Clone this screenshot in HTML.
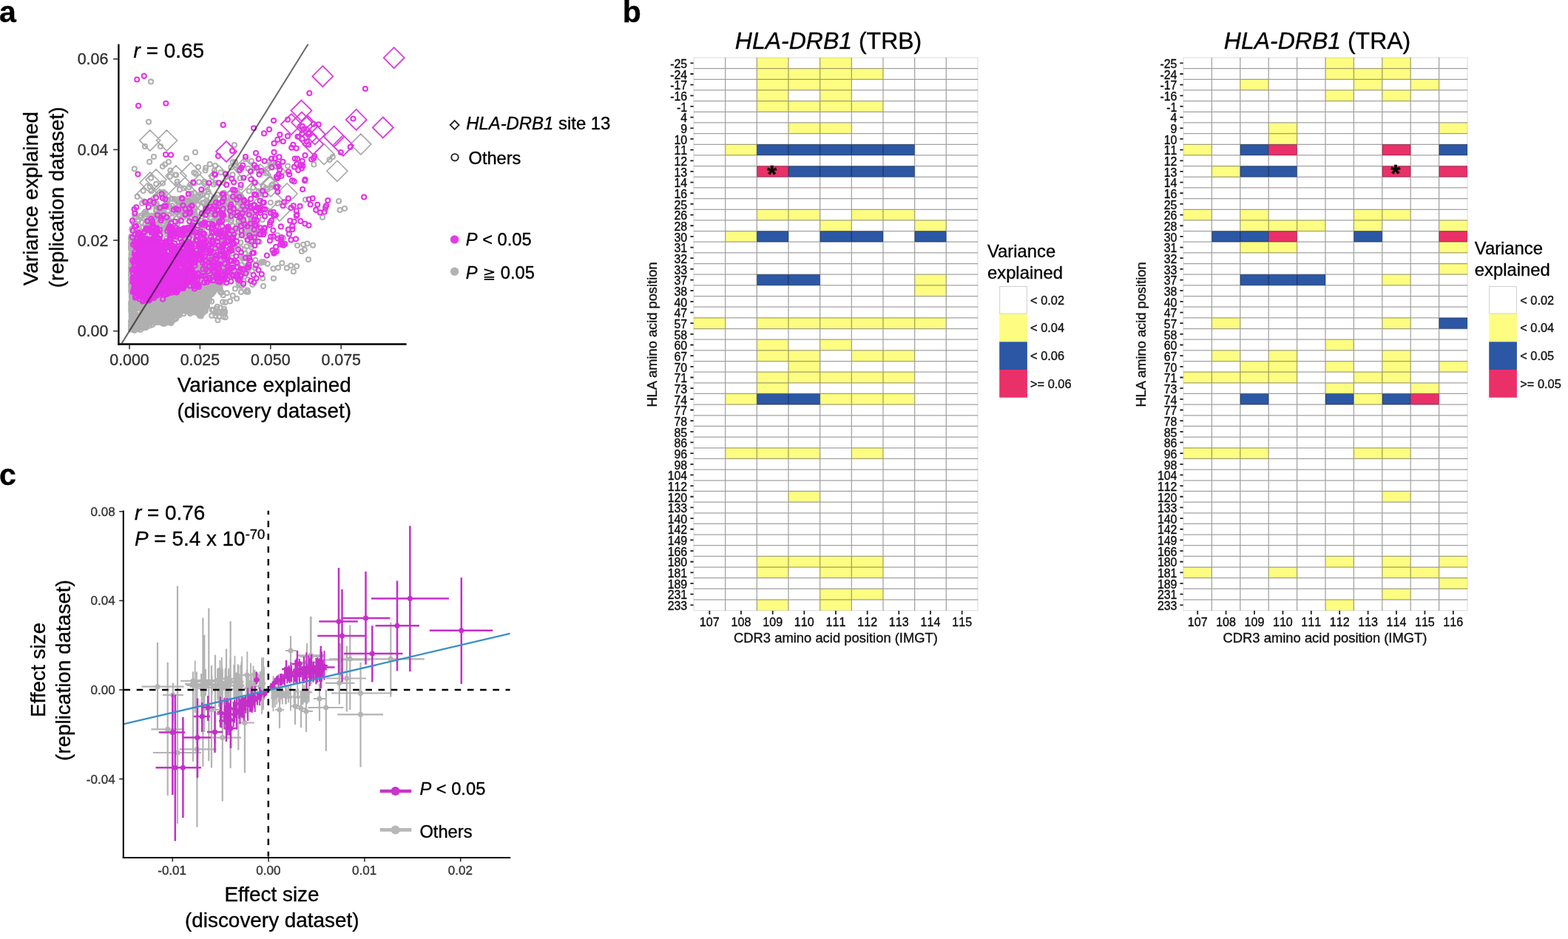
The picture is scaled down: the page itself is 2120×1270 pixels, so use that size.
<!DOCTYPE html>
<html lang="en">
<head>
<meta charset="utf-8">
<title>Figure</title>
<style>
html,body{margin:0;padding:0;background:#fff;}
body{width:2120px;height:1270px;overflow:hidden;}
svg{display:block;font-family:"Liberation Sans", sans-serif;}
text{stroke:#000;stroke-width:0.35px;stroke-linejoin:round;}
</style>
</head>
<body>
<svg width="2120" height="1270" viewBox="0 0 2120 1270">
<rect width="2120" height="1270" fill="#fff"/>
<text x="-1" y="30" font-size="41" font-weight="bold">a</text>
<text x="841.8" y="30" font-size="41" font-weight="bold">b</text>
<text x="-1" y="656.3" font-size="41" font-weight="bold">c</text>
<g id="panel-a">
<g id="scatter-a">
<path d="M186.8 415.3h0M231.2 402.5h0M266.1 396.6h0M243.5 409.8h0M238.9 399.8h0M210.4 419.3h0M276.0 393.1h0M251.1 395.0h0M244.7 414.2h0M269.4 401.1h0M259.5 396.1h0M234.8 425.4h0M222.3 406.0h0M271.7 408.1h0M247.6 406.1h0M211.3 429.9h0M233.0 412.9h0M258.0 411.9h0M233.7 413.5h0M265.6 403.5h0M268.3 398.4h0M229.2 401.8h0M229.7 405.3h0M255.2 399.3h0M241.6 396.1h0M228.3 408.4h0M264.4 406.8h0M262.8 406.0h0M184.0 433.4h0M215.3 426.6h0M250.1 419.9h0M206.3 418.2h0M293.3 384.8h0M193.6 419.1h0M268.4 407.0h0M237.0 414.0h0M197.8 408.7h0M228.3 411.1h0M232.4 413.7h0M233.9 406.2h0M211.4 431.1h0M265.4 405.2h0M221.2 422.5h0M229.9 400.8h0M278.1 398.0h0M229.0 431.1h0M234.2 421.3h0M184.3 412.7h0M252.0 393.7h0M292.9 381.3h0M193.2 420.1h0M198.3 424.3h0M201.7 435.5h0M198.1 425.1h0M276.5 398.1h0M185.3 428.9h0M262.8 404.6h0M229.8 415.9h0M218.1 403.0h0M207.1 405.7h0M291.0 381.5h0M233.7 400.2h0M192.3 418.9h0M259.9 390.5h0M228.7 419.6h0M199.7 405.6h0M241.3 417.9h0M243.0 413.9h0M216.3 423.3h0M197.1 413.7h0M201.1 414.6h0M220.9 419.5h0M223.9 414.7h0M202.8 404.8h0M222.8 422.8h0M211.3 432.0h0M257.1 416.3h0M268.7 400.7h0M251.4 412.1h0M212.7 425.6h0M259.9 408.4h0M257.9 412.3h0M250.2 416.4h0M182.4 435.2h0M277.8 385.8h0M270.7 408.2h0M207.7 412.4h0M250.5 398.0h0M188.8 430.9h0M287.2 390.6h0M234.1 412.3h0M232.0 411.7h0M207.1 406.2h0M273.7 397.4h0M212.9 430.6h0M254.5 397.5h0M281.2 399.3h0M256.7 418.6h0M215.5 420.3h0M184.5 436.8h0M183.9 425.4h0M267.2 407.9h0M222.9 400.1h0M217.6 408.2h0M256.4 418.7h0M217.8 404.4h0M184.8 439.6h0M197.7 424.3h0M272.8 417.1h0M221.4 419.8h0M197.2 416.7h0M184.0 441.6h0M192.0 422.5h0M183.4 418.2h0M226.3 404.6h0M279.7 402.7h0M265.4 402.3h0M237.0 417.4h0M279.5 405.9h0M206.6 419.1h0M258.9 402.9h0M223.3 429.7h0M272.5 412.4h0M235.9 427.5h0M190.2 415.2h0M203.5 407.7h0M292.1 386.7h0M286.9 387.6h0M241.7 402.9h0M182.3 417.5h0M197.8 407.8h0M191.0 439.2h0M280.3 395.3h0M196.5 418.5h0M244.4 398.2h0M268.2 423.0h0M240.3 414.4h0M274.6 389.4h0M276.5 396.6h0M238.4 417.9h0M267.4 409.3h0M276.5 404.9h0M226.4 420.2h0M221.2 400.3h0M233.9 428.9h0M211.1 429.6h0M235.3 398.4h0M255.6 398.2h0M212.0 431.5h0M219.5 424.3h0M264.8 420.1h0M221.7 410.5h0M254.2 396.9h0M265.1 404.9h0M229.4 414.5h0M211.2 429.5h0M236.8 403.3h0M191.2 411.8h0M286.4 386.0h0M205.0 423.6h0M275.8 391.5h0M212.0 417.0h0M237.2 405.5h0M190.7 415.9h0M293.1 383.1h0M251.6 400.3h0M220.7 408.0h0M223.3 429.6h0M194.3 439.7h0M208.0 413.6h0M204.1 419.4h0M246.5 407.8h0M204.9 435.1h0M219.7 426.6h0M262.9 401.7h0M227.9 424.5h0M263.3 403.7h0M241.2 416.4h0M237.3 423.0h0M273.6 418.0h0M278.9 396.0h0M192.7 429.1h0M222.4 409.9h0M188.4 413.5h0M186.6 432.8h0M206.2 415.2h0M187.2 441.3h0M197.6 424.4h0M189.4 432.3h0M247.3 411.8h0M222.6 402.4h0M234.7 398.8h0M240.6 409.9h0M191.4 435.8h0M251.4 401.8h0M195.8 409.6h0M238.1 408.4h0M237.0 425.3h0M236.1 413.3h0M288.1 387.7h0M193.3 413.1h0M223.9 429.7h0M182.3 416.6h0M223.5 421.8h0M191.8 427.0h0M251.9 419.7h0M217.1 415.8h0M253.2 395.7h0M234.8 419.5h0M263.6 405.5h0M199.4 414.3h0M187.1 439.8h0M194.1 410.3h0M190.9 432.8h0M213.5 403.8h0M231.0 409.8h0M210.9 430.4h0M230.3 429.1h0M240.2 407.9h0M190.2 439.3h0M197.3 411.2h0M203.0 433.3h0M273.1 410.0h0M211.7 423.4h0M227.2 423.0h0M196.5 412.3h0M263.9 390.5h0M267.4 393.3h0M274.3 399.8h0M214.8 430.2h0M232.6 411.6h0M241.1 402.1h0M216.0 414.1h0M185.8 413.0h0M235.9 398.8h0M240.6 423.0h0M197.6 410.3h0M239.6 419.0h0M272.1 400.2h0M187.8 416.9h0M276.4 398.8h0M254.9 393.0h0M279.4 395.4h0M260.4 395.5h0M196.6 435.8h0M262.9 416.2h0M284.7 390.7h0M195.0 432.6h0M209.4 422.4h0M219.4 407.9h0M210.0 425.2h0M199.8 436.7h0M262.9 417.4h0M197.3 407.3h0M200.4 422.0h0M244.0 418.4h0M191.8 423.9h0M218.2 415.1h0M228.6 406.4h0M224.5 433.1h0M219.6 423.0h0M196.0 435.2h0M226.5 408.4h0M278.1 400.5h0M205.7 419.0h0M254.7 412.3h0M196.4 424.6h0M245.0 396.2h0M277.2 410.4h0M225.0 406.8h0M183.4 415.9h0M184.5 433.5h0M214.3 424.5h0M194.3 428.5h0M216.9 409.4h0M206.9 412.4h0M267.3 414.1h0M187.4 428.4h0M202.2 404.5h0M234.0 408.6h0M250.5 392.6h0M265.4 413.6h0M275.0 416.9h0M263.3 405.1h0M278.8 398.0h0M241.2 404.0h0M249.5 395.8h0M247.5 412.0h0M196.8 437.8h0M248.1 417.9h0M277.8 396.7h0M275.1 390.6h0M265.5 393.1h0M237.7 412.4h0M213.5 416.9h0M266.9 394.7h0M235.2 402.7h0M262.7 395.4h0M194.5 429.6h0M230.8 427.6h0M230.4 403.3h0M259.8 419.2h0M268.5 408.4h0M233.6 408.5h0M201.6 427.0h0M183.1 408.4h0M253.3 410.9h0M233.3 403.6h0M206.2 431.6h0M185.5 439.5h0M184.0 442.1h0M267.8 400.5h0M219.8 418.7h0M233.7 409.4h0M213.5 422.5h0M247.6 405.3h0M225.7 427.7h0M292.5 382.8h0M278.8 406.3h0M238.1 412.2h0M255.3 412.3h0M270.6 407.8h0M183.8 415.4h0M197.1 423.5h0M243.1 397.5h0M214.1 416.3h0M245.3 404.4h0M268.9 407.8h0M199.6 407.5h0M230.7 419.4h0M256.4 394.0h0M247.2 420.3h0M236.4 426.9h0M243.9 409.7h0M215.6 408.6h0M254.2 414.2h0M282.5 399.5h0M237.5 415.9h0M276.6 411.3h0M218.1 420.8h0M209.1 412.7h0M206.4 413.2h0M272.3 407.3h0M220.9 402.8h0M250.8 417.6h0M277.2 408.8h0M278.3 384.8h0M244.5 403.0h0M212.5 408.8h0M250.1 416.0h0M203.6 416.7h0M272.8 419.5h0M215.3 413.2h0M214.4 401.7h0M210.6 432.2h0M258.5 394.6h0M227.6 402.7h0M182.2 418.7h0M263.3 408.6h0M248.6 416.6h0M208.6 410.4h0M209.9 430.5h0M268.4 392.3h0M234.7 426.0h0M223.9 408.7h0M257.9 392.3h0M242.6 415.5h0M194.9 426.4h0M281.4 402.0h0M213.6 422.8h0M229.1 417.3h0M275.9 411.6h0M282.9 393.4h0M202.5 420.2h0M185.4 441.8h0M268.0 398.2h0M270.8 420.1h0M212.1 405.0h0M219.8 428.0h0M253.0 411.8h0M268.5 405.3h0M254.8 407.3h0M212.3 415.9h0M192.2 421.0h0M239.1 404.8h0M210.1 420.1h0M195.3 408.7h0M240.6 420.5h0M247.9 405.5h0M195.2 410.9h0M216.1 412.7h0M198.6 428.5h0M254.3 403.6h0M271.4 396.9h0M270.2 393.4h0M231.6 432.1h0M214.5 433.8h0M214.6 428.9h0M246.5 403.8h0M185.8 429.5h0M212.6 416.2h0M262.4 416.9h0M270.6 393.5h0M239.4 407.7h0M280.3 385.0h0M270.2 415.4h0M196.3 413.0h0M272.2 399.9h0M238.9 406.6h0M188.2 430.7h0M228.6 398.8h0M269.8 409.6h0M229.2 425.0h0M244.4 416.5h0M247.8 401.3h0M222.4 422.2h0M293.5 383.1h0M237.1 404.7h0M200.5 403.9h0M208.1 411.6h0M223.0 411.5h0M193.3 418.6h0M226.8 426.9h0M257.3 401.4h0M221.6 427.1h0M269.9 410.9h0M250.6 394.2h0M219.5 400.3h0M207.4 432.1h0M192.8 436.8h0M270.3 402.7h0M218.6 430.2h0M245.6 399.2h0M235.4 399.6h0M280.9 386.8h0M193.2 409.3h0M207.9 417.9h0M228.9 422.7h0M270.4 398.0h0M213.3 429.9h0M204.9 406.1h0M228.1 403.7h0M230.4 425.3h0M228.6 414.7h0M192.2 439.1h0M247.0 404.7h0M276.4 415.4h0M206.7 409.6h0M202.8 432.1h0M276.9 402.6h0M186.4 429.3h0M229.4 426.6h0M257.7 409.9h0M275.4 395.4h0M241.9 409.3h0M262.8 388.7h0M236.6 398.5h0M210.3 419.3h0M211.7 405.5h0M231.5 414.3h0M216.3 408.2h0M181.8 413.6h0M282.5 384.1h0M205.2 424.0h0M272.4 403.1h0M193.4 420.5h0M215.9 418.5h0M272.4 408.0h0M276.8 408.0h0M282.8 395.1h0M241.2 403.5h0M197.8 424.0h0M185.0 415.6h0M285.4 385.7h0M195.4 412.7h0M252.4 392.3h0M242.2 398.9h0M192.5 416.3h0M253.7 403.9h0M252.0 401.5h0M251.8 405.6h0M186.3 441.6h0M255.1 420.0h0M184.0 434.1h0M216.9 426.8h0M186.5 413.3h0M203.6 406.7h0M205.1 420.0h0M267.3 391.0h0M282.9 396.2h0M186.8 412.6h0M202.9 410.8h0M209.4 422.2h0M185.9 427.0h0M197.7 422.9h0M209.0 420.6h0M226.4 408.7h0M247.2 410.6h0M266.1 397.1h0M222.9 401.5h0M288.5 387.1h0M228.6 413.6h0M199.0 424.7h0M280.7 384.6h0M261.2 389.4h0M248.7 414.0h0M197.1 426.3h0M242.3 415.6h0M198.3 437.4h0M206.7 429.8h0M203.4 409.2h0M226.6 400.4h0M251.3 362.9h0M187.7 361.0h0M227.8 345.1h0M280.7 363.4h0M210.0 354.1h0M280.8 376.4h0M188.9 359.6h0M236.5 383.6h0M281.7 388.8h0M265.2 390.0h0M290.8 352.9h0M273.1 379.5h0M186.4 390.5h0M269.4 352.7h0M254.9 365.3h0M191.4 362.1h0M184.6 363.5h0M224.4 363.8h0M235.1 380.6h0M247.4 367.6h0M187.6 365.5h0M190.2 395.6h0M274.6 360.5h0M225.5 381.8h0M239.3 364.5h0M197.7 396.7h0M220.6 390.5h0M288.4 380.9h0M280.3 381.8h0M246.0 375.8h0M286.8 388.7h0M247.0 388.3h0M285.6 384.0h0M249.3 387.3h0M262.5 384.0h0M202.2 395.2h0M239.7 370.5h0M195.4 357.2h0M232.3 378.6h0M227.2 386.9h0M237.6 368.3h0M248.5 359.3h0M284.0 369.2h0M214.6 375.2h0M217.9 379.7h0M285.4 380.5h0M289.8 372.6h0M281.5 360.1h0M246.0 386.0h0M290.2 373.7h0M247.2 388.2h0M221.9 395.8h0M220.5 348.8h0M244.3 392.7h0M218.8 386.9h0M237.6 350.1h0M215.6 387.6h0M189.6 353.3h0M290.2 381.0h0M193.5 350.4h0M238.0 389.8h0M202.0 350.5h0M207.6 362.9h0M248.2 355.9h0M285.0 344.6h0M224.0 386.4h0M214.7 394.5h0M286.6 376.2h0M204.4 386.2h0M211.6 350.5h0M220.2 381.6h0M199.5 348.7h0M214.6 377.4h0M200.3 372.1h0M242.4 346.8h0M187.7 385.4h0M266.7 374.7h0M200.7 398.5h0M238.6 353.2h0M280.7 368.4h0M235.1 348.1h0M198.7 390.4h0M184.6 358.7h0M207.8 354.1h0M239.1 365.0h0M240.3 390.0h0M234.9 376.1h0M292.3 357.1h0M238.9 351.8h0M283.7 380.3h0M191.5 362.6h0M188.0 386.2h0M253.4 387.7h0M259.2 352.3h0M238.5 356.2h0M251.9 357.9h0M260.6 365.1h0M196.7 347.3h0M237.6 356.1h0M219.7 373.9h0M238.5 394.6h0M227.4 394.0h0M188.0 347.6h0M276.2 377.4h0M243.2 385.4h0M286.6 370.5h0M184.3 399.7h0M190.9 347.7h0M194.5 379.2h0M188.5 390.7h0M270.8 363.9h0M188.5 392.2h0M291.0 376.9h0M253.0 367.1h0M199.5 396.2h0M256.7 360.5h0M271.7 349.5h0M254.1 364.0h0M263.8 387.2h0M264.7 374.8h0M258.0 363.4h0M235.0 391.8h0M266.7 371.7h0M280.9 385.7h0M268.6 357.8h0M191.3 374.9h0M210.5 368.0h0M254.5 357.2h0M248.8 346.2h0M291.9 356.0h0M253.5 370.7h0M283.4 351.1h0M197.0 391.4h0M217.5 393.4h0M194.5 374.6h0M203.6 380.9h0M274.8 373.5h0M203.4 370.2h0M210.5 377.4h0M209.8 357.1h0M261.5 369.9h0M209.7 352.9h0M246.6 381.7h0M191.6 387.4h0M247.7 353.5h0M218.6 381.2h0M214.3 355.4h0M236.3 391.2h0M211.8 352.3h0M249.5 381.2h0M280.7 380.1h0M261.3 366.1h0M208.5 386.0h0M261.1 370.1h0M293.4 371.1h0M203.2 367.6h0M259.2 380.2h0M260.6 382.1h0M195.9 348.4h0M207.6 355.9h0M221.8 396.9h0M282.3 355.9h0M226.3 383.4h0M220.5 357.7h0M218.4 363.2h0M252.5 354.3h0M253.0 366.3h0M196.4 353.2h0M195.4 356.0h0M275.5 376.8h0M230.3 375.2h0M197.3 371.6h0M188.4 353.9h0M230.5 377.3h0M204.2 365.2h0M265.0 380.3h0M210.9 345.5h0M217.9 386.0h0M247.1 369.5h0M289.1 365.9h0M230.6 363.3h0M228.2 357.7h0M194.4 388.3h0M282.3 376.3h0M255.9 365.2h0M296.8 370.5h0M218.1 386.1h0M284.2 375.6h0M189.8 402.5h0M275.2 362.7h0M235.7 361.1h0M277.0 350.2h0M257.1 348.9h0M235.4 358.6h0M236.3 391.5h0M209.1 361.5h0M227.2 355.2h0M276.9 365.3h0M186.2 386.8h0M218.6 351.4h0M268.5 377.0h0M254.4 365.8h0M233.1 393.2h0M198.2 385.1h0M184.9 350.4h0M228.3 361.6h0M290.0 375.8h0M235.0 354.7h0M271.8 368.4h0M215.9 385.0h0M224.2 377.1h0M290.1 385.3h0M192.4 386.2h0M203.6 357.0h0M238.5 362.8h0M289.1 364.1h0M190.3 345.8h0M245.2 392.1h0M272.2 355.0h0M227.0 394.0h0M233.8 385.6h0M245.1 392.4h0M263.9 350.1h0M261.8 386.1h0M221.0 380.6h0M246.3 371.1h0M205.3 376.7h0M219.9 392.4h0M219.3 351.4h0M245.1 370.8h0M224.1 378.5h0M222.5 394.1h0M240.7 375.1h0M185.9 392.7h0M284.8 369.1h0M209.0 390.1h0M221.7 354.4h0M283.4 380.8h0M269.4 352.8h0M193.6 395.5h0M235.9 357.8h0M259.1 363.3h0M190.7 369.1h0M264.6 375.4h0M279.4 352.1h0M197.3 348.6h0M259.3 357.0h0M233.7 354.6h0M194.1 363.0h0M255.3 345.3h0M225.8 384.6h0M227.7 370.6h0M221.4 379.5h0M243.6 363.1h0M188.9 347.6h0M217.5 375.0h0M253.8 365.8h0M253.1 381.3h0M263.5 373.4h0M205.0 377.4h0M218.0 391.5h0M232.5 392.4h0M189.9 366.1h0M186.3 392.8h0M217.6 366.9h0M228.7 392.9h0M184.0 401.2h0M234.1 370.3h0M212.5 367.3h0M219.2 358.2h0M252.8 385.2h0M284.4 371.7h0M230.8 365.6h0M244.7 373.7h0M269.0 388.9h0M239.1 357.7h0M190.2 360.2h0M218.9 374.6h0M249.1 368.3h0M261.5 381.8h0M266.4 351.3h0M249.4 352.3h0M242.0 375.4h0M265.4 360.9h0M210.0 368.6h0M203.4 397.4h0M277.0 350.9h0M207.4 396.7h0M222.9 357.1h0M222.4 345.3h0M272.3 382.6h0M186.2 358.2h0M204.6 374.8h0M239.1 357.7h0M263.3 371.2h0M209.7 379.6h0M232.4 374.8h0M202.9 368.2h0M248.7 351.8h0M230.0 390.1h0M211.8 378.3h0M289.2 384.2h0M257.7 386.7h0M253.3 347.8h0M224.9 386.3h0M213.2 398.9h0M244.7 374.2h0M215.6 371.2h0M186.9 365.3h0M230.8 395.0h0M228.4 377.3h0M220.0 378.3h0M208.0 373.8h0M226.0 381.9h0M196.6 378.0h0M195.1 359.8h0M271.8 351.1h0M202.1 379.4h0M195.1 370.6h0M208.9 358.9h0M287.6 364.1h0M293.7 378.9h0M217.6 345.3h0M290.4 347.5h0M186.8 394.0h0M238.3 347.6h0M246.9 388.9h0M234.3 374.3h0M271.8 380.0h0M237.7 376.5h0M192.8 372.5h0M218.7 365.5h0M215.5 342.6h0M298.4 357.4h0M259.1 394.4h0M297.8 380.4h0M276.8 341.8h0M295.0 379.6h0M274.7 392.6h0M253.1 340.1h0M238.4 343.1h0M246.7 393.7h0M265.5 391.9h0M266.7 394.7h0M179.8 374.3h0M196.8 402.5h0M270.5 390.9h0M281.3 391.6h0M273.1 341.8h0M221.0 341.0h0M283.5 393.1h0M207.4 343.8h0M274.9 391.6h0M299.2 376.1h0M264.4 392.5h0M251.6 343.7h0M210.9 402.0h0M200.2 404.1h0M233.3 340.2h0M278.6 341.0h0M255.3 342.0h0M262.8 341.3h0M286.0 390.1h0M271.3 340.7h0M242.0 394.6h0M297.0 351.5h0M182.1 344.7h0M179.6 372.5h0M224.5 343.8h0M224.8 400.5h0M182.7 352.2h0M240.4 340.1h0M181.6 356.1h0M252.0 392.7h0M211.8 341.8h0M219.2 400.4h0M211.9 402.1h0M289.0 341.9h0M179.6 399.7h0M299.4 354.7h0M240.0 340.8h0M293.9 347.3h0M289.4 345.4h0M280.1 391.7h0M204.4 345.0h0M241.2 397.0h0M240.8 397.4h0M182.5 361.3h0M278.0 344.1h0M255.5 393.6h0M275.6 341.6h0M284.5 340.4h0M202.2 402.0h0M259.1 341.3h0M272.0 390.9h0M181.6 404.3h0M293.6 347.5h0M296.3 355.9h0M272.3 394.4h0M298.7 355.0h0M226.1 398.3h0M222.6 341.2h0M254.2 340.7h0M181.1 370.4h0M295.1 352.1h0M294.7 351.7h0M282.6 390.6h0M295.5 381.4h0M297.6 349.5h0M249.5 395.3h0M198.6 344.9h0M203.0 342.0h0M180.0 358.0h0M289.7 389.5h0M299.4 357.0h0" fill="none" stroke="#b0b0b0" stroke-width="8.2" stroke-linecap="round"/>
<g fill="none" stroke="#b0b0b0" stroke-width="2.05">
<circle cx="297.3" cy="386.9" r="3.05"/><circle cx="238.7" cy="392.7" r="3.05"/><circle cx="288.9" cy="379.5" r="3.05"/><circle cx="202.6" cy="437.0" r="3.05"/><circle cx="280.1" cy="413.8" r="3.05"/><circle cx="216.0" cy="435.0" r="3.05"/><circle cx="222.9" cy="437.0" r="3.05"/><circle cx="199.6" cy="403.5" r="3.05"/><circle cx="295.7" cy="388.8" r="3.05"/><circle cx="219.6" cy="437.2" r="3.05"/><circle cx="241.5" cy="424.0" r="3.05"/><circle cx="235.8" cy="431.1" r="3.05"/><circle cx="251.0" cy="420.9" r="3.05"/><circle cx="266.7" cy="384.1" r="3.05"/><circle cx="270.7" cy="385.5" r="3.05"/><circle cx="178.4" cy="439.6" r="3.05"/><circle cx="193.7" cy="440.9" r="3.05"/><circle cx="273.3" cy="423.6" r="3.05"/><circle cx="181.6" cy="446.9" r="3.05"/><circle cx="242.7" cy="391.3" r="3.05"/><circle cx="198.2" cy="441.9" r="3.05"/><circle cx="284.9" cy="382.1" r="3.05"/><circle cx="231.6" cy="395.1" r="3.05"/><circle cx="259.0" cy="385.9" r="3.05"/><circle cx="181.9" cy="444.6" r="3.05"/><circle cx="183.0" cy="444.3" r="3.05"/><circle cx="178.5" cy="443.0" r="3.05"/><circle cx="180.3" cy="434.7" r="3.05"/><circle cx="178.8" cy="417.0" r="3.05"/><circle cx="181.2" cy="412.1" r="3.05"/><circle cx="186.2" cy="401.0" r="3.05"/><circle cx="290.0" cy="392.8" r="3.05"/><circle cx="278.9" cy="413.9" r="3.05"/><circle cx="206.0" cy="439.3" r="3.05"/><circle cx="232.8" cy="433.0" r="3.05"/><circle cx="290.5" cy="377.4" r="3.05"/><circle cx="269.6" cy="382.3" r="3.05"/><circle cx="293.4" cy="379.6" r="3.05"/><circle cx="264.7" cy="384.5" r="3.05"/><circle cx="215.2" cy="435.7" r="3.05"/><circle cx="254.6" cy="389.4" r="3.05"/><circle cx="195.3" cy="443.0" r="3.05"/><circle cx="209.2" cy="436.5" r="3.05"/><circle cx="229.1" cy="435.0" r="3.05"/><circle cx="279.8" cy="411.9" r="3.05"/><circle cx="269.9" cy="424.7" r="3.05"/><circle cx="245.8" cy="391.9" r="3.05"/><circle cx="181.8" cy="445.7" r="3.05"/><circle cx="221.8" cy="437.9" r="3.05"/><circle cx="286.4" cy="397.5" r="3.05"/><circle cx="296.1" cy="384.3" r="3.05"/><circle cx="194.0" cy="443.5" r="3.05"/><circle cx="242.5" cy="426.2" r="3.05"/><circle cx="241.7" cy="395.5" r="3.05"/><circle cx="188.8" cy="407.9" r="3.05"/><circle cx="183.3" cy="445.8" r="3.05"/><circle cx="239.8" cy="395.0" r="3.05"/><circle cx="271.0" cy="385.6" r="3.05"/><circle cx="225.2" cy="436.3" r="3.05"/><circle cx="243.5" cy="423.8" r="3.05"/><circle cx="284.3" cy="394.1" r="3.05"/><circle cx="214.1" cy="399.6" r="3.05"/><circle cx="278.8" cy="383.3" r="3.05"/><circle cx="178.6" cy="426.2" r="3.05"/><circle cx="268.2" cy="424.3" r="3.05"/><circle cx="181.0" cy="402.2" r="3.05"/><circle cx="243.6" cy="421.4" r="3.05"/><circle cx="178.0" cy="409.5" r="3.05"/><circle cx="256.4" cy="421.8" r="3.05"/><circle cx="238.9" cy="392.9" r="3.05"/><circle cx="243.9" cy="391.3" r="3.05"/><circle cx="282.6" cy="383.2" r="3.05"/><circle cx="220.3" cy="399.8" r="3.05"/><circle cx="290.4" cy="390.5" r="3.05"/><circle cx="289.6" cy="380.3" r="3.05"/><circle cx="295.2" cy="387.0" r="3.05"/><circle cx="183.5" cy="397.8" r="3.05"/><circle cx="247.9" cy="392.6" r="3.05"/><circle cx="202.8" cy="400.1" r="3.05"/><circle cx="224.9" cy="434.9" r="3.05"/><circle cx="202.5" cy="440.4" r="3.05"/><circle cx="242.0" cy="423.0" r="3.05"/><circle cx="222.5" cy="396.2" r="3.05"/><circle cx="275.3" cy="380.7" r="3.05"/><circle cx="180.1" cy="411.5" r="3.05"/><circle cx="202.5" cy="398.6" r="3.05"/><circle cx="278.0" cy="418.3" r="3.05"/><circle cx="179.4" cy="442.5" r="3.05"/><circle cx="235.9" cy="397.1" r="3.05"/><circle cx="294.6" cy="385.9" r="3.05"/><circle cx="291.8" cy="378.2" r="3.05"/><circle cx="178.7" cy="419.0" r="3.05"/><circle cx="296.2" cy="381.7" r="3.05"/><circle cx="241.5" cy="395.4" r="3.05"/><circle cx="181.2" cy="427.1" r="3.05"/><circle cx="186.5" cy="445.1" r="3.05"/><circle cx="288.9" cy="394.8" r="3.05"/><circle cx="179.4" cy="403.8" r="3.05"/><circle cx="178.3" cy="423.4" r="3.05"/><circle cx="180.9" cy="442.6" r="3.05"/><circle cx="258.2" cy="421.1" r="3.05"/><circle cx="238.4" cy="430.6" r="3.05"/><circle cx="213.3" cy="435.9" r="3.05"/><circle cx="192.7" cy="441.0" r="3.05"/><circle cx="294.6" cy="380.3" r="3.05"/><circle cx="282.8" cy="402.3" r="3.05"/><circle cx="201.3" cy="400.2" r="3.05"/><circle cx="196.1" cy="405.2" r="3.05"/><circle cx="230.8" cy="397.4" r="3.05"/><circle cx="177.5" cy="420.0" r="3.05"/><circle cx="182.8" cy="399.4" r="3.05"/><circle cx="186.1" cy="401.1" r="3.05"/><circle cx="259.6" cy="388.3" r="3.05"/><circle cx="208.7" cy="397.6" r="3.05"/><circle cx="181.4" cy="445.7" r="3.05"/><circle cx="264.3" cy="385.8" r="3.05"/><circle cx="184.6" cy="398.5" r="3.05"/><circle cx="291.7" cy="378.5" r="3.05"/><circle cx="276.3" cy="419.5" r="3.05"/><circle cx="278.7" cy="412.3" r="3.05"/><circle cx="282.3" cy="403.2" r="3.05"/><circle cx="177.6" cy="412.5" r="3.05"/><circle cx="186.8" cy="403.0" r="3.05"/><circle cx="227.7" cy="397.9" r="3.05"/><circle cx="185.1" cy="443.0" r="3.05"/><circle cx="233.8" cy="395.5" r="3.05"/><circle cx="273.3" cy="384.8" r="3.05"/><circle cx="178.8" cy="411.3" r="3.05"/><circle cx="225.9" cy="396.9" r="3.05"/><circle cx="290.5" cy="379.3" r="3.05"/><circle cx="195.0" cy="405.5" r="3.05"/><circle cx="224.4" cy="397.3" r="3.05"/><circle cx="258.1" cy="420.6" r="3.05"/><circle cx="196.4" cy="404.0" r="3.05"/><circle cx="300.0" cy="382.8" r="3.05"/><circle cx="276.4" cy="383.7" r="3.05"/><circle cx="271.1" cy="425.0" r="3.05"/><circle cx="186.2" cy="442.6" r="3.05"/><circle cx="257.1" cy="424.1" r="3.05"/><circle cx="183.0" cy="399.6" r="3.05"/><circle cx="248.2" cy="392.1" r="3.05"/><circle cx="253.8" cy="420.5" r="3.05"/><circle cx="247.5" cy="389.3" r="3.05"/><circle cx="222.9" cy="395.5" r="3.05"/><circle cx="277.6" cy="420.8" r="3.05"/><circle cx="271.1" cy="424.9" r="3.05"/><circle cx="262.1" cy="422.4" r="3.05"/><circle cx="206.6" cy="399.6" r="3.05"/><circle cx="284.3" cy="398.8" r="3.05"/><circle cx="229.6" cy="434.1" r="3.05"/><circle cx="177.9" cy="438.2" r="3.05"/><circle cx="298.0" cy="384.7" r="3.05"/><circle cx="194.9" cy="442.7" r="3.05"/><circle cx="233.0" cy="434.3" r="3.05"/><circle cx="190.4" cy="405.8" r="3.05"/><circle cx="290.7" cy="380.6" r="3.05"/><circle cx="268.0" cy="383.2" r="3.05"/><circle cx="184.6" cy="445.2" r="3.05"/><circle cx="260.2" cy="388.2" r="3.05"/><circle cx="274.6" cy="381.4" r="3.05"/><circle cx="226.2" cy="433.7" r="3.05"/><circle cx="292.3" cy="378.3" r="3.05"/><circle cx="271.8" cy="427.4" r="3.05"/><circle cx="228.5" cy="433.9" r="3.05"/><circle cx="275.6" cy="382.1" r="3.05"/><circle cx="258.4" cy="387.3" r="3.05"/><circle cx="261.6" cy="421.1" r="3.05"/><circle cx="268.3" cy="424.3" r="3.05"/><circle cx="278.4" cy="382.7" r="3.05"/><circle cx="190.0" cy="446.0" r="3.05"/><circle cx="178.1" cy="395.4" r="3.05"/><circle cx="179.1" cy="413.1" r="3.05"/><circle cx="179.5" cy="404.6" r="3.05"/><circle cx="226.5" cy="394.8" r="3.05"/><circle cx="274.4" cy="423.3" r="3.05"/><circle cx="286.2" cy="379.9" r="3.05"/><circle cx="182.1" cy="396.6" r="3.05"/><circle cx="251.4" cy="389.0" r="3.05"/><circle cx="271.8" cy="385.2" r="3.05"/><circle cx="188.7" cy="404.7" r="3.05"/><circle cx="222.7" cy="436.3" r="3.05"/><circle cx="289.7" cy="389.4" r="3.05"/><circle cx="180.4" cy="430.8" r="3.05"/><circle cx="187.2" cy="444.8" r="3.05"/><circle cx="245.8" cy="392.0" r="3.05"/><circle cx="262.7" cy="421.0" r="3.05"/><circle cx="231.2" cy="437.1" r="3.05"/><circle cx="286.8" cy="378.8" r="3.05"/><circle cx="256.1" cy="387.4" r="3.05"/><circle cx="179.5" cy="433.1" r="3.05"/><circle cx="183.5" cy="398.3" r="3.05"/><circle cx="192.7" cy="406.7" r="3.05"/><circle cx="264.9" cy="385.0" r="3.05"/><circle cx="183.9" cy="398.4" r="3.05"/><circle cx="224.1" cy="395.5" r="3.05"/><circle cx="271.6" cy="385.8" r="3.05"/><circle cx="180.4" cy="442.3" r="3.05"/><circle cx="277.4" cy="382.1" r="3.05"/><circle cx="230.1" cy="436.1" r="3.05"/><circle cx="250.2" cy="392.2" r="3.05"/><circle cx="288.0" cy="393.4" r="3.05"/><circle cx="178.3" cy="397.0" r="3.05"/><circle cx="271.5" cy="424.3" r="3.05"/><circle cx="263.0" cy="384.0" r="3.05"/><circle cx="248.3" cy="424.2" r="3.05"/><circle cx="266.9" cy="385.0" r="3.05"/><circle cx="278.0" cy="384.0" r="3.05"/><circle cx="283.1" cy="406.3" r="3.05"/><circle cx="270.1" cy="427.1" r="3.05"/><circle cx="260.0" cy="387.1" r="3.05"/><circle cx="291.8" cy="389.7" r="3.05"/><circle cx="236.7" cy="431.8" r="3.05"/><circle cx="189.9" cy="404.6" r="3.05"/><circle cx="180.5" cy="401.6" r="3.05"/><circle cx="231.8" cy="435.1" r="3.05"/><circle cx="293.0" cy="388.3" r="3.05"/><circle cx="209.4" cy="401.2" r="3.05"/><circle cx="251.6" cy="420.4" r="3.05"/><circle cx="180.2" cy="431.4" r="3.05"/><circle cx="294.6" cy="378.5" r="3.05"/><circle cx="183.0" cy="444.3" r="3.05"/><circle cx="197.3" cy="443.1" r="3.05"/><circle cx="257.2" cy="388.9" r="3.05"/><circle cx="252.0" cy="388.5" r="3.05"/><circle cx="180.9" cy="403.7" r="3.05"/><circle cx="192.7" cy="405.6" r="3.05"/><circle cx="178.3" cy="420.4" r="3.05"/><circle cx="177.6" cy="326.0" r="3.05"/><circle cx="177.0" cy="328.6" r="3.05"/><circle cx="177.5" cy="331.2" r="3.05"/><circle cx="177.0" cy="333.8" r="3.05"/><circle cx="177.2" cy="336.4" r="3.05"/><circle cx="177.8" cy="339.0" r="3.05"/><circle cx="177.8" cy="341.6" r="3.05"/><circle cx="177.5" cy="344.2" r="3.05"/><circle cx="178.1" cy="346.8" r="3.05"/><circle cx="177.1" cy="349.4" r="3.05"/><circle cx="177.3" cy="352.0" r="3.05"/><circle cx="177.6" cy="354.6" r="3.05"/><circle cx="177.4" cy="357.2" r="3.05"/><circle cx="177.7" cy="359.8" r="3.05"/><circle cx="177.0" cy="362.4" r="3.05"/><circle cx="177.8" cy="365.0" r="3.05"/><circle cx="177.1" cy="367.6" r="3.05"/><circle cx="177.2" cy="370.2" r="3.05"/><circle cx="177.1" cy="372.8" r="3.05"/><circle cx="177.8" cy="375.4" r="3.05"/><circle cx="176.9" cy="378.0" r="3.05"/><circle cx="178.1" cy="380.6" r="3.05"/><circle cx="177.3" cy="383.2" r="3.05"/><circle cx="177.2" cy="385.8" r="3.05"/><circle cx="177.3" cy="388.4" r="3.05"/><circle cx="177.5" cy="391.0" r="3.05"/><circle cx="177.2" cy="393.6" r="3.05"/><circle cx="177.8" cy="396.2" r="3.05"/><circle cx="177.8" cy="398.8" r="3.05"/><circle cx="177.7" cy="401.4" r="3.05"/><circle cx="178.0" cy="404.0" r="3.05"/><circle cx="177.8" cy="406.6" r="3.05"/><circle cx="177.1" cy="409.2" r="3.05"/><circle cx="177.2" cy="411.8" r="3.05"/><circle cx="177.5" cy="414.4" r="3.05"/><circle cx="177.3" cy="417.0" r="3.05"/><circle cx="177.4" cy="419.6" r="3.05"/><circle cx="177.5" cy="422.2" r="3.05"/><circle cx="177.8" cy="424.8" r="3.05"/><circle cx="177.6" cy="427.4" r="3.05"/><circle cx="177.9" cy="430.0" r="3.05"/><circle cx="177.6" cy="432.6" r="3.05"/><circle cx="176.9" cy="435.2" r="3.05"/><circle cx="178.1" cy="437.8" r="3.05"/><circle cx="177.1" cy="440.4" r="3.05"/><circle cx="177.4" cy="443.0" r="3.05"/><circle cx="176.9" cy="445.6" r="3.05"/><circle cx="265.2" cy="382.9" r="3.05"/><circle cx="290.9" cy="293.9" r="3.05"/><circle cx="225.4" cy="322.0" r="3.05"/><circle cx="336.4" cy="349.1" r="3.05"/><circle cx="309.1" cy="360.7" r="3.05"/><circle cx="274.1" cy="274.0" r="3.05"/><circle cx="219.1" cy="284.1" r="3.05"/><circle cx="196.4" cy="286.2" r="3.05"/><circle cx="240.1" cy="285.4" r="3.05"/><circle cx="300.7" cy="297.1" r="3.05"/><circle cx="275.7" cy="368.2" r="3.05"/><circle cx="199.6" cy="305.2" r="3.05"/><circle cx="272.7" cy="370.9" r="3.05"/><circle cx="267.6" cy="330.1" r="3.05"/><circle cx="211.1" cy="304.6" r="3.05"/><circle cx="227.0" cy="298.2" r="3.05"/><circle cx="279.8" cy="265.3" r="3.05"/><circle cx="301.8" cy="351.5" r="3.05"/><circle cx="285.8" cy="347.0" r="3.05"/><circle cx="293.2" cy="364.5" r="3.05"/><circle cx="299.1" cy="317.4" r="3.05"/><circle cx="271.5" cy="325.0" r="3.05"/><circle cx="190.7" cy="291.5" r="3.05"/><circle cx="246.5" cy="276.2" r="3.05"/><circle cx="221.6" cy="311.1" r="3.05"/><circle cx="248.8" cy="290.5" r="3.05"/><circle cx="182.4" cy="294.7" r="3.05"/><circle cx="317.6" cy="370.3" r="3.05"/><circle cx="264.3" cy="360.2" r="3.05"/><circle cx="206.4" cy="301.5" r="3.05"/><circle cx="232.4" cy="308.5" r="3.05"/><circle cx="273.8" cy="312.0" r="3.05"/><circle cx="264.3" cy="387.1" r="3.05"/><circle cx="300.7" cy="337.4" r="3.05"/><circle cx="204.6" cy="319.5" r="3.05"/><circle cx="262.5" cy="316.0" r="3.05"/><circle cx="327.6" cy="286.2" r="3.05"/><circle cx="295.2" cy="354.5" r="3.05"/><circle cx="252.1" cy="330.4" r="3.05"/><circle cx="333.4" cy="333.2" r="3.05"/><circle cx="308.7" cy="322.8" r="3.05"/><circle cx="274.9" cy="287.2" r="3.05"/><circle cx="312.1" cy="370.9" r="3.05"/><circle cx="266.3" cy="266.0" r="3.05"/><circle cx="340.0" cy="286.7" r="3.05"/><circle cx="277.2" cy="305.5" r="3.05"/><circle cx="178.0" cy="377.8" r="3.05"/><circle cx="219.7" cy="295.4" r="3.05"/><circle cx="278.7" cy="358.2" r="3.05"/><circle cx="326.7" cy="364.4" r="3.05"/><circle cx="259.3" cy="384.0" r="3.05"/><circle cx="299.8" cy="279.4" r="3.05"/><circle cx="237.6" cy="322.9" r="3.05"/><circle cx="328.7" cy="270.8" r="3.05"/><circle cx="263.1" cy="388.4" r="3.05"/><circle cx="247.7" cy="319.8" r="3.05"/><circle cx="297.7" cy="341.9" r="3.05"/><circle cx="295.8" cy="315.5" r="3.05"/><circle cx="252.8" cy="284.7" r="3.05"/><circle cx="232.5" cy="278.3" r="3.05"/><circle cx="250.9" cy="312.4" r="3.05"/><circle cx="339.7" cy="298.2" r="3.05"/><circle cx="286.6" cy="367.9" r="3.05"/><circle cx="335.7" cy="304.8" r="3.05"/><circle cx="307.5" cy="313.0" r="3.05"/><circle cx="228.1" cy="279.3" r="3.05"/><circle cx="325.8" cy="292.9" r="3.05"/><circle cx="309.9" cy="340.9" r="3.05"/><circle cx="286.1" cy="369.7" r="3.05"/><circle cx="255.8" cy="274.6" r="3.05"/><circle cx="222.3" cy="289.4" r="3.05"/><circle cx="261.8" cy="276.7" r="3.05"/><circle cx="253.0" cy="314.4" r="3.05"/><circle cx="310.6" cy="269.7" r="3.05"/><circle cx="281.2" cy="355.6" r="3.05"/><circle cx="182.4" cy="291.7" r="3.05"/><circle cx="335.5" cy="324.5" r="3.05"/><circle cx="257.9" cy="385.7" r="3.05"/><circle cx="340.0" cy="334.3" r="3.05"/><circle cx="200.4" cy="311.5" r="3.05"/><circle cx="218.8" cy="310.9" r="3.05"/><circle cx="302.8" cy="268.5" r="3.05"/><circle cx="271.0" cy="318.1" r="3.05"/><circle cx="326.5" cy="278.0" r="3.05"/><circle cx="306.6" cy="370.2" r="3.05"/><circle cx="319.9" cy="306.3" r="3.05"/><circle cx="336.4" cy="348.1" r="3.05"/><circle cx="301.1" cy="363.6" r="3.05"/><circle cx="328.9" cy="370.2" r="3.05"/><circle cx="321.2" cy="375.9" r="3.05"/><circle cx="186.9" cy="297.5" r="3.05"/><circle cx="323.1" cy="303.5" r="3.05"/><circle cx="325.4" cy="328.0" r="3.05"/><circle cx="224.5" cy="276.6" r="3.05"/><circle cx="309.8" cy="315.0" r="3.05"/><circle cx="330.7" cy="313.2" r="3.05"/><circle cx="315.9" cy="333.3" r="3.05"/><circle cx="316.8" cy="312.0" r="3.05"/><circle cx="311.7" cy="300.4" r="3.05"/><circle cx="320.6" cy="319.5" r="3.05"/><circle cx="291.8" cy="315.6" r="3.05"/><circle cx="294.2" cy="282.8" r="3.05"/><circle cx="180.8" cy="322.3" r="3.05"/><circle cx="300.9" cy="358.1" r="3.05"/><circle cx="290.1" cy="305.8" r="3.05"/><circle cx="206.6" cy="300.5" r="3.05"/><circle cx="292.4" cy="347.9" r="3.05"/><circle cx="288.6" cy="275.4" r="3.05"/><circle cx="285.5" cy="295.6" r="3.05"/><circle cx="293.6" cy="382.5" r="3.05"/><circle cx="223.8" cy="306.7" r="3.05"/><circle cx="248.4" cy="270.0" r="3.05"/><circle cx="263.2" cy="281.0" r="3.05"/><circle cx="221.3" cy="280.2" r="3.05"/><circle cx="204.3" cy="291.6" r="3.05"/><circle cx="282.3" cy="288.3" r="3.05"/><circle cx="303.9" cy="319.1" r="3.05"/><circle cx="278.4" cy="281.0" r="3.05"/><circle cx="289.7" cy="363.2" r="3.05"/><circle cx="252.5" cy="323.0" r="3.05"/><circle cx="313.6" cy="281.5" r="3.05"/><circle cx="228.0" cy="290.4" r="3.05"/><circle cx="187.0" cy="298.4" r="3.05"/><circle cx="330.0" cy="272.7" r="3.05"/><circle cx="339.3" cy="284.7" r="3.05"/><circle cx="251.1" cy="287.4" r="3.05"/><circle cx="322.8" cy="265.5" r="3.05"/><circle cx="276.7" cy="301.0" r="3.05"/><circle cx="339.9" cy="299.8" r="3.05"/><circle cx="270.6" cy="311.0" r="3.05"/><circle cx="201.5" cy="305.4" r="3.05"/><circle cx="325.4" cy="284.5" r="3.05"/><circle cx="260.9" cy="299.8" r="3.05"/><circle cx="318.2" cy="354.1" r="3.05"/><circle cx="272.4" cy="388.0" r="3.05"/><circle cx="290.3" cy="275.3" r="3.05"/><circle cx="280.7" cy="279.9" r="3.05"/><circle cx="237.1" cy="281.2" r="3.05"/><circle cx="310.6" cy="315.8" r="3.05"/><circle cx="261.4" cy="285.0" r="3.05"/><circle cx="292.7" cy="355.4" r="3.05"/><circle cx="177.4" cy="322.9" r="3.05"/><circle cx="311.6" cy="292.4" r="3.05"/><circle cx="322.7" cy="262.7" r="3.05"/><circle cx="300.3" cy="321.1" r="3.05"/><circle cx="301.4" cy="347.5" r="3.05"/><circle cx="288.8" cy="330.8" r="3.05"/><circle cx="299.4" cy="294.2" r="3.05"/><circle cx="330.3" cy="368.0" r="3.05"/><circle cx="335.2" cy="315.7" r="3.05"/><circle cx="304.1" cy="364.3" r="3.05"/><circle cx="331.5" cy="342.6" r="3.05"/><circle cx="196.8" cy="303.0" r="3.05"/><circle cx="247.0" cy="275.7" r="3.05"/><circle cx="298.0" cy="275.5" r="3.05"/><circle cx="312.6" cy="289.0" r="3.05"/><circle cx="317.6" cy="282.8" r="3.05"/><circle cx="291.9" cy="293.8" r="3.05"/><circle cx="256.7" cy="272.2" r="3.05"/><circle cx="307.2" cy="320.0" r="3.05"/><circle cx="327.4" cy="349.2" r="3.05"/><circle cx="238.0" cy="287.3" r="3.05"/><circle cx="307.8" cy="295.5" r="3.05"/><circle cx="307.2" cy="296.2" r="3.05"/><circle cx="322.3" cy="299.2" r="3.05"/><circle cx="211.6" cy="283.3" r="3.05"/><circle cx="248.0" cy="293.8" r="3.05"/><circle cx="290.8" cy="271.1" r="3.05"/><circle cx="271.5" cy="335.1" r="3.05"/><circle cx="270.1" cy="332.4" r="3.05"/><circle cx="239.6" cy="303.7" r="3.05"/><circle cx="277.2" cy="305.1" r="3.05"/><circle cx="333.4" cy="276.2" r="3.05"/><circle cx="191.8" cy="308.1" r="3.05"/><circle cx="229.2" cy="298.5" r="3.05"/><circle cx="225.5" cy="299.9" r="3.05"/><circle cx="243.6" cy="318.5" r="3.05"/><circle cx="319.2" cy="262.1" r="3.05"/><circle cx="333.5" cy="349.0" r="3.05"/><circle cx="307.8" cy="267.7" r="3.05"/><circle cx="181.8" cy="324.0" r="3.05"/><circle cx="270.3" cy="302.5" r="3.05"/><circle cx="282.3" cy="273.7" r="3.05"/><circle cx="201.9" cy="318.1" r="3.05"/><circle cx="191.3" cy="300.7" r="3.05"/><circle cx="263.1" cy="296.1" r="3.05"/><circle cx="254.4" cy="277.1" r="3.05"/><circle cx="277.3" cy="338.8" r="3.05"/><circle cx="320.6" cy="286.5" r="3.05"/><circle cx="289.2" cy="336.5" r="3.05"/><circle cx="248.9" cy="283.5" r="3.05"/><circle cx="331.7" cy="319.5" r="3.05"/><circle cx="273.7" cy="378.5" r="3.05"/><circle cx="273.0" cy="342.4" r="3.05"/><circle cx="303.9" cy="345.4" r="3.05"/><circle cx="258.0" cy="281.2" r="3.05"/><circle cx="296.9" cy="295.1" r="3.05"/><circle cx="193.5" cy="315.1" r="3.05"/><circle cx="333.7" cy="366.7" r="3.05"/><circle cx="253.7" cy="322.4" r="3.05"/><circle cx="314.3" cy="334.9" r="3.05"/><circle cx="241.0" cy="299.7" r="3.05"/><circle cx="324.4" cy="263.8" r="3.05"/><circle cx="256.6" cy="328.1" r="3.05"/><circle cx="222.1" cy="309.0" r="3.05"/><circle cx="272.3" cy="358.4" r="3.05"/><circle cx="242.6" cy="310.4" r="3.05"/><circle cx="322.7" cy="299.1" r="3.05"/><circle cx="336.9" cy="291.2" r="3.05"/><circle cx="296.9" cy="274.4" r="3.05"/><circle cx="250.5" cy="279.4" r="3.05"/><circle cx="238.5" cy="286.4" r="3.05"/><circle cx="340.2" cy="303.2" r="3.05"/><circle cx="282.3" cy="283.6" r="3.05"/><circle cx="177.1" cy="323.0" r="3.05"/><circle cx="233.8" cy="320.5" r="3.05"/><circle cx="204.8" cy="299.7" r="3.05"/><circle cx="339.2" cy="296.9" r="3.05"/><circle cx="325.3" cy="335.5" r="3.05"/><circle cx="310.9" cy="329.9" r="3.05"/><circle cx="194.3" cy="320.7" r="3.05"/><circle cx="259.1" cy="305.6" r="3.05"/><circle cx="313.0" cy="283.8" r="3.05"/><circle cx="249.2" cy="318.3" r="3.05"/><circle cx="318.8" cy="265.9" r="3.05"/><circle cx="222.9" cy="294.3" r="3.05"/><circle cx="264.6" cy="291.1" r="3.05"/><circle cx="333.0" cy="311.2" r="3.05"/><circle cx="262.9" cy="286.5" r="3.05"/><circle cx="300.9" cy="284.5" r="3.05"/><circle cx="332.5" cy="286.0" r="3.05"/><circle cx="326.7" cy="358.2" r="3.05"/><circle cx="249.5" cy="390.4" r="3.05"/><circle cx="306.4" cy="323.6" r="3.05"/><circle cx="235.6" cy="305.3" r="3.05"/><circle cx="197.7" cy="307.2" r="3.05"/><circle cx="302.0" cy="377.2" r="3.05"/><circle cx="330.2" cy="282.3" r="3.05"/><circle cx="247.8" cy="283.6" r="3.05"/><circle cx="296.8" cy="382.7" r="3.05"/><circle cx="308.2" cy="273.7" r="3.05"/><circle cx="302.7" cy="273.1" r="3.05"/><circle cx="265.7" cy="377.3" r="3.05"/><circle cx="304.1" cy="322.3" r="3.05"/><circle cx="252.1" cy="311.8" r="3.05"/><circle cx="254.3" cy="387.1" r="3.05"/><circle cx="195.6" cy="295.2" r="3.05"/><circle cx="313.0" cy="298.1" r="3.05"/><circle cx="300.2" cy="322.9" r="3.05"/><circle cx="282.9" cy="319.8" r="3.05"/><circle cx="271.2" cy="370.1" r="3.05"/><circle cx="221.3" cy="304.9" r="3.05"/><circle cx="261.2" cy="273.0" r="3.05"/><circle cx="301.8" cy="283.7" r="3.05"/><circle cx="216.7" cy="307.2" r="3.05"/><circle cx="285.4" cy="288.9" r="3.05"/><circle cx="252.0" cy="286.5" r="3.05"/><circle cx="330.4" cy="337.5" r="3.05"/><circle cx="271.2" cy="385.6" r="3.05"/><circle cx="241.9" cy="284.8" r="3.05"/><circle cx="251.6" cy="326.3" r="3.05"/><circle cx="216.6" cy="280.4" r="3.05"/><circle cx="329.0" cy="348.3" r="3.05"/><circle cx="315.0" cy="373.7" r="3.05"/><circle cx="179.4" cy="368.5" r="3.05"/><circle cx="313.3" cy="326.4" r="3.05"/><circle cx="270.1" cy="358.6" r="3.05"/><circle cx="306.4" cy="282.6" r="3.05"/><circle cx="193.7" cy="319.9" r="3.05"/><circle cx="303.7" cy="273.6" r="3.05"/><circle cx="342.7" cy="317.7" r="3.05"/><circle cx="320.5" cy="363.0" r="3.05"/><circle cx="241.1" cy="274.4" r="3.05"/><circle cx="319.7" cy="291.5" r="3.05"/><circle cx="324.9" cy="372.2" r="3.05"/><circle cx="219.1" cy="282.1" r="3.05"/><circle cx="274.3" cy="363.3" r="3.05"/><circle cx="261.7" cy="284.5" r="3.05"/><circle cx="317.8" cy="332.1" r="3.05"/><circle cx="232.9" cy="294.2" r="3.05"/><circle cx="263.1" cy="314.5" r="3.05"/><circle cx="288.9" cy="334.4" r="3.05"/><circle cx="225.4" cy="314.8" r="3.05"/><circle cx="238.7" cy="282.8" r="3.05"/><circle cx="330.9" cy="354.4" r="3.05"/><circle cx="293.9" cy="378.9" r="3.05"/><circle cx="281.6" cy="375.4" r="3.05"/><circle cx="217.4" cy="297.2" r="3.05"/><circle cx="215.0" cy="280.5" r="3.05"/><circle cx="306.4" cy="280.6" r="3.05"/><circle cx="336.2" cy="360.6" r="3.05"/><circle cx="327.0" cy="301.3" r="3.05"/><circle cx="275.5" cy="317.5" r="3.05"/><circle cx="274.1" cy="384.3" r="3.05"/><circle cx="280.1" cy="332.4" r="3.05"/><circle cx="260.5" cy="368.5" r="3.05"/><circle cx="207.7" cy="293.0" r="3.05"/><circle cx="309.5" cy="362.6" r="3.05"/><circle cx="331.9" cy="364.0" r="3.05"/><circle cx="314.1" cy="342.8" r="3.05"/><circle cx="303.1" cy="293.2" r="3.05"/><circle cx="212.1" cy="300.3" r="3.05"/><circle cx="294.1" cy="373.6" r="3.05"/><circle cx="340.4" cy="312.8" r="3.05"/><circle cx="278.3" cy="380.0" r="3.05"/><circle cx="314.4" cy="305.3" r="3.05"/><circle cx="327.5" cy="298.0" r="3.05"/><circle cx="279.9" cy="325.8" r="3.05"/><circle cx="325.4" cy="288.7" r="3.05"/><circle cx="211.0" cy="284.9" r="3.05"/><circle cx="324.5" cy="366.6" r="3.05"/><circle cx="230.7" cy="322.5" r="3.05"/><circle cx="262.9" cy="296.4" r="3.05"/><circle cx="331.9" cy="282.4" r="3.05"/><circle cx="261.8" cy="309.3" r="3.05"/><circle cx="311.6" cy="373.3" r="3.05"/><circle cx="308.8" cy="266.9" r="3.05"/><circle cx="215.8" cy="289.6" r="3.05"/><circle cx="183.8" cy="294.2" r="3.05"/><circle cx="321.1" cy="272.9" r="3.05"/><circle cx="327.6" cy="366.4" r="3.05"/><circle cx="287.2" cy="339.9" r="3.05"/><circle cx="261.9" cy="287.4" r="3.05"/><circle cx="258.0" cy="306.7" r="3.05"/><circle cx="263.1" cy="271.1" r="3.05"/><circle cx="214.8" cy="294.4" r="3.05"/><circle cx="216.7" cy="319.4" r="3.05"/><circle cx="244.4" cy="286.8" r="3.05"/><circle cx="241.9" cy="290.5" r="3.05"/><circle cx="341.8" cy="324.8" r="3.05"/><circle cx="294.2" cy="263.3" r="3.05"/><circle cx="271.7" cy="312.7" r="3.05"/><circle cx="320.6" cy="263.0" r="3.05"/><circle cx="306.9" cy="346.2" r="3.05"/><circle cx="296.9" cy="298.1" r="3.05"/><circle cx="239.4" cy="272.3" r="3.05"/><circle cx="237.6" cy="317.5" r="3.05"/><circle cx="292.6" cy="300.0" r="3.05"/><circle cx="300.7" cy="327.1" r="3.05"/><circle cx="312.8" cy="284.2" r="3.05"/><circle cx="272.2" cy="353.0" r="3.05"/><circle cx="226.9" cy="308.3" r="3.05"/><circle cx="281.5" cy="346.5" r="3.05"/><circle cx="317.8" cy="370.8" r="3.05"/><circle cx="177.3" cy="319.9" r="3.05"/><circle cx="279.3" cy="341.8" r="3.05"/><circle cx="293.0" cy="347.3" r="3.05"/><circle cx="182.6" cy="288.3" r="3.05"/><circle cx="270.1" cy="346.2" r="3.05"/><circle cx="307.9" cy="358.8" r="3.05"/><circle cx="343.6" cy="311.7" r="3.05"/><circle cx="229.2" cy="279.3" r="3.05"/><circle cx="295.8" cy="269.2" r="3.05"/><circle cx="309.0" cy="348.0" r="3.05"/><circle cx="263.2" cy="292.5" r="3.05"/><circle cx="339.2" cy="330.7" r="3.05"/><circle cx="278.9" cy="358.5" r="3.05"/><circle cx="297.1" cy="322.5" r="3.05"/><circle cx="207.5" cy="320.1" r="3.05"/><circle cx="269.2" cy="301.3" r="3.05"/><circle cx="248.0" cy="274.0" r="3.05"/><circle cx="336.3" cy="345.5" r="3.05"/><circle cx="250.5" cy="321.9" r="3.05"/><circle cx="238.1" cy="283.9" r="3.05"/><circle cx="325.5" cy="277.3" r="3.05"/><circle cx="326.1" cy="363.9" r="3.05"/><circle cx="248.1" cy="281.9" r="3.05"/><circle cx="180.7" cy="301.6" r="3.05"/><circle cx="227.2" cy="286.1" r="3.05"/><circle cx="210.8" cy="306.1" r="3.05"/><circle cx="281.3" cy="347.4" r="3.05"/><circle cx="276.2" cy="319.7" r="3.05"/><circle cx="311.6" cy="270.1" r="3.05"/><circle cx="291.4" cy="266.8" r="3.05"/><circle cx="291.8" cy="293.8" r="3.05"/><circle cx="328.4" cy="273.9" r="3.05"/><circle cx="282.4" cy="334.0" r="3.05"/><circle cx="237.9" cy="323.6" r="3.05"/><circle cx="307.6" cy="272.4" r="3.05"/><circle cx="274.4" cy="365.8" r="3.05"/><circle cx="288.5" cy="279.9" r="3.05"/><circle cx="254.5" cy="271.0" r="3.05"/><circle cx="274.3" cy="361.6" r="3.05"/><circle cx="327.0" cy="301.1" r="3.05"/><circle cx="284.6" cy="360.2" r="3.05"/><circle cx="328.0" cy="296.1" r="3.05"/><circle cx="178.0" cy="347.8" r="3.05"/><circle cx="332.2" cy="307.3" r="3.05"/><circle cx="326.6" cy="288.9" r="3.05"/><circle cx="299.3" cy="362.3" r="3.05"/><circle cx="297.6" cy="335.3" r="3.05"/><circle cx="198.1" cy="290.3" r="3.05"/><circle cx="326.0" cy="346.3" r="3.05"/><circle cx="302.4" cy="328.8" r="3.05"/><circle cx="290.7" cy="271.3" r="3.05"/><circle cx="278.1" cy="320.3" r="3.05"/><circle cx="321.3" cy="313.2" r="3.05"/><circle cx="263.8" cy="335.5" r="3.05"/><circle cx="188.8" cy="313.7" r="3.05"/><circle cx="252.8" cy="388.2" r="3.05"/><circle cx="195.0" cy="288.0" r="3.05"/><circle cx="259.2" cy="323.2" r="3.05"/><circle cx="342.3" cy="253.8" r="3.05"/><circle cx="342.0" cy="309.0" r="3.05"/><circle cx="286.8" cy="239.7" r="3.05"/><circle cx="355.6" cy="313.0" r="3.05"/><circle cx="368.7" cy="249.2" r="3.05"/><circle cx="278.3" cy="296.6" r="3.05"/><circle cx="283.7" cy="289.7" r="3.05"/><circle cx="361.8" cy="228.5" r="3.05"/><circle cx="223.6" cy="262.1" r="3.05"/><circle cx="320.9" cy="260.9" r="3.05"/><circle cx="332.0" cy="215.2" r="3.05"/><circle cx="188.1" cy="309.3" r="3.05"/><circle cx="302.8" cy="265.3" r="3.05"/><circle cx="213.7" cy="303.1" r="3.05"/><circle cx="352.9" cy="279.5" r="3.05"/><circle cx="271.8" cy="292.9" r="3.05"/><circle cx="367.7" cy="226.7" r="3.05"/><circle cx="268.1" cy="266.3" r="3.05"/><circle cx="266.4" cy="267.0" r="3.05"/><circle cx="277.6" cy="230.4" r="3.05"/><circle cx="344.7" cy="317.1" r="3.05"/><circle cx="346.8" cy="309.8" r="3.05"/><circle cx="219.3" cy="281.0" r="3.05"/><circle cx="267.3" cy="277.1" r="3.05"/><circle cx="220.3" cy="291.1" r="3.05"/><circle cx="218.8" cy="260.5" r="3.05"/><circle cx="262.6" cy="247.8" r="3.05"/><circle cx="365.5" cy="286.4" r="3.05"/><circle cx="243.0" cy="291.9" r="3.05"/><circle cx="207.9" cy="291.9" r="3.05"/><circle cx="271.1" cy="262.9" r="3.05"/><circle cx="330.9" cy="301.2" r="3.05"/><circle cx="339.4" cy="307.9" r="3.05"/><circle cx="365.8" cy="223.3" r="3.05"/><circle cx="321.5" cy="279.3" r="3.05"/><circle cx="231.6" cy="269.0" r="3.05"/><circle cx="253.9" cy="286.0" r="3.05"/><circle cx="352.6" cy="258.9" r="3.05"/><circle cx="344.0" cy="227.2" r="3.05"/><circle cx="264.7" cy="235.0" r="3.05"/><circle cx="367.1" cy="250.5" r="3.05"/><circle cx="243.0" cy="256.4" r="3.05"/><circle cx="314.8" cy="219.2" r="3.05"/><circle cx="276.4" cy="245.7" r="3.05"/><circle cx="350.2" cy="231.5" r="3.05"/><circle cx="350.5" cy="283.8" r="3.05"/><circle cx="364.0" cy="219.3" r="3.05"/><circle cx="349.7" cy="314.3" r="3.05"/><circle cx="244.5" cy="286.0" r="3.05"/><circle cx="239.5" cy="245.9" r="3.05"/><circle cx="265.2" cy="269.6" r="3.05"/><circle cx="337.9" cy="321.1" r="3.05"/><circle cx="229.8" cy="238.8" r="3.05"/><circle cx="343.4" cy="247.0" r="3.05"/><circle cx="354.9" cy="311.8" r="3.05"/><circle cx="248.2" cy="254.5" r="3.05"/><circle cx="281.7" cy="259.3" r="3.05"/><circle cx="258.9" cy="261.7" r="3.05"/><circle cx="185.6" cy="265.9" r="3.05"/><circle cx="246.0" cy="276.3" r="3.05"/><circle cx="352.4" cy="267.6" r="3.05"/><circle cx="324.7" cy="241.1" r="3.05"/><circle cx="367.5" cy="220.2" r="3.05"/><circle cx="339.2" cy="288.3" r="3.05"/><circle cx="332.1" cy="281.4" r="3.05"/><circle cx="311.4" cy="278.1" r="3.05"/><circle cx="219.8" cy="285.9" r="3.05"/><circle cx="262.4" cy="233.6" r="3.05"/><circle cx="240.2" cy="286.5" r="3.05"/><circle cx="291.6" cy="247.4" r="3.05"/><circle cx="316.3" cy="275.0" r="3.05"/><circle cx="354.8" cy="297.1" r="3.05"/><circle cx="217.0" cy="286.7" r="3.05"/><circle cx="317.9" cy="219.3" r="3.05"/><circle cx="355.9" cy="233.4" r="3.05"/><circle cx="289.8" cy="230.6" r="3.05"/><circle cx="335.4" cy="227.9" r="3.05"/><circle cx="364.0" cy="217.9" r="3.05"/><circle cx="302.6" cy="247.2" r="3.05"/><circle cx="322.2" cy="230.1" r="3.05"/><circle cx="279.8" cy="271.8" r="3.05"/><circle cx="248.1" cy="278.8" r="3.05"/><circle cx="276.6" cy="248.4" r="3.05"/><circle cx="269.1" cy="246.3" r="3.05"/><circle cx="260.6" cy="286.3" r="3.05"/><circle cx="287.8" cy="290.3" r="3.05"/><circle cx="312.6" cy="268.8" r="3.05"/><circle cx="240.1" cy="249.3" r="3.05"/><circle cx="238.1" cy="236.7" r="3.05"/><circle cx="312.8" cy="288.9" r="3.05"/><circle cx="336.7" cy="258.5" r="3.05"/><circle cx="205.4" cy="297.4" r="3.05"/><circle cx="310.8" cy="261.7" r="3.05"/><circle cx="180.9" cy="310.5" r="3.05"/><circle cx="262.5" cy="261.1" r="3.05"/><circle cx="240.3" cy="272.3" r="3.05"/><circle cx="350.7" cy="284.8" r="3.05"/><circle cx="201.9" cy="293.9" r="3.05"/><circle cx="227.0" cy="304.5" r="3.05"/><circle cx="295.0" cy="297.3" r="3.05"/><circle cx="234.1" cy="286.6" r="3.05"/><circle cx="265.2" cy="293.5" r="3.05"/><circle cx="204.7" cy="258.3" r="3.05"/><circle cx="290.0" cy="268.3" r="3.05"/><circle cx="319.3" cy="223.6" r="3.05"/><circle cx="280.0" cy="252.6" r="3.05"/><circle cx="373.0" cy="225.1" r="3.05"/><circle cx="268.0" cy="226.1" r="3.05"/><circle cx="360.3" cy="234.3" r="3.05"/><circle cx="326.0" cy="265.8" r="3.05"/><circle cx="252.3" cy="291.7" r="3.05"/><circle cx="197.4" cy="287.4" r="3.05"/><circle cx="256.8" cy="288.5" r="3.05"/><circle cx="331.8" cy="303.5" r="3.05"/><circle cx="289.0" cy="249.5" r="3.05"/><circle cx="340.0" cy="217.9" r="3.05"/><circle cx="334.2" cy="287.7" r="3.05"/><circle cx="328.7" cy="316.6" r="3.05"/><circle cx="255.6" cy="253.1" r="3.05"/><circle cx="238.7" cy="284.4" r="3.05"/><circle cx="215.4" cy="263.3" r="3.05"/><circle cx="192.1" cy="274.9" r="3.05"/><circle cx="366.1" cy="253.5" r="3.05"/><circle cx="312.4" cy="226.4" r="3.05"/><circle cx="324.8" cy="264.1" r="3.05"/><circle cx="193.7" cy="258.1" r="3.05"/><circle cx="306.4" cy="239.0" r="3.05"/><circle cx="276.1" cy="274.0" r="3.05"/><circle cx="226.4" cy="272.1" r="3.05"/><circle cx="316.2" cy="258.9" r="3.05"/><circle cx="274.2" cy="263.4" r="3.05"/><circle cx="375.4" cy="274.9" r="3.05"/><circle cx="178.4" cy="309.4" r="3.05"/><circle cx="314.5" cy="236.3" r="3.05"/><circle cx="350.7" cy="327.1" r="3.05"/><circle cx="336.4" cy="312.6" r="3.05"/><circle cx="298.4" cy="291.4" r="3.05"/><circle cx="283.7" cy="222.0" r="3.05"/><circle cx="235.9" cy="269.4" r="3.05"/><circle cx="211.6" cy="292.8" r="3.05"/><circle cx="359.7" cy="254.4" r="3.05"/><circle cx="195.1" cy="272.6" r="3.05"/><circle cx="346.1" cy="314.6" r="3.05"/><circle cx="241.2" cy="269.4" r="3.05"/><circle cx="287.3" cy="299.1" r="3.05"/><circle cx="249.6" cy="290.8" r="3.05"/><circle cx="252.0" cy="275.8" r="3.05"/><circle cx="288.9" cy="268.0" r="3.05"/><circle cx="343.5" cy="308.5" r="3.05"/><circle cx="242.7" cy="289.9" r="3.05"/><circle cx="202.5" cy="305.2" r="3.05"/><circle cx="361.4" cy="284.6" r="3.05"/><circle cx="221.3" cy="259.8" r="3.05"/><circle cx="349.7" cy="258.6" r="3.05"/><circle cx="349.1" cy="293.2" r="3.05"/><circle cx="211.7" cy="275.3" r="3.05"/><circle cx="324.9" cy="295.8" r="3.05"/><circle cx="257.3" cy="249.8" r="3.05"/><circle cx="259.2" cy="295.8" r="3.05"/><circle cx="252.6" cy="272.5" r="3.05"/><circle cx="329.2" cy="295.8" r="3.05"/><circle cx="210.1" cy="276.2" r="3.05"/><circle cx="260.1" cy="269.3" r="3.05"/><circle cx="220.0" cy="247.7" r="3.05"/><circle cx="365.8" cy="274.0" r="3.05"/><circle cx="278.2" cy="227.1" r="3.05"/><circle cx="233.2" cy="268.7" r="3.05"/><circle cx="261.4" cy="268.7" r="3.05"/><circle cx="325.4" cy="253.4" r="3.05"/><circle cx="188.9" cy="293.8" r="3.05"/><circle cx="356.0" cy="252.3" r="3.05"/><circle cx="279.0" cy="272.1" r="3.05"/><circle cx="259.9" cy="279.5" r="3.05"/><circle cx="337.1" cy="314.8" r="3.05"/><circle cx="201.9" cy="295.3" r="3.05"/><circle cx="352.0" cy="262.1" r="3.05"/><circle cx="302.9" cy="260.8" r="3.05"/><circle cx="236.9" cy="236.5" r="3.05"/><circle cx="354.9" cy="315.0" r="3.05"/><circle cx="250.5" cy="287.1" r="3.05"/><circle cx="347.6" cy="302.6" r="3.05"/><circle cx="298.4" cy="233.3" r="3.05"/><circle cx="259.1" cy="269.7" r="3.05"/><circle cx="362.0" cy="256.1" r="3.05"/><circle cx="350.6" cy="281.4" r="3.05"/><circle cx="340.2" cy="319.8" r="3.05"/><circle cx="219.9" cy="225.1" r="3.05"/><circle cx="181.8" cy="228.4" r="3.05"/><circle cx="211.2" cy="248.8" r="3.05"/><circle cx="202.7" cy="252.3" r="3.05"/><circle cx="202.1" cy="218.9" r="3.05"/><circle cx="230.4" cy="230.6" r="3.05"/><circle cx="204.1" cy="240.8" r="3.05"/><circle cx="223.1" cy="222.2" r="3.05"/><circle cx="396.8" cy="367.2" r="3.05"/><circle cx="369.5" cy="363.3" r="3.05"/><circle cx="411.8" cy="337.6" r="3.05"/><circle cx="334.4" cy="392.6" r="3.05"/><circle cx="376.0" cy="362.0" r="3.05"/><circle cx="387.8" cy="362.4" r="3.05"/><circle cx="393.3" cy="359.2" r="3.05"/><circle cx="306.8" cy="396.2" r="3.05"/><circle cx="333.1" cy="394.6" r="3.05"/><circle cx="381.3" cy="355.8" r="3.05"/><circle cx="292.2" cy="417.5" r="3.05"/><circle cx="415.4" cy="329.5" r="3.05"/><circle cx="401.1" cy="360.1" r="3.05"/><circle cx="299.2" cy="396.0" r="3.05"/><circle cx="293.7" cy="414.7" r="3.05"/><circle cx="356.0" cy="387.1" r="3.05"/><circle cx="369.9" cy="376.5" r="3.05"/><circle cx="423.1" cy="331.8" r="3.05"/><circle cx="295.7" cy="421.2" r="3.05"/><circle cx="355.2" cy="376.5" r="3.05"/><circle cx="361.7" cy="356.8" r="3.05"/><circle cx="410.2" cy="330.7" r="3.05"/><circle cx="296.3" cy="422.7" r="3.05"/><circle cx="340.8" cy="366.4" r="3.05"/><circle cx="335.3" cy="394.8" r="3.05"/><circle cx="314.7" cy="399.8" r="3.05"/><circle cx="304.1" cy="422.4" r="3.05"/><circle cx="341.3" cy="384.9" r="3.05"/><circle cx="304.6" cy="408.9" r="3.05"/><circle cx="294.7" cy="422.5" r="3.05"/><circle cx="303.7" cy="420.8" r="3.05"/><circle cx="286.6" cy="418.8" r="3.05"/><circle cx="323.9" cy="386.3" r="3.05"/><circle cx="301.7" cy="399.2" r="3.05"/><circle cx="335.0" cy="378.1" r="3.05"/><circle cx="288.4" cy="419.7" r="3.05"/><circle cx="301.6" cy="423.7" r="3.05"/><circle cx="304.6" cy="429.2" r="3.05"/><circle cx="301.8" cy="428.3" r="3.05"/><circle cx="354.2" cy="354.1" r="3.05"/><circle cx="326.9" cy="386.7" r="3.05"/><circle cx="286.3" cy="426.9" r="3.05"/><circle cx="352.8" cy="355.6" r="3.05"/><circle cx="326.1" cy="394.9" r="3.05"/><circle cx="356.2" cy="354.2" r="3.05"/><circle cx="294.5" cy="433.0" r="3.05"/><circle cx="325.6" cy="375.7" r="3.05"/><circle cx="299.4" cy="395.4" r="3.05"/><circle cx="286.1" cy="407.7" r="3.05"/><circle cx="311.0" cy="407.4" r="3.05"/><circle cx="345.3" cy="351.8" r="3.05"/><circle cx="330.3" cy="374.3" r="3.05"/><circle cx="320.1" cy="403.7" r="3.05"/><circle cx="286.6" cy="397.4" r="3.05"/><circle cx="303.0" cy="417.7" r="3.05"/><circle cx="297.7" cy="393.7" r="3.05"/><circle cx="297.8" cy="416.3" r="3.05"/><circle cx="296.3" cy="428.3" r="3.05"/><circle cx="291.5" cy="426.9" r="3.05"/><circle cx="301.1" cy="408.6" r="3.05"/><circle cx="292.4" cy="423.4" r="3.05"/><circle cx="344.9" cy="362.8" r="3.05"/><circle cx="337.1" cy="359.4" r="3.05"/><circle cx="356.9" cy="354.6" r="3.05"/><circle cx="322.5" cy="383.3" r="3.05"/><circle cx="297.8" cy="390.8" r="3.05"/><circle cx="317.9" cy="390.4" r="3.05"/><circle cx="204.0" cy="110.4" r="3.05"/><circle cx="201.0" cy="164.8" r="3.05"/><circle cx="424.3" cy="222.4" r="3.05"/><circle cx="445.5" cy="216.0" r="3.05"/><circle cx="449.8" cy="212.3" r="3.05"/><circle cx="459.6" cy="284.1" r="3.05"/><circle cx="412.9" cy="270.0" r="3.05"/><circle cx="389.0" cy="224.6" r="3.05"/><circle cx="196.0" cy="198.0" r="3.05"/><circle cx="217.0" cy="198.0" r="3.05"/><circle cx="208.0" cy="212.0" r="3.05"/><circle cx="228.0" cy="219.0" r="3.05"/><circle cx="252.0" cy="214.0" r="3.05"/><circle cx="264.0" cy="206.0" r="3.05"/><circle cx="291.0" cy="224.0" r="3.05"/><circle cx="317.0" cy="196.0" r="3.05"/><circle cx="458.0" cy="272.0" r="3.05"/><circle cx="466.0" cy="282.0" r="3.05"/><circle cx="408.0" cy="340.0" r="3.05"/><circle cx="417.0" cy="351.0" r="3.05"/><circle cx="375.0" cy="318.0" r="3.05"/><circle cx="383.0" cy="322.0" r="3.05"/><circle cx="402.0" cy="332.0" r="3.05"/><circle cx="436.0" cy="294.0" r="3.05"/><circle cx="440.0" cy="283.0" r="3.05"/>
</g>
<path d="M202.8 176.0l14 14l-14 14l-14-14zM225.5 176.0l14 14l-14 14l-14-14zM487.8 181.1l14 14l-14 14l-14-14zM438.1 194.6l14 14l-14 14l-14-14zM455.9 217.3l14 14l-14 14l-14-14zM203.0 233.0l14 14l-14 14l-14-14zM211.0 229.0l14 14l-14 14l-14-14zM199.0 248.0l14 14l-14 14l-14-14zM238.0 224.0l14 14l-14 14l-14-14zM258.0 220.0l14 14l-14 14l-14-14zM216.0 256.0l14 14l-14 14l-14-14zM242.0 248.0l14 14l-14 14l-14-14zM270.0 236.0l14 14l-14 14l-14-14zM296.0 224.0l14 14l-14 14l-14-14zM330.0 214.0l14 14l-14 14l-14-14zM352.0 222.0l14 14l-14 14l-14-14zM372.0 218.0l14 14l-14 14l-14-14zM366.0 238.0l14 14l-14 14l-14-14zM340.0 248.0l14 14l-14 14l-14-14zM312.0 256.0l14 14l-14 14l-14-14zM282.0 258.0l14 14l-14 14l-14-14zM254.0 268.0l14 14l-14 14l-14-14zM228.0 274.0l14 14l-14 14l-14-14zM206.0 278.0l14 14l-14 14l-14-14zM388.0 248.0l14 14l-14 14l-14-14zM378.0 271.0l14 14l-14 14l-14-14zM300.0 276.0l14 14l-14 14l-14-14zM268.0 282.0l14 14l-14 14l-14-14z" fill="none" stroke="#a6a6a6" stroke-width="1.6"/>
<path d="M202.1 395.2h0M244.8 353.8h0M197.7 349.7h0M207.6 355.4h0M184.3 351.2h0M200.9 370.1h0M222.8 337.2h0M194.5 350.2h0M217.3 368.5h0M193.3 343.8h0M234.9 363.0h0M218.3 375.2h0M236.9 357.2h0M193.7 390.4h0M238.6 388.3h0M219.6 371.4h0M222.2 378.0h0M214.5 326.9h0M227.5 360.0h0M236.2 373.1h0M234.2 333.5h0M246.7 380.0h0M232.9 362.8h0M217.7 342.6h0M218.9 393.9h0M192.7 378.3h0M200.0 360.4h0M200.0 351.6h0M213.6 355.9h0M208.7 390.5h0M193.8 334.3h0M184.0 347.3h0M204.1 383.4h0M222.9 356.7h0M221.2 374.3h0M238.5 381.8h0M224.6 335.6h0M205.7 355.0h0M194.5 381.9h0M233.4 347.2h0M196.2 376.1h0M228.5 382.7h0M190.6 393.1h0M192.3 351.6h0M212.1 348.1h0M222.7 382.6h0M222.4 338.1h0M230.3 332.5h0M225.2 332.7h0M217.1 338.1h0M199.3 364.6h0M207.3 354.5h0M219.0 394.3h0M237.4 370.8h0M259.0 342.8h0M199.6 391.2h0M202.9 354.5h0M191.6 345.0h0M205.9 374.8h0M211.1 341.8h0M252.4 349.3h0M215.2 344.9h0M197.3 386.2h0M198.1 391.1h0M206.9 328.9h0M196.6 363.2h0M200.3 370.3h0M199.0 386.3h0M234.3 344.9h0M190.0 357.5h0M213.5 360.2h0M236.1 376.3h0M197.3 374.5h0M190.5 363.4h0M185.8 382.9h0M243.9 343.5h0M203.8 392.6h0M229.4 375.9h0M233.9 367.1h0M212.3 338.2h0M185.0 372.3h0M205.1 330.4h0M257.8 360.2h0M215.9 368.9h0M251.5 347.6h0M201.3 338.4h0M205.0 385.0h0M198.7 328.2h0M223.7 373.4h0M190.3 377.7h0M227.5 333.1h0M210.8 362.8h0M217.9 359.0h0M225.0 377.1h0M206.6 379.3h0M223.6 333.7h0M258.1 355.7h0M243.4 375.0h0M196.6 385.8h0M245.7 375.8h0M186.7 372.2h0M194.0 373.0h0M233.6 372.0h0M192.3 327.8h0M229.4 384.1h0M228.8 347.0h0M207.8 327.3h0M203.6 361.6h0M235.8 340.5h0M233.8 388.2h0M214.5 344.1h0M188.7 385.6h0M218.1 351.6h0M218.8 347.4h0M230.5 370.0h0M184.7 369.5h0M220.8 338.0h0M252.7 364.3h0M217.4 356.7h0M224.1 330.0h0M200.4 334.2h0M226.5 365.3h0M202.1 363.7h0M244.8 386.0h0M229.8 374.0h0M226.2 355.4h0M189.7 341.2h0M246.3 371.6h0M216.2 348.9h0M225.8 370.8h0M218.2 348.3h0M196.4 393.6h0M219.5 359.2h0M196.0 330.7h0M232.1 371.7h0M195.8 360.2h0M245.4 353.7h0M216.1 384.6h0M248.4 370.4h0M187.3 355.2h0M204.8 368.6h0M218.8 369.4h0M255.0 349.0h0M188.1 400.0h0M196.1 376.2h0M223.7 367.6h0M221.5 351.1h0M191.6 360.9h0M238.5 378.9h0M243.6 353.9h0M212.4 354.8h0M202.7 377.4h0M258.4 344.0h0M224.3 330.1h0M216.8 359.6h0M196.0 331.8h0M247.4 353.6h0M250.5 371.0h0M213.9 349.5h0M215.0 335.5h0M202.4 364.6h0M225.5 374.4h0M226.4 369.0h0M240.4 354.7h0M210.0 340.9h0M197.3 381.7h0M193.6 382.8h0M234.6 356.5h0M187.8 395.8h0M236.0 351.9h0M187.3 390.2h0M251.0 372.4h0M231.2 331.7h0M209.6 346.4h0M216.9 390.3h0M197.6 387.3h0M228.2 345.4h0M216.3 354.7h0M229.2 363.1h0M195.4 396.9h0M237.7 384.0h0M230.7 335.2h0M251.9 346.5h0M243.8 384.0h0M237.6 339.9h0M226.3 376.3h0M238.0 362.6h0M230.2 382.6h0M216.8 360.6h0M187.4 358.0h0M216.7 347.6h0M228.4 349.0h0M199.9 384.7h0M243.6 384.9h0M207.2 388.6h0M247.6 374.9h0M249.3 340.0h0M222.3 341.9h0M222.2 332.9h0M236.2 359.3h0M209.5 349.2h0M225.1 389.6h0M211.2 393.0h0M223.3 353.6h0M234.3 353.6h0M198.1 342.7h0M220.3 357.6h0M239.9 366.7h0M187.1 387.5h0M204.4 379.5h0M209.8 394.0h0M196.5 330.1h0M232.5 335.3h0M252.7 354.4h0M256.6 355.6h0M193.5 358.2h0M243.4 381.7h0M187.8 344.8h0M200.3 333.6h0M228.2 388.2h0M214.3 374.3h0M244.2 342.8h0M191.6 332.4h0M205.8 341.9h0M194.5 375.7h0M198.9 369.6h0M236.1 385.4h0M208.6 333.4h0M191.2 375.7h0M226.2 383.5h0M218.8 340.8h0M207.9 384.8h0M188.1 365.3h0M240.6 383.6h0M219.2 334.6h0M229.6 358.4h0M209.0 327.1h0M213.0 335.7h0M249.6 376.4h0M225.1 351.9h0M250.4 362.5h0M231.3 357.5h0M225.4 384.6h0M241.8 381.0h0M255.5 344.9h0M246.4 371.4h0M225.2 347.6h0M239.2 367.9h0M255.3 351.7h0M215.6 367.1h0M208.0 353.8h0M250.7 362.4h0M187.3 387.4h0M224.0 388.5h0M239.7 363.1h0M211.2 365.3h0M252.0 371.1h0M234.9 363.8h0M198.7 370.1h0M184.4 380.0h0M230.1 387.7h0M208.9 337.4h0M253.9 349.5h0M231.5 387.2h0M190.6 358.3h0M208.0 370.4h0M248.3 359.5h0M221.8 385.7h0M206.2 362.5h0M224.6 392.1h0M222.2 337.3h0M218.9 341.4h0M226.6 389.2h0M253.9 366.5h0M225.4 334.7h0M233.9 372.7h0M190.0 365.2h0M254.1 343.6h0M223.8 356.6h0M199.1 389.7h0M247.6 373.5h0M202.5 347.4h0M250.2 362.5h0M231.9 386.0h0M207.4 327.1h0M202.4 393.7h0M192.4 369.6h0M200.1 338.3h0M209.5 388.5h0M203.1 359.5h0M207.7 394.2h0M250.0 365.9h0M225.4 378.0h0M194.2 335.5h0M226.5 350.0h0M201.1 364.0h0M241.4 373.3h0M186.8 357.0h0M193.6 378.1h0M240.4 372.4h0M199.0 331.0h0M218.6 343.9h0M222.7 391.1h0M247.0 351.2h0M195.3 389.9h0M195.0 371.1h0M250.1 371.6h0M197.7 361.9h0M208.1 330.1h0M200.5 342.1h0M256.9 346.9h0M212.8 375.9h0M200.1 390.0h0M194.6 391.2h0M187.9 345.6h0M248.6 373.0h0M206.0 333.6h0M202.5 346.6h0M184.9 354.3h0M230.2 390.6h0M198.0 353.6h0M220.2 379.3h0M186.8 384.0h0M230.6 371.1h0M212.7 332.1h0M236.3 348.9h0M215.7 363.1h0M226.6 365.5h0M212.1 379.1h0M220.7 386.8h0M200.2 350.1h0M191.7 390.6h0M237.8 345.1h0M195.8 336.0h0M193.2 382.0h0M229.4 351.7h0M214.0 327.4h0M241.5 369.8h0M227.4 388.1h0M227.9 386.5h0M236.1 370.4h0M193.4 392.0h0M244.7 356.6h0M213.7 383.5h0M240.9 340.9h0M224.9 357.9h0M199.2 347.3h0M213.4 336.3h0M225.4 351.6h0M186.4 372.9h0M223.6 361.5h0M234.3 386.3h0M215.2 344.5h0M207.3 350.8h0M196.6 348.8h0M252.1 375.0h0M210.0 333.7h0M201.8 381.8h0M194.8 349.3h0M237.8 352.5h0M205.4 387.5h0M214.3 334.5h0M186.5 342.8h0M213.3 335.5h0M224.6 346.6h0M190.5 350.7h0M220.7 356.7h0M234.0 332.4h0M196.3 373.5h0M233.5 364.2h0M235.2 362.1h0M223.9 378.4h0M207.2 385.7h0M205.6 340.8h0M247.4 365.4h0M197.9 367.5h0M251.5 376.7h0M191.0 368.1h0M203.7 387.3h0M209.2 382.6h0M236.7 357.1h0M221.1 389.9h0M227.6 376.1h0M239.7 353.1h0M208.2 334.5h0M208.8 381.7h0M191.7 369.7h0M203.2 379.3h0M211.7 360.9h0M222.2 369.5h0M246.1 372.5h0M214.2 356.5h0M200.1 343.5h0M190.8 396.6h0M210.2 359.4h0M230.3 351.3h0M199.2 353.8h0M242.6 353.2h0M230.6 345.9h0M193.8 337.0h0M187.5 374.1h0M225.4 330.9h0M243.7 356.7h0M187.1 337.6h0M226.5 332.1h0M214.9 329.7h0M201.0 339.6h0M203.5 368.5h0M251.3 346.3h0M235.5 335.0h0M224.4 345.4h0M197.9 360.6h0M202.2 330.2h0M213.1 349.3h0M192.2 349.5h0M203.0 343.1h0M188.7 401.0h0M207.6 347.9h0M212.9 388.3h0M213.5 367.8h0M203.9 375.1h0M189.6 330.2h0M199.4 357.6h0M219.0 345.6h0M210.2 339.7h0M229.4 372.1h0M257.0 343.5h0M192.6 338.9h0M209.3 358.6h0M214.4 326.9h0M205.6 357.7h0M256.7 351.4h0M230.7 364.6h0M199.9 353.4h0M187.4 338.7h0M213.7 353.9h0M191.3 396.7h0M235.2 383.2h0M208.1 373.0h0M248.1 358.1h0M232.1 346.2h0M189.6 349.3h0M197.8 343.2h0M219.5 339.0h0M204.9 343.0h0M248.7 381.3h0M241.6 350.0h0M219.6 360.8h0M198.2 359.7h0M226.1 387.5h0M197.0 353.1h0M184.3 378.1h0M240.0 353.9h0M250.9 345.0h0M194.9 369.3h0M189.6 385.4h0M241.8 341.5h0M229.5 380.6h0M201.0 368.4h0M222.6 340.7h0M189.3 389.0h0M230.2 373.9h0M257.8 356.7h0M208.2 393.4h0M200.3 343.8h0M201.4 340.8h0M201.4 328.0h0M221.3 357.6h0M219.1 365.5h0M257.0 352.1h0M203.6 335.6h0M189.3 344.7h0M219.3 359.5h0M223.2 357.3h0M238.3 348.2h0M257.2 362.9h0M227.5 355.4h0M189.1 346.7h0M211.1 371.6h0M231.4 335.9h0M197.8 335.1h0M186.3 335.7h0M241.1 376.4h0M192.0 352.9h0M200.3 336.2h0M215.8 338.0h0M191.2 380.6h0M202.9 350.0h0M209.0 338.1h0M240.1 340.4h0M203.5 349.2h0M193.5 376.3h0M247.1 380.8h0M199.5 353.0h0M195.6 353.1h0M208.0 393.2h0M215.7 380.6h0M200.5 343.0h0M207.3 345.6h0M239.8 383.3h0M210.7 328.2h0M188.1 333.7h0M210.7 342.7h0M203.5 382.7h0M234.8 349.2h0M193.3 327.7h0M183.8 374.4h0M208.9 388.5h0M202.6 387.9h0M242.3 345.7h0M241.1 369.4h0M202.2 364.8h0M244.3 351.4h0M243.0 355.6h0M219.9 347.8h0M236.1 368.7h0M232.0 338.5h0M256.4 349.4h0M232.4 336.7h0M222.4 334.7h0M208.3 334.4h0M219.6 367.1h0M209.7 326.4h0M198.9 372.8h0M227.5 388.5h0M254.9 337.9h0M196.0 379.4h0M254.1 343.2h0M186.7 355.2h0M251.9 346.6h0M189.5 387.2h0M185.1 385.3h0M198.0 381.1h0M233.2 339.2h0M242.6 336.3h0M198.0 392.2h0M218.8 381.6h0M255.2 350.4h0M255.5 346.4h0M243.5 374.1h0M197.5 381.4h0M219.5 374.9h0M216.7 374.1h0M193.2 361.5h0M241.5 383.3h0M191.8 385.3h0M196.1 395.8h0M189.5 346.5h0M205.6 354.6h0M247.6 344.6h0M186.5 343.0h0M194.5 327.9h0M249.6 370.4h0M186.4 365.8h0M252.1 345.8h0M206.2 362.1h0M232.0 351.2h0M240.3 345.2h0M191.6 372.1h0M186.3 361.7h0M213.9 336.2h0M227.8 360.0h0M251.5 378.0h0" fill="none" stroke="#e531e9" stroke-width="8.2" stroke-linecap="round"/>
<g fill="none" stroke="#e531e9" stroke-width="2.05">
<circle cx="205.0" cy="399.4" r="3.05"/><circle cx="182.0" cy="374.5" r="3.05"/><circle cx="184.1" cy="400.3" r="3.05"/><circle cx="248.4" cy="387.7" r="3.05"/><circle cx="263.1" cy="343.0" r="3.05"/><circle cx="250.5" cy="383.2" r="3.05"/><circle cx="186.2" cy="327.0" r="3.05"/><circle cx="260.7" cy="339.8" r="3.05"/><circle cx="254.3" cy="378.7" r="3.05"/><circle cx="193.7" cy="326.6" r="3.05"/><circle cx="184.8" cy="332.6" r="3.05"/><circle cx="182.9" cy="395.5" r="3.05"/><circle cx="228.0" cy="395.8" r="3.05"/><circle cx="253.2" cy="382.1" r="3.05"/><circle cx="258.8" cy="334.7" r="3.05"/><circle cx="182.6" cy="387.9" r="3.05"/><circle cx="198.0" cy="325.0" r="3.05"/><circle cx="204.3" cy="323.9" r="3.05"/><circle cx="236.1" cy="394.5" r="3.05"/><circle cx="181.1" cy="375.6" r="3.05"/><circle cx="185.0" cy="330.2" r="3.05"/><circle cx="207.4" cy="399.5" r="3.05"/><circle cx="240.0" cy="393.6" r="3.05"/><circle cx="253.8" cy="334.0" r="3.05"/><circle cx="241.7" cy="333.0" r="3.05"/><circle cx="215.8" cy="322.9" r="3.05"/><circle cx="254.8" cy="332.6" r="3.05"/><circle cx="236.3" cy="391.3" r="3.05"/><circle cx="254.9" cy="381.5" r="3.05"/><circle cx="190.8" cy="328.2" r="3.05"/><circle cx="235.9" cy="329.3" r="3.05"/><circle cx="181.8" cy="358.6" r="3.05"/><circle cx="226.1" cy="395.0" r="3.05"/><circle cx="256.8" cy="369.1" r="3.05"/><circle cx="189.4" cy="328.3" r="3.05"/><circle cx="216.8" cy="396.2" r="3.05"/><circle cx="247.8" cy="389.9" r="3.05"/><circle cx="203.8" cy="397.6" r="3.05"/><circle cx="216.8" cy="326.5" r="3.05"/><circle cx="251.7" cy="385.5" r="3.05"/><circle cx="182.1" cy="341.3" r="3.05"/><circle cx="244.0" cy="388.6" r="3.05"/><circle cx="259.2" cy="337.4" r="3.05"/><circle cx="201.9" cy="396.3" r="3.05"/><circle cx="182.2" cy="344.4" r="3.05"/><circle cx="195.0" cy="401.6" r="3.05"/><circle cx="179.5" cy="376.4" r="3.05"/><circle cx="227.2" cy="396.9" r="3.05"/><circle cx="208.5" cy="323.9" r="3.05"/><circle cx="183.6" cy="365.2" r="3.05"/><circle cx="180.9" cy="354.6" r="3.05"/><circle cx="207.8" cy="397.6" r="3.05"/><circle cx="253.8" cy="380.9" r="3.05"/><circle cx="259.7" cy="367.4" r="3.05"/><circle cx="183.0" cy="333.4" r="3.05"/><circle cx="179.8" cy="369.0" r="3.05"/><circle cx="190.9" cy="401.1" r="3.05"/><circle cx="202.4" cy="325.2" r="3.05"/><circle cx="242.5" cy="332.7" r="3.05"/><circle cx="181.9" cy="353.1" r="3.05"/><circle cx="245.1" cy="389.7" r="3.05"/><circle cx="262.7" cy="343.5" r="3.05"/><circle cx="232.0" cy="392.7" r="3.05"/><circle cx="183.6" cy="379.7" r="3.05"/><circle cx="258.1" cy="362.5" r="3.05"/><circle cx="219.0" cy="397.5" r="3.05"/><circle cx="259.8" cy="365.7" r="3.05"/><circle cx="183.3" cy="364.4" r="3.05"/><circle cx="206.0" cy="326.0" r="3.05"/><circle cx="215.2" cy="322.8" r="3.05"/><circle cx="259.8" cy="354.0" r="3.05"/><circle cx="183.9" cy="390.8" r="3.05"/><circle cx="226.1" cy="396.1" r="3.05"/><circle cx="256.8" cy="334.4" r="3.05"/><circle cx="182.8" cy="350.0" r="3.05"/><circle cx="262.7" cy="355.5" r="3.05"/><circle cx="191.4" cy="324.2" r="3.05"/><circle cx="257.9" cy="337.3" r="3.05"/><circle cx="258.4" cy="369.5" r="3.05"/><circle cx="258.3" cy="371.8" r="3.05"/><circle cx="257.0" cy="367.6" r="3.05"/><circle cx="181.1" cy="389.9" r="3.05"/><circle cx="214.2" cy="398.1" r="3.05"/><circle cx="181.9" cy="363.2" r="3.05"/><circle cx="188.0" cy="400.7" r="3.05"/><circle cx="188.3" cy="404.2" r="3.05"/><circle cx="179.5" cy="364.7" r="3.05"/><circle cx="185.1" cy="401.1" r="3.05"/><circle cx="197.7" cy="400.1" r="3.05"/><circle cx="183.5" cy="368.6" r="3.05"/><circle cx="246.4" cy="388.6" r="3.05"/><circle cx="200.3" cy="396.4" r="3.05"/><circle cx="185.1" cy="393.6" r="3.05"/><circle cx="191.6" cy="324.9" r="3.05"/><circle cx="180.1" cy="375.0" r="3.05"/><circle cx="260.6" cy="348.2" r="3.05"/><circle cx="247.4" cy="334.0" r="3.05"/><circle cx="260.0" cy="369.4" r="3.05"/><circle cx="224.7" cy="328.8" r="3.05"/><circle cx="245.2" cy="331.9" r="3.05"/><circle cx="183.6" cy="384.0" r="3.05"/><circle cx="260.0" cy="345.4" r="3.05"/><circle cx="183.3" cy="385.9" r="3.05"/><circle cx="198.3" cy="323.0" r="3.05"/><circle cx="227.5" cy="395.7" r="3.05"/><circle cx="181.7" cy="384.9" r="3.05"/><circle cx="260.3" cy="345.0" r="3.05"/><circle cx="193.4" cy="401.2" r="3.05"/><circle cx="182.9" cy="358.4" r="3.05"/><circle cx="184.7" cy="331.5" r="3.05"/><circle cx="232.3" cy="395.7" r="3.05"/><circle cx="182.9" cy="382.5" r="3.05"/><circle cx="224.7" cy="326.2" r="3.05"/><circle cx="259.1" cy="367.2" r="3.05"/><circle cx="263.8" cy="344.5" r="3.05"/><circle cx="183.2" cy="396.3" r="3.05"/><circle cx="228.0" cy="326.8" r="3.05"/><circle cx="248.4" cy="334.3" r="3.05"/><circle cx="235.8" cy="392.4" r="3.05"/><circle cx="254.6" cy="381.4" r="3.05"/><circle cx="237.5" cy="392.9" r="3.05"/><circle cx="182.2" cy="350.9" r="3.05"/><circle cx="181.9" cy="353.3" r="3.05"/><circle cx="249.5" cy="331.3" r="3.05"/><circle cx="200.2" cy="326.5" r="3.05"/><circle cx="236.7" cy="393.0" r="3.05"/><circle cx="210.5" cy="398.4" r="3.05"/><circle cx="263.5" cy="352.1" r="3.05"/><circle cx="181.1" cy="374.7" r="3.05"/><circle cx="222.9" cy="327.7" r="3.05"/><circle cx="180.8" cy="381.2" r="3.05"/><circle cx="183.5" cy="378.3" r="3.05"/><circle cx="198.9" cy="309.7" r="3.05"/><circle cx="313.2" cy="322.3" r="3.05"/><circle cx="230.5" cy="322.2" r="3.05"/><circle cx="204.6" cy="314.3" r="3.05"/><circle cx="274.5" cy="363.9" r="3.05"/><circle cx="255.6" cy="331.2" r="3.05"/><circle cx="305.0" cy="319.0" r="3.05"/><circle cx="246.4" cy="310.4" r="3.05"/><circle cx="258.9" cy="312.8" r="3.05"/><circle cx="303.8" cy="350.1" r="3.05"/><circle cx="263.8" cy="354.5" r="3.05"/><circle cx="216.4" cy="318.1" r="3.05"/><circle cx="268.2" cy="385.7" r="3.05"/><circle cx="266.1" cy="320.5" r="3.05"/><circle cx="199.1" cy="310.8" r="3.05"/><circle cx="248.2" cy="318.0" r="3.05"/><circle cx="195.7" cy="312.9" r="3.05"/><circle cx="258.2" cy="379.9" r="3.05"/><circle cx="190.7" cy="318.5" r="3.05"/><circle cx="302.4" cy="330.5" r="3.05"/><circle cx="315.6" cy="329.1" r="3.05"/><circle cx="281.8" cy="307.6" r="3.05"/><circle cx="226.5" cy="312.5" r="3.05"/><circle cx="278.7" cy="377.2" r="3.05"/><circle cx="293.8" cy="372.4" r="3.05"/><circle cx="194.0" cy="315.5" r="3.05"/><circle cx="232.9" cy="319.8" r="3.05"/><circle cx="238.7" cy="320.3" r="3.05"/><circle cx="235.5" cy="315.6" r="3.05"/><circle cx="297.8" cy="312.9" r="3.05"/><circle cx="202.6" cy="405.3" r="3.05"/><circle cx="278.6" cy="327.1" r="3.05"/><circle cx="277.2" cy="357.7" r="3.05"/><circle cx="302.1" cy="371.9" r="3.05"/><circle cx="274.4" cy="342.3" r="3.05"/><circle cx="268.0" cy="343.0" r="3.05"/><circle cx="294.8" cy="362.0" r="3.05"/><circle cx="292.6" cy="306.2" r="3.05"/><circle cx="277.7" cy="352.3" r="3.05"/><circle cx="276.3" cy="332.8" r="3.05"/><circle cx="248.4" cy="330.1" r="3.05"/><circle cx="224.5" cy="398.3" r="3.05"/><circle cx="303.8" cy="346.6" r="3.05"/><circle cx="202.7" cy="308.5" r="3.05"/><circle cx="290.8" cy="346.8" r="3.05"/><circle cx="274.3" cy="355.7" r="3.05"/><circle cx="307.1" cy="350.5" r="3.05"/><circle cx="267.2" cy="344.9" r="3.05"/><circle cx="291.9" cy="374.8" r="3.05"/><circle cx="178.7" cy="364.9" r="3.05"/><circle cx="268.0" cy="384.8" r="3.05"/><circle cx="277.7" cy="372.6" r="3.05"/><circle cx="262.9" cy="390.4" r="3.05"/><circle cx="231.0" cy="307.5" r="3.05"/><circle cx="216.3" cy="317.7" r="3.05"/><circle cx="312.0" cy="353.0" r="3.05"/><circle cx="260.5" cy="304.5" r="3.05"/><circle cx="259.6" cy="307.0" r="3.05"/><circle cx="285.3" cy="320.8" r="3.05"/><circle cx="311.3" cy="331.9" r="3.05"/><circle cx="294.2" cy="315.8" r="3.05"/><circle cx="275.5" cy="373.5" r="3.05"/><circle cx="260.6" cy="313.7" r="3.05"/><circle cx="212.9" cy="312.0" r="3.05"/><circle cx="229.6" cy="306.0" r="3.05"/><circle cx="238.8" cy="395.6" r="3.05"/><circle cx="308.5" cy="308.0" r="3.05"/><circle cx="259.2" cy="306.3" r="3.05"/><circle cx="200.9" cy="403.1" r="3.05"/><circle cx="193.0" cy="407.5" r="3.05"/><circle cx="313.4" cy="338.7" r="3.05"/><circle cx="209.4" cy="321.4" r="3.05"/><circle cx="305.2" cy="311.1" r="3.05"/><circle cx="276.0" cy="316.1" r="3.05"/><circle cx="276.6" cy="346.7" r="3.05"/><circle cx="295.4" cy="313.2" r="3.05"/><circle cx="275.6" cy="327.5" r="3.05"/><circle cx="276.3" cy="328.1" r="3.05"/><circle cx="294.5" cy="372.1" r="3.05"/><circle cx="255.8" cy="327.9" r="3.05"/><circle cx="277.7" cy="304.3" r="3.05"/><circle cx="186.3" cy="318.1" r="3.05"/><circle cx="264.8" cy="325.4" r="3.05"/><circle cx="268.7" cy="388.0" r="3.05"/><circle cx="296.6" cy="364.0" r="3.05"/><circle cx="316.5" cy="329.8" r="3.05"/><circle cx="256.5" cy="386.4" r="3.05"/><circle cx="231.2" cy="323.7" r="3.05"/><circle cx="230.9" cy="315.7" r="3.05"/><circle cx="283.3" cy="359.7" r="3.05"/><circle cx="210.8" cy="316.4" r="3.05"/><circle cx="206.2" cy="401.6" r="3.05"/><circle cx="258.1" cy="330.0" r="3.05"/><circle cx="287.5" cy="359.8" r="3.05"/><circle cx="209.2" cy="319.5" r="3.05"/><circle cx="213.3" cy="321.6" r="3.05"/><circle cx="310.2" cy="317.0" r="3.05"/><circle cx="180.6" cy="392.4" r="3.05"/><circle cx="307.2" cy="377.7" r="3.05"/><circle cx="285.1" cy="339.6" r="3.05"/><circle cx="263.9" cy="313.7" r="3.05"/><circle cx="269.0" cy="332.0" r="3.05"/><circle cx="265.4" cy="330.7" r="3.05"/><circle cx="237.8" cy="307.7" r="3.05"/><circle cx="298.2" cy="339.9" r="3.05"/><circle cx="300.3" cy="305.8" r="3.05"/><circle cx="241.8" cy="312.4" r="3.05"/><circle cx="179.2" cy="381.5" r="3.05"/><circle cx="293.9" cy="357.7" r="3.05"/><circle cx="283.7" cy="341.2" r="3.05"/><circle cx="267.5" cy="305.0" r="3.05"/><circle cx="303.9" cy="367.5" r="3.05"/><circle cx="286.8" cy="302.7" r="3.05"/><circle cx="304.9" cy="374.8" r="3.05"/><circle cx="312.4" cy="325.1" r="3.05"/><circle cx="268.4" cy="385.2" r="3.05"/><circle cx="265.7" cy="386.0" r="3.05"/><circle cx="285.2" cy="351.5" r="3.05"/><circle cx="228.0" cy="309.0" r="3.05"/><circle cx="238.6" cy="316.4" r="3.05"/><circle cx="206.9" cy="308.7" r="3.05"/><circle cx="307.7" cy="360.4" r="3.05"/><circle cx="283.8" cy="330.8" r="3.05"/><circle cx="234.5" cy="316.5" r="3.05"/><circle cx="276.8" cy="324.1" r="3.05"/><circle cx="193.6" cy="406.1" r="3.05"/><circle cx="262.0" cy="378.1" r="3.05"/><circle cx="302.6" cy="378.7" r="3.05"/><circle cx="255.8" cy="321.6" r="3.05"/><circle cx="239.8" cy="314.6" r="3.05"/><circle cx="287.4" cy="363.6" r="3.05"/><circle cx="297.3" cy="316.9" r="3.05"/><circle cx="273.6" cy="349.3" r="3.05"/><circle cx="272.5" cy="303.5" r="3.05"/><circle cx="235.8" cy="318.3" r="3.05"/><circle cx="198.3" cy="403.1" r="3.05"/><circle cx="308.1" cy="306.8" r="3.05"/><circle cx="282.2" cy="302.9" r="3.05"/><circle cx="288.4" cy="367.0" r="3.05"/><circle cx="245.7" cy="327.0" r="3.05"/><circle cx="292.7" cy="344.9" r="3.05"/><circle cx="244.0" cy="322.9" r="3.05"/><circle cx="181.8" cy="328.4" r="3.05"/><circle cx="246.1" cy="310.7" r="3.05"/><circle cx="276.2" cy="382.1" r="3.05"/><circle cx="274.9" cy="333.8" r="3.05"/><circle cx="270.8" cy="328.6" r="3.05"/><circle cx="281.3" cy="331.8" r="3.05"/><circle cx="211.8" cy="399.7" r="3.05"/><circle cx="311.3" cy="362.9" r="3.05"/><circle cx="303.3" cy="342.8" r="3.05"/><circle cx="267.3" cy="369.2" r="3.05"/><circle cx="313.1" cy="352.8" r="3.05"/><circle cx="297.4" cy="381.6" r="3.05"/><circle cx="287.6" cy="374.7" r="3.05"/><circle cx="294.0" cy="358.7" r="3.05"/><circle cx="308.0" cy="367.0" r="3.05"/><circle cx="277.3" cy="347.3" r="3.05"/><circle cx="261.9" cy="387.5" r="3.05"/><circle cx="287.5" cy="329.2" r="3.05"/><circle cx="306.7" cy="321.2" r="3.05"/><circle cx="303.4" cy="346.6" r="3.05"/><circle cx="297.4" cy="380.6" r="3.05"/><circle cx="245.0" cy="317.6" r="3.05"/><circle cx="178.9" cy="320.9" r="3.05"/><circle cx="283.3" cy="378.8" r="3.05"/><circle cx="271.9" cy="340.4" r="3.05"/><circle cx="310.8" cy="352.3" r="3.05"/><circle cx="263.4" cy="370.7" r="3.05"/><circle cx="314.3" cy="330.6" r="3.05"/><circle cx="229.5" cy="321.9" r="3.05"/><circle cx="266.5" cy="324.6" r="3.05"/><circle cx="270.8" cy="315.7" r="3.05"/><circle cx="266.7" cy="324.2" r="3.05"/><circle cx="301.8" cy="332.1" r="3.05"/><circle cx="294.9" cy="376.1" r="3.05"/><circle cx="310.0" cy="337.3" r="3.05"/><circle cx="263.6" cy="375.4" r="3.05"/><circle cx="304.8" cy="370.1" r="3.05"/><circle cx="294.9" cy="322.2" r="3.05"/><circle cx="266.7" cy="318.1" r="3.05"/><circle cx="233.3" cy="308.8" r="3.05"/><circle cx="308.5" cy="310.0" r="3.05"/><circle cx="288.0" cy="353.4" r="3.05"/><circle cx="272.5" cy="372.9" r="3.05"/><circle cx="243.0" cy="312.3" r="3.05"/><circle cx="286.4" cy="313.4" r="3.05"/><circle cx="204.5" cy="311.3" r="3.05"/><circle cx="282.7" cy="354.9" r="3.05"/><circle cx="299.9" cy="320.0" r="3.05"/><circle cx="299.7" cy="376.7" r="3.05"/><circle cx="260.7" cy="308.8" r="3.05"/><circle cx="188.9" cy="321.1" r="3.05"/><circle cx="268.9" cy="370.7" r="3.05"/><circle cx="230.3" cy="317.4" r="3.05"/><circle cx="209.2" cy="317.8" r="3.05"/><circle cx="249.0" cy="308.6" r="3.05"/><circle cx="307.6" cy="311.3" r="3.05"/><circle cx="274.8" cy="335.5" r="3.05"/><circle cx="256.0" cy="314.5" r="3.05"/><circle cx="263.5" cy="374.6" r="3.05"/><circle cx="283.6" cy="339.7" r="3.05"/><circle cx="299.5" cy="315.3" r="3.05"/><circle cx="263.5" cy="359.1" r="3.05"/><circle cx="196.2" cy="404.8" r="3.05"/><circle cx="252.4" cy="310.5" r="3.05"/><circle cx="285.7" cy="356.6" r="3.05"/><circle cx="212.1" cy="308.6" r="3.05"/><circle cx="264.7" cy="375.8" r="3.05"/><circle cx="223.1" cy="398.6" r="3.05"/><circle cx="246.6" cy="315.3" r="3.05"/><circle cx="266.9" cy="377.6" r="3.05"/><circle cx="186.6" cy="316.3" r="3.05"/><circle cx="264.0" cy="371.6" r="3.05"/><circle cx="254.8" cy="308.6" r="3.05"/><circle cx="295.6" cy="357.2" r="3.05"/><circle cx="182.8" cy="317.3" r="3.05"/><circle cx="312.0" cy="363.4" r="3.05"/><circle cx="271.0" cy="313.0" r="3.05"/><circle cx="287.6" cy="327.1" r="3.05"/><circle cx="282.9" cy="338.4" r="3.05"/><circle cx="211.6" cy="309.8" r="3.05"/><circle cx="274.6" cy="336.9" r="3.05"/><circle cx="304.1" cy="328.8" r="3.05"/><circle cx="306.8" cy="320.9" r="3.05"/><circle cx="179.1" cy="352.3" r="3.05"/><circle cx="301.6" cy="339.8" r="3.05"/><circle cx="300.8" cy="319.4" r="3.05"/><circle cx="270.4" cy="346.4" r="3.05"/><circle cx="261.7" cy="377.4" r="3.05"/><circle cx="280.0" cy="381.5" r="3.05"/><circle cx="299.0" cy="376.7" r="3.05"/><circle cx="289.9" cy="366.4" r="3.05"/><circle cx="293.7" cy="374.3" r="3.05"/><circle cx="185.8" cy="321.4" r="3.05"/><circle cx="247.1" cy="316.6" r="3.05"/><circle cx="256.8" cy="329.2" r="3.05"/><circle cx="296.0" cy="332.8" r="3.05"/><circle cx="291.2" cy="311.9" r="3.05"/><circle cx="288.7" cy="314.6" r="3.05"/><circle cx="302.0" cy="320.4" r="3.05"/><circle cx="307.1" cy="347.0" r="3.05"/><circle cx="297.8" cy="345.6" r="3.05"/><circle cx="274.9" cy="333.7" r="3.05"/><circle cx="179.9" cy="330.7" r="3.05"/><circle cx="233.1" cy="317.2" r="3.05"/><circle cx="193.6" cy="322.7" r="3.05"/><circle cx="295.7" cy="331.8" r="3.05"/><circle cx="312.3" cy="353.0" r="3.05"/><circle cx="201.0" cy="406.4" r="3.05"/><circle cx="269.5" cy="349.6" r="3.05"/><circle cx="298.2" cy="343.6" r="3.05"/><circle cx="287.0" cy="324.4" r="3.05"/><circle cx="261.9" cy="379.7" r="3.05"/><circle cx="283.2" cy="375.8" r="3.05"/><circle cx="291.2" cy="336.1" r="3.05"/><circle cx="207.0" cy="314.1" r="3.05"/><circle cx="293.4" cy="372.8" r="3.05"/><circle cx="304.6" cy="338.2" r="3.05"/><circle cx="229.6" cy="313.4" r="3.05"/><circle cx="252.6" cy="330.6" r="3.05"/><circle cx="287.6" cy="307.7" r="3.05"/><circle cx="265.2" cy="338.8" r="3.05"/><circle cx="185.0" cy="322.7" r="3.05"/><circle cx="283.5" cy="342.7" r="3.05"/><circle cx="261.8" cy="385.2" r="3.05"/><circle cx="309.1" cy="360.9" r="3.05"/><circle cx="296.8" cy="373.1" r="3.05"/><circle cx="288.2" cy="379.2" r="3.05"/><circle cx="292.0" cy="349.8" r="3.05"/><circle cx="231.9" cy="314.7" r="3.05"/><circle cx="264.8" cy="344.7" r="3.05"/><circle cx="273.1" cy="303.6" r="3.05"/><circle cx="230.8" cy="316.7" r="3.05"/><circle cx="245.8" cy="311.8" r="3.05"/><circle cx="215.9" cy="310.5" r="3.05"/><circle cx="308.1" cy="325.6" r="3.05"/><circle cx="274.0" cy="322.7" r="3.05"/><circle cx="266.4" cy="385.5" r="3.05"/><circle cx="297.4" cy="357.3" r="3.05"/><circle cx="182.9" cy="328.7" r="3.05"/><circle cx="200.5" cy="405.2" r="3.05"/><circle cx="183.0" cy="327.2" r="3.05"/><circle cx="273.4" cy="331.9" r="3.05"/><circle cx="297.8" cy="345.9" r="3.05"/><circle cx="254.0" cy="307.7" r="3.05"/><circle cx="234.8" cy="313.2" r="3.05"/><circle cx="304.1" cy="357.0" r="3.05"/><circle cx="315.0" cy="320.9" r="3.05"/><circle cx="260.8" cy="372.5" r="3.05"/><circle cx="269.3" cy="329.7" r="3.05"/><circle cx="299.8" cy="333.3" r="3.05"/><circle cx="180.2" cy="394.1" r="3.05"/><circle cx="278.5" cy="337.4" r="3.05"/><circle cx="292.7" cy="350.0" r="3.05"/><circle cx="278.4" cy="364.4" r="3.05"/><circle cx="270.8" cy="351.5" r="3.05"/><circle cx="286.2" cy="309.4" r="3.05"/><circle cx="270.2" cy="342.1" r="3.05"/><circle cx="296.0" cy="370.2" r="3.05"/><circle cx="274.2" cy="315.9" r="3.05"/><circle cx="241.0" cy="310.6" r="3.05"/><circle cx="295.1" cy="365.3" r="3.05"/><circle cx="249.9" cy="310.1" r="3.05"/><circle cx="294.4" cy="326.3" r="3.05"/><circle cx="187.1" cy="314.2" r="3.05"/><circle cx="307.4" cy="368.4" r="3.05"/><circle cx="288.8" cy="304.9" r="3.05"/><circle cx="294.6" cy="380.8" r="3.05"/><circle cx="253.2" cy="316.3" r="3.05"/><circle cx="272.3" cy="335.6" r="3.05"/><circle cx="208.1" cy="402.9" r="3.05"/><circle cx="281.3" cy="366.9" r="3.05"/><circle cx="239.8" cy="316.3" r="3.05"/><circle cx="311.2" cy="339.7" r="3.05"/><circle cx="272.7" cy="288.7" r="3.05"/><circle cx="231.5" cy="301.6" r="3.05"/><circle cx="300.9" cy="272.4" r="3.05"/><circle cx="339.1" cy="281.2" r="3.05"/><circle cx="206.4" cy="303.2" r="3.05"/><circle cx="315.7" cy="282.4" r="3.05"/><circle cx="331.3" cy="283.9" r="3.05"/><circle cx="337.3" cy="318.2" r="3.05"/><circle cx="333.7" cy="274.3" r="3.05"/><circle cx="256.2" cy="299.3" r="3.05"/><circle cx="323.3" cy="377.1" r="3.05"/><circle cx="358.3" cy="283.1" r="3.05"/><circle cx="345.3" cy="284.4" r="3.05"/><circle cx="330.3" cy="272.1" r="3.05"/><circle cx="344.0" cy="262.8" r="3.05"/><circle cx="295.5" cy="275.2" r="3.05"/><circle cx="321.0" cy="361.0" r="3.05"/><circle cx="320.7" cy="291.4" r="3.05"/><circle cx="291.4" cy="290.2" r="3.05"/><circle cx="319.3" cy="346.5" r="3.05"/><circle cx="321.0" cy="370.8" r="3.05"/><circle cx="334.2" cy="361.7" r="3.05"/><circle cx="237.0" cy="299.7" r="3.05"/><circle cx="346.2" cy="285.2" r="3.05"/><circle cx="284.7" cy="279.8" r="3.05"/><circle cx="324.0" cy="294.3" r="3.05"/><circle cx="344.4" cy="331.9" r="3.05"/><circle cx="295.6" cy="284.5" r="3.05"/><circle cx="347.3" cy="298.0" r="3.05"/><circle cx="320.0" cy="373.7" r="3.05"/><circle cx="278.3" cy="282.4" r="3.05"/><circle cx="343.8" cy="321.1" r="3.05"/><circle cx="182.0" cy="306.2" r="3.05"/><circle cx="339.2" cy="269.1" r="3.05"/><circle cx="352.4" cy="284.2" r="3.05"/><circle cx="289.4" cy="278.8" r="3.05"/><circle cx="328.5" cy="278.7" r="3.05"/><circle cx="217.9" cy="294.8" r="3.05"/><circle cx="326.0" cy="305.4" r="3.05"/><circle cx="348.3" cy="281.0" r="3.05"/><circle cx="336.3" cy="358.0" r="3.05"/><circle cx="320.3" cy="269.8" r="3.05"/><circle cx="300.0" cy="298.4" r="3.05"/><circle cx="302.3" cy="290.6" r="3.05"/><circle cx="325.5" cy="372.8" r="3.05"/><circle cx="352.4" cy="308.3" r="3.05"/><circle cx="351.5" cy="271.6" r="3.05"/><circle cx="311.4" cy="279.8" r="3.05"/><circle cx="343.6" cy="310.5" r="3.05"/><circle cx="315.0" cy="266.0" r="3.05"/><circle cx="323.3" cy="266.5" r="3.05"/><circle cx="338.2" cy="352.2" r="3.05"/><circle cx="312.4" cy="276.5" r="3.05"/><circle cx="280.7" cy="285.7" r="3.05"/><circle cx="338.5" cy="302.4" r="3.05"/><circle cx="326.9" cy="318.3" r="3.05"/><circle cx="334.6" cy="324.6" r="3.05"/><circle cx="244.8" cy="298.4" r="3.05"/><circle cx="336.9" cy="348.9" r="3.05"/><circle cx="184.1" cy="305.7" r="3.05"/><circle cx="323.1" cy="366.6" r="3.05"/><circle cx="321.5" cy="378.1" r="3.05"/><circle cx="338.8" cy="278.7" r="3.05"/><circle cx="325.5" cy="363.2" r="3.05"/><circle cx="313.6" cy="312.6" r="3.05"/><circle cx="296.0" cy="301.0" r="3.05"/><circle cx="356.8" cy="274.1" r="3.05"/><circle cx="182.9" cy="402.4" r="3.05"/><circle cx="345.1" cy="293.1" r="3.05"/><circle cx="339.2" cy="321.2" r="3.05"/><circle cx="343.8" cy="296.6" r="3.05"/><circle cx="325.7" cy="292.9" r="3.05"/><circle cx="205.9" cy="298.7" r="3.05"/><circle cx="328.4" cy="364.5" r="3.05"/><circle cx="330.7" cy="303.7" r="3.05"/><circle cx="341.3" cy="342.2" r="3.05"/><circle cx="316.1" cy="317.2" r="3.05"/><circle cx="301.6" cy="282.4" r="3.05"/><circle cx="358.0" cy="292.4" r="3.05"/><circle cx="355.4" cy="282.7" r="3.05"/><circle cx="300.6" cy="292.0" r="3.05"/><circle cx="312.3" cy="380.6" r="3.05"/><circle cx="263.9" cy="296.0" r="3.05"/><circle cx="278.1" cy="290.5" r="3.05"/><circle cx="325.3" cy="373.2" r="3.05"/><circle cx="318.6" cy="309.0" r="3.05"/><circle cx="329.6" cy="270.5" r="3.05"/><circle cx="344.4" cy="277.5" r="3.05"/><circle cx="352.1" cy="287.7" r="3.05"/><circle cx="328.0" cy="288.1" r="3.05"/><circle cx="199.3" cy="299.1" r="3.05"/><circle cx="336.8" cy="290.3" r="3.05"/><circle cx="183.4" cy="401.6" r="3.05"/><circle cx="179.5" cy="311.9" r="3.05"/><circle cx="331.8" cy="348.7" r="3.05"/><circle cx="225.5" cy="293.8" r="3.05"/><circle cx="292.2" cy="273.7" r="3.05"/><circle cx="276.5" cy="300.5" r="3.05"/><circle cx="343.4" cy="277.4" r="3.05"/><circle cx="352.3" cy="316.9" r="3.05"/><circle cx="290.5" cy="290.4" r="3.05"/><circle cx="320.1" cy="354.9" r="3.05"/><circle cx="275.3" cy="302.2" r="3.05"/><circle cx="355.4" cy="273.7" r="3.05"/><circle cx="346.0" cy="263.8" r="3.05"/><circle cx="351.6" cy="280.7" r="3.05"/><circle cx="347.3" cy="280.7" r="3.05"/><circle cx="314.2" cy="362.3" r="3.05"/><circle cx="204.1" cy="296.1" r="3.05"/><circle cx="334.5" cy="306.0" r="3.05"/><circle cx="300.3" cy="273.2" r="3.05"/><circle cx="319.9" cy="326.6" r="3.05"/><circle cx="217.7" cy="298.1" r="3.05"/><circle cx="322.2" cy="337.3" r="3.05"/><circle cx="297.4" cy="299.4" r="3.05"/><circle cx="346.3" cy="305.3" r="3.05"/><circle cx="312.8" cy="292.1" r="3.05"/><circle cx="300.7" cy="288.6" r="3.05"/><circle cx="197.5" cy="309.1" r="3.05"/><circle cx="340.0" cy="326.5" r="3.05"/><circle cx="320.9" cy="287.2" r="3.05"/><circle cx="348.7" cy="326.5" r="3.05"/><circle cx="293.9" cy="283.5" r="3.05"/><circle cx="207.0" cy="306.3" r="3.05"/><circle cx="315.4" cy="373.2" r="3.05"/><circle cx="287.4" cy="282.2" r="3.05"/><circle cx="206.3" cy="306.4" r="3.05"/><circle cx="313.7" cy="371.6" r="3.05"/><circle cx="299.8" cy="289.2" r="3.05"/><circle cx="311.1" cy="285.5" r="3.05"/><circle cx="326.6" cy="312.0" r="3.05"/><circle cx="344.4" cy="304.5" r="3.05"/><circle cx="316.7" cy="352.3" r="3.05"/><circle cx="314.7" cy="361.5" r="3.05"/><circle cx="329.0" cy="297.8" r="3.05"/><circle cx="350.5" cy="316.6" r="3.05"/><circle cx="315.2" cy="372.8" r="3.05"/><circle cx="302.5" cy="268.6" r="3.05"/><circle cx="326.0" cy="341.2" r="3.05"/><circle cx="339.4" cy="281.4" r="3.05"/><circle cx="329.1" cy="383.9" r="3.05"/><circle cx="329.4" cy="240.5" r="3.05"/><circle cx="182.4" cy="288.6" r="3.05"/><circle cx="401.9" cy="214.9" r="3.05"/><circle cx="358.1" cy="308.4" r="3.05"/><circle cx="382.6" cy="278.2" r="3.05"/><circle cx="392.2" cy="298.5" r="3.05"/><circle cx="306.1" cy="382.3" r="3.05"/><circle cx="391.2" cy="235.9" r="3.05"/><circle cx="395.3" cy="310.2" r="3.05"/><circle cx="371.2" cy="341.3" r="3.05"/><circle cx="379.8" cy="306.4" r="3.05"/><circle cx="368.5" cy="338.6" r="3.05"/><circle cx="220.9" cy="291.3" r="3.05"/><circle cx="373.3" cy="253.4" r="3.05"/><circle cx="353.8" cy="370.8" r="3.05"/><circle cx="401.1" cy="222.1" r="3.05"/><circle cx="343.4" cy="381.7" r="3.05"/><circle cx="305.2" cy="235.4" r="3.05"/><circle cx="336.0" cy="361.3" r="3.05"/><circle cx="339.1" cy="379.7" r="3.05"/><circle cx="290.1" cy="235.5" r="3.05"/><circle cx="245.7" cy="268.1" r="3.05"/><circle cx="181.6" cy="283.0" r="3.05"/><circle cx="240.9" cy="283.6" r="3.05"/><circle cx="389.8" cy="268.3" r="3.05"/><circle cx="381.8" cy="329.6" r="3.05"/><circle cx="409.1" cy="256.1" r="3.05"/><circle cx="324.1" cy="379.4" r="3.05"/><circle cx="349.5" cy="365.2" r="3.05"/><circle cx="272.3" cy="256.3" r="3.05"/><circle cx="364.9" cy="325.5" r="3.05"/><circle cx="366.3" cy="320.1" r="3.05"/><circle cx="347.1" cy="226.6" r="3.05"/><circle cx="257.5" cy="286.8" r="3.05"/><circle cx="369.3" cy="311.6" r="3.05"/><circle cx="179.0" cy="298.6" r="3.05"/><circle cx="346.6" cy="376.2" r="3.05"/><circle cx="384.2" cy="273.2" r="3.05"/><circle cx="397.6" cy="245.4" r="3.05"/><circle cx="317.7" cy="257.4" r="3.05"/><circle cx="256.2" cy="288.7" r="3.05"/><circle cx="203.0" cy="271.7" r="3.05"/><circle cx="408.0" cy="227.6" r="3.05"/><circle cx="374.9" cy="252.6" r="3.05"/><circle cx="405.5" cy="278.7" r="3.05"/><circle cx="179.7" cy="395.1" r="3.05"/><circle cx="316.1" cy="246.5" r="3.05"/><circle cx="344.8" cy="246.9" r="3.05"/><circle cx="338.9" cy="231.8" r="3.05"/><circle cx="306.2" cy="249.9" r="3.05"/><circle cx="407.2" cy="223.0" r="3.05"/><circle cx="291.1" cy="236.3" r="3.05"/><circle cx="375.7" cy="221.6" r="3.05"/><circle cx="224.4" cy="278.8" r="3.05"/><circle cx="372.0" cy="290.8" r="3.05"/><circle cx="350.4" cy="235.7" r="3.05"/><circle cx="250.6" cy="290.2" r="3.05"/><circle cx="218.5" cy="262.3" r="3.05"/><circle cx="220.1" cy="404.6" r="3.05"/><circle cx="250.5" cy="282.5" r="3.05"/><circle cx="332.5" cy="369.7" r="3.05"/><circle cx="405.7" cy="224.1" r="3.05"/><circle cx="412.6" cy="242.8" r="3.05"/><circle cx="196.3" cy="273.3" r="3.05"/><circle cx="380.4" cy="238.0" r="3.05"/><circle cx="315.0" cy="256.5" r="3.05"/><circle cx="254.8" cy="262.4" r="3.05"/><circle cx="369.4" cy="319.7" r="3.05"/><circle cx="184.3" cy="280.3" r="3.05"/><circle cx="221.9" cy="278.8" r="3.05"/><circle cx="339.3" cy="242.5" r="3.05"/><circle cx="397.9" cy="225.7" r="3.05"/><circle cx="355.1" cy="258.3" r="3.05"/><circle cx="212.8" cy="291.0" r="3.05"/><circle cx="353.4" cy="231.0" r="3.05"/><circle cx="365.9" cy="288.0" r="3.05"/><circle cx="216.3" cy="281.0" r="3.05"/><circle cx="246.3" cy="268.4" r="3.05"/><circle cx="300.7" cy="262.3" r="3.05"/><circle cx="375.4" cy="259.4" r="3.05"/><circle cx="326.4" cy="227.0" r="3.05"/><circle cx="412.1" cy="244.3" r="3.05"/><circle cx="395.0" cy="244.1" r="3.05"/><circle cx="366.9" cy="298.4" r="3.05"/><circle cx="390.9" cy="316.5" r="3.05"/><circle cx="360.9" cy="345.6" r="3.05"/><circle cx="364.9" cy="304.3" r="3.05"/><circle cx="356.9" cy="314.0" r="3.05"/><circle cx="356.2" cy="317.0" r="3.05"/><circle cx="369.6" cy="286.8" r="3.05"/><circle cx="238.1" cy="282.3" r="3.05"/><circle cx="346.0" cy="358.8" r="3.05"/><circle cx="256.1" cy="281.3" r="3.05"/><circle cx="282.5" cy="247.5" r="3.05"/><circle cx="342.7" cy="372.0" r="3.05"/><circle cx="207.8" cy="274.1" r="3.05"/><circle cx="343.0" cy="342.0" r="3.05"/><circle cx="247.5" cy="277.8" r="3.05"/><circle cx="383.1" cy="331.8" r="3.05"/><circle cx="382.4" cy="218.8" r="3.05"/><circle cx="324.3" cy="230.1" r="3.05"/><circle cx="377.2" cy="225.0" r="3.05"/><circle cx="313.5" cy="241.8" r="3.05"/><circle cx="367.1" cy="214.6" r="3.05"/><circle cx="403.2" cy="230.1" r="3.05"/><circle cx="211.0" cy="267.3" r="3.05"/><circle cx="295.6" cy="247.2" r="3.05"/><circle cx="395.2" cy="305.8" r="3.05"/><circle cx="259.5" cy="278.3" r="3.05"/><circle cx="373.9" cy="239.1" r="3.05"/><circle cx="397.7" cy="299.6" r="3.05"/><circle cx="373.1" cy="333.8" r="3.05"/><circle cx="325.6" cy="250.1" r="3.05"/><circle cx="259.0" cy="278.6" r="3.05"/><circle cx="393.6" cy="281.1" r="3.05"/><circle cx="379.7" cy="324.1" r="3.05"/><circle cx="354.8" cy="311.8" r="3.05"/><circle cx="358.6" cy="263.2" r="3.05"/><circle cx="328.3" cy="223.5" r="3.05"/><circle cx="234.8" cy="283.7" r="3.05"/><circle cx="223.3" cy="269.6" r="3.05"/><circle cx="385.3" cy="329.9" r="3.05"/><circle cx="372.9" cy="291.0" r="3.05"/><circle cx="375.7" cy="322.5" r="3.05"/><circle cx="220.0" cy="268.0" r="3.05"/><circle cx="200.8" cy="279.9" r="3.05"/><circle cx="302.4" cy="263.1" r="3.05"/><circle cx="357.1" cy="308.8" r="3.05"/><circle cx="261.3" cy="246.6" r="3.05"/><circle cx="343.9" cy="223.3" r="3.05"/><circle cx="378.3" cy="229.3" r="3.05"/><circle cx="408.7" cy="217.8" r="3.05"/><circle cx="377.0" cy="235.2" r="3.05"/><circle cx="394.2" cy="199.7" r="3.05"/><circle cx="417.5" cy="181.1" r="3.05"/><circle cx="418.0" cy="179.4" r="3.05"/><circle cx="367.3" cy="226.0" r="3.05"/><circle cx="375.3" cy="188.9" r="3.05"/><circle cx="376.7" cy="236.5" r="3.05"/><circle cx="375.0" cy="241.1" r="3.05"/><circle cx="414.8" cy="191.2" r="3.05"/><circle cx="408.5" cy="180.6" r="3.05"/><circle cx="378.4" cy="182.0" r="3.05"/><circle cx="424.1" cy="214.1" r="3.05"/><circle cx="390.0" cy="232.2" r="3.05"/><circle cx="371.8" cy="214.2" r="3.05"/><circle cx="411.3" cy="174.2" r="3.05"/><circle cx="357.5" cy="217.8" r="3.05"/><circle cx="349.6" cy="214.8" r="3.05"/><circle cx="425.3" cy="211.3" r="3.05"/><circle cx="409.4" cy="224.2" r="3.05"/><circle cx="423.9" cy="167.7" r="3.05"/><circle cx="377.4" cy="212.4" r="3.05"/><circle cx="400.8" cy="291.9" r="3.05"/><circle cx="379.4" cy="330.4" r="3.05"/><circle cx="443.3" cy="271.0" r="3.05"/><circle cx="427.2" cy="283.9" r="3.05"/><circle cx="365.1" cy="301.0" r="3.05"/><circle cx="393.5" cy="324.4" r="3.05"/><circle cx="380.5" cy="321.1" r="3.05"/><circle cx="370.4" cy="342.7" r="3.05"/><circle cx="406.4" cy="299.0" r="3.05"/><circle cx="381.2" cy="328.8" r="3.05"/><circle cx="373.7" cy="340.1" r="3.05"/><circle cx="419.7" cy="276.5" r="3.05"/><circle cx="440.1" cy="280.2" r="3.05"/><circle cx="396.7" cy="278.2" r="3.05"/><circle cx="389.8" cy="310.4" r="3.05"/><circle cx="400.7" cy="285.2" r="3.05"/><circle cx="412.4" cy="302.5" r="3.05"/><circle cx="370.2" cy="291.8" r="3.05"/><circle cx="400.0" cy="323.2" r="3.05"/><circle cx="432.7" cy="287.4" r="3.05"/><circle cx="401.5" cy="290.2" r="3.05"/><circle cx="417.6" cy="269.5" r="3.05"/><circle cx="438.6" cy="286.6" r="3.05"/><circle cx="417.5" cy="304.8" r="3.05"/><circle cx="185.2" cy="107.5" r="3.05"/><circle cx="194.8" cy="102.8" r="3.05"/><circle cx="187.1" cy="143.1" r="3.05"/><circle cx="224.3" cy="139.7" r="3.05"/><circle cx="301.7" cy="168.9" r="3.05"/><circle cx="343.1" cy="173.2" r="3.05"/><circle cx="357.0" cy="180.4" r="3.05"/><circle cx="418.3" cy="126.1" r="3.05"/><circle cx="493.9" cy="120.0" r="3.05"/><circle cx="370.5" cy="193.9" r="3.05"/><circle cx="370.5" cy="205.9" r="3.05"/><circle cx="382.8" cy="191.2" r="3.05"/><circle cx="389.0" cy="184.0" r="3.05"/><circle cx="389.0" cy="161.7" r="3.05"/><circle cx="396.3" cy="195.7" r="3.05"/><circle cx="400.6" cy="200.6" r="3.05"/><circle cx="402.5" cy="184.7" r="3.05"/><circle cx="408.6" cy="187.7" r="3.05"/><circle cx="417.2" cy="195.7" r="3.05"/><circle cx="408.6" cy="170.5" r="3.05"/><circle cx="430.7" cy="168.3" r="3.05"/><circle cx="398.8" cy="214.5" r="3.05"/><circle cx="412.5" cy="210.1" r="3.05"/><circle cx="421.1" cy="215.6" r="3.05"/><circle cx="460.8" cy="206.1" r="3.05"/><circle cx="473.7" cy="198.8" r="3.05"/><circle cx="492.1" cy="266.6" r="3.05"/><circle cx="422.7" cy="268.2" r="3.05"/><circle cx="429.2" cy="276.8" r="3.05"/><circle cx="441.2" cy="278.0" r="3.05"/><circle cx="477.5" cy="160.5" r="3.05"/><circle cx="186.4" cy="235.6" r="3.05"/><circle cx="224.0" cy="209.0" r="3.05"/><circle cx="231.0" cy="209.5" r="3.05"/><circle cx="295.0" cy="211.0" r="3.05"/><circle cx="314.0" cy="204.0" r="3.05"/><circle cx="332.0" cy="212.0" r="3.05"/><circle cx="346.0" cy="207.0" r="3.05"/><circle cx="364.0" cy="175.0" r="3.05"/><circle cx="370.0" cy="163.0" r="3.05"/>
</g>
<path d="M532.7 64.2l14 14l-14 14l-14-14zM436.3 89.2l14 14l-14 14l-14-14zM407.5 135.6l14 14l-14 14l-14-14zM408.0 151.6l14 14l-14 14l-14-14zM393.9 154.1l14 14l-14 14l-14-14zM416.0 156.5l14 14l-14 14l-14-14zM425.8 167.6l14 14l-14 14l-14-14zM414.7 171.3l14 14l-14 14l-14-14zM423.3 181.1l14 14l-14 14l-14-14zM451.6 170.7l14 14l-14 14l-14-14zM463.9 182.9l14 14l-14 14l-14-14zM481.7 147.9l14 14l-14 14l-14-14zM517.8 158.5l14 14l-14 14l-14-14zM306.0 191.0l14 14l-14 14l-14-14z" fill="none" stroke="#dc3ae0" stroke-width="1.8"/>
</g>
<line x1="164.6" y1="464.4" x2="416.5" y2="59.8" stroke="#000" stroke-opacity="0.58" stroke-width="2.1"/>
<line x1="160.4" y1="59.8" x2="160.4" y2="466.7" stroke="#000" stroke-width="2.3"/>
<line x1="159.3" y1="465.5" x2="549.6" y2="465.5" stroke="#000" stroke-width="2.3"/>
<line x1="153.2" y1="447.7" x2="159.5" y2="447.7" stroke="#333" stroke-width="1.6"/>
<text x="146.3" y="455.3" font-size="21.4" text-anchor="end" style="fill:#303030;stroke:#303030">0.00</text>
<line x1="153.2" y1="325" x2="159.5" y2="325" stroke="#333" stroke-width="1.6"/>
<text x="146.3" y="332.6" font-size="21.4" text-anchor="end" style="fill:#303030;stroke:#303030">0.02</text>
<line x1="153.2" y1="202.4" x2="159.5" y2="202.4" stroke="#333" stroke-width="1.6"/>
<text x="146.3" y="210" font-size="21.4" text-anchor="end" style="fill:#303030;stroke:#303030">0.04</text>
<line x1="153.2" y1="79.8" x2="159.5" y2="79.8" stroke="#333" stroke-width="1.6"/>
<text x="146.3" y="87.3" font-size="21.4" text-anchor="end" style="fill:#303030;stroke:#303030">0.06</text>
<line x1="175" y1="466.4" x2="175" y2="472.2" stroke="#333" stroke-width="1.6"/>
<text x="175" y="494" font-size="21.4" text-anchor="middle" style="fill:#303030;stroke:#303030">0.000</text>
<line x1="270.4" y1="466.4" x2="270.4" y2="472.2" stroke="#333" stroke-width="1.6"/>
<text x="270.4" y="494" font-size="21.4" text-anchor="middle" style="fill:#303030;stroke:#303030">0.025</text>
<line x1="365.8" y1="466.4" x2="365.8" y2="472.2" stroke="#333" stroke-width="1.6"/>
<text x="365.8" y="494" font-size="21.4" text-anchor="middle" style="fill:#303030;stroke:#303030">0.050</text>
<line x1="461.2" y1="466.4" x2="461.2" y2="472.2" stroke="#333" stroke-width="1.6"/>
<text x="461.2" y="494" font-size="21.4" text-anchor="middle" style="fill:#303030;stroke:#303030">0.075</text>
<text x="357.3" y="530.2" font-size="27.9" text-anchor="middle">Variance explained</text>
<text x="357.3" y="565.2" font-size="27.9" text-anchor="middle">(discovery dataset)</text>
<text x="51.2" y="268.6" font-size="27.9" text-anchor="middle" transform="rotate(-90 51.2 268.6)">Variance explained</text>
<text x="86" y="266.9" font-size="27.9" text-anchor="middle" transform="rotate(-90 86 266.9)">(replication dataset)</text>
<text x="180.6" y="78.4" font-size="27.9"><tspan font-style="italic">r</tspan> = 0.65</text>
<path d="M614.7 163.2L620.6 169.1L614.7 175L608.8 169.1Z" fill="none" stroke="#222" stroke-width="1.9"/>
<text x="630.2" y="175.4" font-size="23.9"><tspan font-style="italic">HLA-DRB1</tspan> site 13</text>
<circle cx="615" cy="212.8" r="4.7" fill="none" stroke="#222" stroke-width="1.9"/>
<text x="633.6" y="222.2" font-size="23.6">Others</text>
<circle cx="614.6" cy="323.9" r="5.7" fill="#e23ce6"/>
<text x="629.8" y="332" font-size="23.7"><tspan font-style="italic">P</tspan> &lt; 0.05</text>
<circle cx="614.6" cy="367.3" r="5.7" fill="#b2b2b2"/>
<text x="629.8" y="376.6" font-size="23.7"><tspan font-style="italic">P</tspan> <tspan font-family="DejaVu Sans, sans-serif" font-size="21.5" style="stroke-width:0">≧</tspan> 0.05</text>
</g>
<g id="trb">
<text x="1120" y="65.6" font-size="32" text-anchor="middle"><tspan font-style="italic">HLA-DRB1</tspan> (TRB)</text>
<rect x="1023.33" y="78.00" width="42.67" height="14.66" fill="#fdfd82"/>
<rect x="1108.67" y="78.00" width="42.67" height="14.66" fill="#fdfd82"/>
<rect x="1023.33" y="92.66" width="170.67" height="14.66" fill="#fdfd82"/>
<rect x="1023.33" y="107.32" width="128.00" height="14.66" fill="#fdfd82"/>
<rect x="1023.33" y="121.98" width="42.67" height="14.66" fill="#fdfd82"/>
<rect x="1108.67" y="121.98" width="42.67" height="14.66" fill="#fdfd82"/>
<rect x="1023.33" y="136.64" width="170.67" height="14.66" fill="#fdfd82"/>
<rect x="1066.00" y="165.96" width="85.33" height="14.66" fill="#fdfd82"/>
<rect x="980.67" y="195.29" width="42.67" height="14.66" fill="#fdfd82"/>
<rect x="1023.33" y="195.29" width="213.33" height="14.66" fill="#2c57a4"/>
<rect x="1023.33" y="224.61" width="42.67" height="14.66" fill="#ea3069"/>
<rect x="1066.00" y="224.61" width="170.67" height="14.66" fill="#2c57a4"/>
<rect x="1023.33" y="283.25" width="85.33" height="14.66" fill="#fdfd82"/>
<rect x="1151.33" y="283.25" width="85.33" height="14.66" fill="#fdfd82"/>
<rect x="1108.67" y="297.91" width="42.67" height="14.66" fill="#fdfd82"/>
<rect x="1236.67" y="297.91" width="42.67" height="14.66" fill="#fdfd82"/>
<rect x="980.67" y="312.57" width="42.67" height="14.66" fill="#fdfd82"/>
<rect x="1023.33" y="312.57" width="42.67" height="14.66" fill="#2c57a4"/>
<rect x="1108.67" y="312.57" width="85.33" height="14.66" fill="#2c57a4"/>
<rect x="1236.67" y="312.57" width="42.67" height="14.66" fill="#2c57a4"/>
<rect x="1023.33" y="371.22" width="85.33" height="14.66" fill="#2c57a4"/>
<rect x="1236.67" y="371.22" width="42.67" height="14.66" fill="#fdfd82"/>
<rect x="1236.67" y="385.88" width="42.67" height="14.66" fill="#fdfd82"/>
<rect x="938.00" y="429.86" width="42.67" height="14.66" fill="#fdfd82"/>
<rect x="1023.33" y="429.86" width="256.00" height="14.66" fill="#fdfd82"/>
<rect x="1023.33" y="459.18" width="42.67" height="14.66" fill="#fdfd82"/>
<rect x="1108.67" y="459.18" width="42.67" height="14.66" fill="#fdfd82"/>
<rect x="1023.33" y="473.84" width="85.33" height="14.66" fill="#fdfd82"/>
<rect x="1151.33" y="473.84" width="85.33" height="14.66" fill="#fdfd82"/>
<rect x="1066.00" y="488.50" width="42.67" height="14.66" fill="#fdfd82"/>
<rect x="1023.33" y="503.16" width="213.33" height="14.66" fill="#fdfd82"/>
<rect x="1023.33" y="517.82" width="42.67" height="14.66" fill="#fdfd82"/>
<rect x="980.67" y="532.48" width="42.67" height="14.66" fill="#fdfd82"/>
<rect x="1108.67" y="532.48" width="128.00" height="14.66" fill="#fdfd82"/>
<rect x="1023.33" y="532.48" width="85.33" height="14.66" fill="#2c57a4"/>
<rect x="980.67" y="605.79" width="128.00" height="14.66" fill="#fdfd82"/>
<rect x="1151.33" y="605.79" width="42.67" height="14.66" fill="#fdfd82"/>
<rect x="1066.00" y="664.43" width="42.67" height="14.66" fill="#fdfd82"/>
<rect x="1023.33" y="752.40" width="170.67" height="14.66" fill="#fdfd82"/>
<rect x="1023.33" y="767.06" width="42.67" height="14.66" fill="#fdfd82"/>
<rect x="1108.67" y="767.06" width="85.33" height="14.66" fill="#fdfd82"/>
<rect x="1108.67" y="796.38" width="85.33" height="14.66" fill="#fdfd82"/>
<rect x="1023.33" y="811.04" width="42.67" height="14.66" fill="#fdfd82"/>
<rect x="1108.67" y="811.04" width="42.67" height="14.66" fill="#fdfd82"/>
<path d="M938 92.66H1322M938 107.32H1322M938 121.98H1322M938 136.64H1322M938 151.30H1322M938 165.96H1322M938 180.63H1322M938 195.29H1322M938 209.95H1322M938 224.61H1322M938 239.27H1322M938 253.93H1322M938 268.59H1322M938 283.25H1322M938 297.91H1322M938 312.57H1322M938 327.23H1322M938 341.89H1322M938 356.55H1322M938 371.22H1322M938 385.88H1322M938 400.54H1322M938 415.20H1322M938 429.86H1322M938 444.52H1322M938 459.18H1322M938 473.84H1322M938 488.50H1322M938 503.16H1322M938 517.82H1322M938 532.48H1322M938 547.15H1322M938 561.81H1322M938 576.47H1322M938 591.13H1322M938 605.79H1322M938 620.45H1322M938 635.11H1322M938 649.77H1322M938 664.43H1322M938 679.09H1322M938 693.75H1322M938 708.41H1322M938 723.07H1322M938 737.74H1322M938 752.40H1322M938 767.06H1322M938 781.72H1322M938 796.38H1322M938 811.04H1322M980.67 78V825.7M1023.33 78V825.7M1066.00 78V825.7M1108.67 78V825.7M1151.33 78V825.7M1194.00 78V825.7M1236.67 78V825.7M1279.33 78V825.7" fill="none" stroke="#000" stroke-opacity="0.37" stroke-width="1.25"/>
<rect x="938" y="78" width="384" height="747.7" fill="none" stroke="#000" stroke-opacity="0.13" stroke-width="1.2"/>
<g font-size="15.9" text-anchor="end" style="fill:#111;font-kerning:none">
<text x="929.2" y="92.0">-25</text>
<text x="929.2" y="106.7">-24</text>
<text x="929.2" y="121.4">-17</text>
<text x="929.2" y="136.0">-16</text>
<text x="929.2" y="150.7">-1</text>
<text x="929.2" y="165.3">4</text>
<text x="929.2" y="180.0">9</text>
<text x="929.2" y="194.7">10</text>
<text x="929.2" y="209.3">11</text>
<text x="929.2" y="224.0">12</text>
<text x="929.2" y="238.6">13</text>
<text x="929.2" y="253.3">14</text>
<text x="929.2" y="268.0">16</text>
<text x="929.2" y="282.6">25</text>
<text x="929.2" y="297.3">26</text>
<text x="929.2" y="311.9">28</text>
<text x="929.2" y="326.6">30</text>
<text x="929.2" y="341.3">31</text>
<text x="929.2" y="355.9">32</text>
<text x="929.2" y="370.6">33</text>
<text x="929.2" y="385.2">37</text>
<text x="929.2" y="399.9">38</text>
<text x="929.2" y="414.6">40</text>
<text x="929.2" y="429.2">47</text>
<text x="929.2" y="443.9">57</text>
<text x="929.2" y="458.6">58</text>
<text x="929.2" y="473.2">60</text>
<text x="929.2" y="487.9">67</text>
<text x="929.2" y="502.5">70</text>
<text x="929.2" y="517.2">71</text>
<text x="929.2" y="531.9">73</text>
<text x="929.2" y="546.5">74</text>
<text x="929.2" y="561.2">77</text>
<text x="929.2" y="575.8">78</text>
<text x="929.2" y="590.5">85</text>
<text x="929.2" y="605.2">86</text>
<text x="929.2" y="619.8">96</text>
<text x="929.2" y="634.5">98</text>
<text x="929.2" y="649.1">104</text>
<text x="929.2" y="663.8">112</text>
<text x="929.2" y="678.5">120</text>
<text x="929.2" y="693.1">133</text>
<text x="929.2" y="707.8">140</text>
<text x="929.2" y="722.4">142</text>
<text x="929.2" y="737.1">149</text>
<text x="929.2" y="751.8">166</text>
<text x="929.2" y="766.4">180</text>
<text x="929.2" y="781.1">181</text>
<text x="929.2" y="795.7">189</text>
<text x="929.2" y="810.4">231</text>
<text x="929.2" y="825.1">233</text>
</g>
<path d="M933.4 85.33H937.6M933.4 99.99H937.6M933.4 114.65H937.6M933.4 129.31H937.6M933.4 143.97H937.6M933.4 158.63H937.6M933.4 173.30H937.6M933.4 187.96H937.6M933.4 202.62H937.6M933.4 217.28H937.6M933.4 231.94H937.6M933.4 246.60H937.6M933.4 261.26H937.6M933.4 275.92H937.6M933.4 290.58H937.6M933.4 305.24H937.6M933.4 319.90H937.6M933.4 334.56H937.6M933.4 349.22H937.6M933.4 363.89H937.6M933.4 378.55H937.6M933.4 393.21H937.6M933.4 407.87H937.6M933.4 422.53H937.6M933.4 437.19H937.6M933.4 451.85H937.6M933.4 466.51H937.6M933.4 481.17H937.6M933.4 495.83H937.6M933.4 510.49H937.6M933.4 525.15H937.6M933.4 539.81H937.6M933.4 554.48H937.6M933.4 569.14H937.6M933.4 583.80H937.6M933.4 598.46H937.6M933.4 613.12H937.6M933.4 627.78H937.6M933.4 642.44H937.6M933.4 657.10H937.6M933.4 671.76H937.6M933.4 686.42H937.6M933.4 701.08H937.6M933.4 715.74H937.6M933.4 730.40H937.6M933.4 745.07H937.6M933.4 759.73H937.6M933.4 774.39H937.6M933.4 789.05H937.6M933.4 803.71H937.6M933.4 818.37H937.6M959.33 826V830.9M1002.00 826V830.9M1044.67 826V830.9M1087.33 826V830.9M1130.00 826V830.9M1172.67 826V830.9M1215.33 826V830.9M1258.00 826V830.9M1300.67 826V830.9" fill="none" stroke="#222" stroke-width="1.8"/>
<g font-size="16.1" text-anchor="middle" style="fill:#111;font-kerning:none">
<text x="959.3" y="847">107</text>
<text x="1002.0" y="847">108</text>
<text x="1044.7" y="847">109</text>
<text x="1087.3" y="847">110</text>
<text x="1130.0" y="847">111</text>
<text x="1172.7" y="847">112</text>
<text x="1215.3" y="847">113</text>
<text x="1258.0" y="847">114</text>
<text x="1300.7" y="847">115</text>
</g>
<text x="1130" y="868.8" font-size="18.4" text-anchor="middle" style="fill:#111;stroke:#111">CDR3 amino acid position (IMGT)</text>
<text x="887.5" y="452.5" font-size="18.3" text-anchor="middle" style="fill:#111;stroke:#111" transform="rotate(-90 887.5 452.5)">HLA amino acid position</text>
<text x="1043.7" y="246.6" font-size="34" text-anchor="middle" font-weight="bold">*</text>
</g>
<g id="tra">
<text x="1781" y="65.6" font-size="32" text-anchor="middle"><tspan font-style="italic">HLA-DRB1</tspan> (TRA)</text>
<rect x="1792.00" y="78.00" width="38.40" height="14.66" fill="#fdfd82"/>
<rect x="1868.80" y="78.00" width="38.40" height="14.66" fill="#fdfd82"/>
<rect x="1792.00" y="92.66" width="115.20" height="14.66" fill="#fdfd82"/>
<rect x="1676.80" y="107.32" width="38.40" height="14.66" fill="#fdfd82"/>
<rect x="1830.40" y="107.32" width="38.40" height="14.66" fill="#fdfd82"/>
<rect x="1907.20" y="107.32" width="38.40" height="14.66" fill="#fdfd82"/>
<rect x="1792.00" y="121.98" width="38.40" height="14.66" fill="#fdfd82"/>
<rect x="1868.80" y="121.98" width="38.40" height="14.66" fill="#fdfd82"/>
<rect x="1715.20" y="165.96" width="38.40" height="14.66" fill="#fdfd82"/>
<rect x="1945.60" y="165.96" width="38.40" height="14.66" fill="#fdfd82"/>
<rect x="1715.20" y="180.63" width="38.40" height="14.66" fill="#fdfd82"/>
<rect x="1600.00" y="195.29" width="38.40" height="14.66" fill="#fdfd82"/>
<rect x="1676.80" y="195.29" width="38.40" height="14.66" fill="#2c57a4"/>
<rect x="1945.60" y="195.29" width="38.40" height="14.66" fill="#2c57a4"/>
<rect x="1715.20" y="195.29" width="38.40" height="14.66" fill="#ea3069"/>
<rect x="1868.80" y="195.29" width="38.40" height="14.66" fill="#ea3069"/>
<rect x="1638.40" y="224.61" width="38.40" height="14.66" fill="#fdfd82"/>
<rect x="1676.80" y="224.61" width="76.80" height="14.66" fill="#2c57a4"/>
<rect x="1868.80" y="224.61" width="38.40" height="14.66" fill="#ea3069"/>
<rect x="1945.60" y="224.61" width="38.40" height="14.66" fill="#ea3069"/>
<rect x="1600.00" y="283.25" width="38.40" height="14.66" fill="#fdfd82"/>
<rect x="1676.80" y="283.25" width="38.40" height="14.66" fill="#fdfd82"/>
<rect x="1830.40" y="283.25" width="76.80" height="14.66" fill="#fdfd82"/>
<rect x="1676.80" y="297.91" width="115.20" height="14.66" fill="#fdfd82"/>
<rect x="1830.40" y="297.91" width="38.40" height="14.66" fill="#fdfd82"/>
<rect x="1945.60" y="297.91" width="38.40" height="14.66" fill="#fdfd82"/>
<rect x="1638.40" y="312.57" width="76.80" height="14.66" fill="#2c57a4"/>
<rect x="1830.40" y="312.57" width="38.40" height="14.66" fill="#2c57a4"/>
<rect x="1715.20" y="312.57" width="38.40" height="14.66" fill="#ea3069"/>
<rect x="1945.60" y="312.57" width="38.40" height="14.66" fill="#ea3069"/>
<rect x="1676.80" y="327.23" width="76.80" height="14.66" fill="#fdfd82"/>
<rect x="1945.60" y="327.23" width="38.40" height="14.66" fill="#fdfd82"/>
<rect x="1945.60" y="356.55" width="38.40" height="14.66" fill="#fdfd82"/>
<rect x="1676.80" y="371.22" width="115.20" height="14.66" fill="#2c57a4"/>
<rect x="1868.80" y="371.22" width="38.40" height="14.66" fill="#fdfd82"/>
<rect x="1638.40" y="429.86" width="38.40" height="14.66" fill="#fdfd82"/>
<rect x="1868.80" y="429.86" width="38.40" height="14.66" fill="#fdfd82"/>
<rect x="1945.60" y="429.86" width="38.40" height="14.66" fill="#2c57a4"/>
<rect x="1792.00" y="459.18" width="38.40" height="14.66" fill="#fdfd82"/>
<rect x="1638.40" y="473.84" width="38.40" height="14.66" fill="#fdfd82"/>
<rect x="1715.20" y="473.84" width="38.40" height="14.66" fill="#fdfd82"/>
<rect x="1868.80" y="473.84" width="38.40" height="14.66" fill="#fdfd82"/>
<rect x="1676.80" y="488.50" width="76.80" height="14.66" fill="#fdfd82"/>
<rect x="1792.00" y="488.50" width="38.40" height="14.66" fill="#fdfd82"/>
<rect x="1868.80" y="488.50" width="38.40" height="14.66" fill="#fdfd82"/>
<rect x="1945.60" y="488.50" width="38.40" height="14.66" fill="#fdfd82"/>
<rect x="1600.00" y="503.16" width="153.60" height="14.66" fill="#fdfd82"/>
<rect x="1830.40" y="503.16" width="76.80" height="14.66" fill="#fdfd82"/>
<rect x="1792.00" y="517.82" width="38.40" height="14.66" fill="#fdfd82"/>
<rect x="1907.20" y="517.82" width="38.40" height="14.66" fill="#fdfd82"/>
<rect x="1676.80" y="532.48" width="38.40" height="14.66" fill="#2c57a4"/>
<rect x="1792.00" y="532.48" width="38.40" height="14.66" fill="#2c57a4"/>
<rect x="1868.80" y="532.48" width="38.40" height="14.66" fill="#2c57a4"/>
<rect x="1830.40" y="532.48" width="38.40" height="14.66" fill="#fdfd82"/>
<rect x="1907.20" y="532.48" width="38.40" height="14.66" fill="#ea3069"/>
<rect x="1600.00" y="605.79" width="115.20" height="14.66" fill="#fdfd82"/>
<rect x="1830.40" y="605.79" width="76.80" height="14.66" fill="#fdfd82"/>
<rect x="1868.80" y="664.43" width="38.40" height="14.66" fill="#fdfd82"/>
<rect x="1792.00" y="752.40" width="38.40" height="14.66" fill="#fdfd82"/>
<rect x="1868.80" y="752.40" width="38.40" height="14.66" fill="#fdfd82"/>
<rect x="1945.60" y="752.40" width="38.40" height="14.66" fill="#fdfd82"/>
<rect x="1600.00" y="767.06" width="38.40" height="14.66" fill="#fdfd82"/>
<rect x="1715.20" y="767.06" width="38.40" height="14.66" fill="#fdfd82"/>
<rect x="1868.80" y="767.06" width="76.80" height="14.66" fill="#fdfd82"/>
<rect x="1945.60" y="781.72" width="38.40" height="14.66" fill="#fdfd82"/>
<rect x="1868.80" y="796.38" width="38.40" height="14.66" fill="#fdfd82"/>
<rect x="1792.00" y="811.04" width="38.40" height="14.66" fill="#fdfd82"/>
<path d="M1600 92.66H1984M1600 107.32H1984M1600 121.98H1984M1600 136.64H1984M1600 151.30H1984M1600 165.96H1984M1600 180.63H1984M1600 195.29H1984M1600 209.95H1984M1600 224.61H1984M1600 239.27H1984M1600 253.93H1984M1600 268.59H1984M1600 283.25H1984M1600 297.91H1984M1600 312.57H1984M1600 327.23H1984M1600 341.89H1984M1600 356.55H1984M1600 371.22H1984M1600 385.88H1984M1600 400.54H1984M1600 415.20H1984M1600 429.86H1984M1600 444.52H1984M1600 459.18H1984M1600 473.84H1984M1600 488.50H1984M1600 503.16H1984M1600 517.82H1984M1600 532.48H1984M1600 547.15H1984M1600 561.81H1984M1600 576.47H1984M1600 591.13H1984M1600 605.79H1984M1600 620.45H1984M1600 635.11H1984M1600 649.77H1984M1600 664.43H1984M1600 679.09H1984M1600 693.75H1984M1600 708.41H1984M1600 723.07H1984M1600 737.74H1984M1600 752.40H1984M1600 767.06H1984M1600 781.72H1984M1600 796.38H1984M1600 811.04H1984M1638.40 78V825.7M1676.80 78V825.7M1715.20 78V825.7M1753.60 78V825.7M1792.00 78V825.7M1830.40 78V825.7M1868.80 78V825.7M1907.20 78V825.7M1945.60 78V825.7" fill="none" stroke="#000" stroke-opacity="0.37" stroke-width="1.25"/>
<rect x="1600" y="78" width="384" height="747.7" fill="none" stroke="#000" stroke-opacity="0.13" stroke-width="1.2"/>
<g font-size="15.9" text-anchor="end" style="fill:#111;font-kerning:none">
<text x="1591.4" y="92.0">-25</text>
<text x="1591.4" y="106.7">-24</text>
<text x="1591.4" y="121.4">-17</text>
<text x="1591.4" y="136.0">-16</text>
<text x="1591.4" y="150.7">-1</text>
<text x="1591.4" y="165.3">4</text>
<text x="1591.4" y="180.0">9</text>
<text x="1591.4" y="194.7">10</text>
<text x="1591.4" y="209.3">11</text>
<text x="1591.4" y="224.0">12</text>
<text x="1591.4" y="238.6">13</text>
<text x="1591.4" y="253.3">14</text>
<text x="1591.4" y="268.0">16</text>
<text x="1591.4" y="282.6">25</text>
<text x="1591.4" y="297.3">26</text>
<text x="1591.4" y="311.9">28</text>
<text x="1591.4" y="326.6">30</text>
<text x="1591.4" y="341.3">31</text>
<text x="1591.4" y="355.9">32</text>
<text x="1591.4" y="370.6">33</text>
<text x="1591.4" y="385.2">37</text>
<text x="1591.4" y="399.9">38</text>
<text x="1591.4" y="414.6">40</text>
<text x="1591.4" y="429.2">47</text>
<text x="1591.4" y="443.9">57</text>
<text x="1591.4" y="458.6">58</text>
<text x="1591.4" y="473.2">60</text>
<text x="1591.4" y="487.9">67</text>
<text x="1591.4" y="502.5">70</text>
<text x="1591.4" y="517.2">71</text>
<text x="1591.4" y="531.9">73</text>
<text x="1591.4" y="546.5">74</text>
<text x="1591.4" y="561.2">77</text>
<text x="1591.4" y="575.8">78</text>
<text x="1591.4" y="590.5">85</text>
<text x="1591.4" y="605.2">86</text>
<text x="1591.4" y="619.8">96</text>
<text x="1591.4" y="634.5">98</text>
<text x="1591.4" y="649.1">104</text>
<text x="1591.4" y="663.8">112</text>
<text x="1591.4" y="678.5">120</text>
<text x="1591.4" y="693.1">133</text>
<text x="1591.4" y="707.8">140</text>
<text x="1591.4" y="722.4">142</text>
<text x="1591.4" y="737.1">149</text>
<text x="1591.4" y="751.8">166</text>
<text x="1591.4" y="766.4">180</text>
<text x="1591.4" y="781.1">181</text>
<text x="1591.4" y="795.7">189</text>
<text x="1591.4" y="810.4">231</text>
<text x="1591.4" y="825.1">233</text>
</g>
<path d="M1595.4 85.33H1599.6M1595.4 99.99H1599.6M1595.4 114.65H1599.6M1595.4 129.31H1599.6M1595.4 143.97H1599.6M1595.4 158.63H1599.6M1595.4 173.30H1599.6M1595.4 187.96H1599.6M1595.4 202.62H1599.6M1595.4 217.28H1599.6M1595.4 231.94H1599.6M1595.4 246.60H1599.6M1595.4 261.26H1599.6M1595.4 275.92H1599.6M1595.4 290.58H1599.6M1595.4 305.24H1599.6M1595.4 319.90H1599.6M1595.4 334.56H1599.6M1595.4 349.22H1599.6M1595.4 363.89H1599.6M1595.4 378.55H1599.6M1595.4 393.21H1599.6M1595.4 407.87H1599.6M1595.4 422.53H1599.6M1595.4 437.19H1599.6M1595.4 451.85H1599.6M1595.4 466.51H1599.6M1595.4 481.17H1599.6M1595.4 495.83H1599.6M1595.4 510.49H1599.6M1595.4 525.15H1599.6M1595.4 539.81H1599.6M1595.4 554.48H1599.6M1595.4 569.14H1599.6M1595.4 583.80H1599.6M1595.4 598.46H1599.6M1595.4 613.12H1599.6M1595.4 627.78H1599.6M1595.4 642.44H1599.6M1595.4 657.10H1599.6M1595.4 671.76H1599.6M1595.4 686.42H1599.6M1595.4 701.08H1599.6M1595.4 715.74H1599.6M1595.4 730.40H1599.6M1595.4 745.07H1599.6M1595.4 759.73H1599.6M1595.4 774.39H1599.6M1595.4 789.05H1599.6M1595.4 803.71H1599.6M1595.4 818.37H1599.6M1619.20 826V830.9M1657.60 826V830.9M1696.00 826V830.9M1734.40 826V830.9M1772.80 826V830.9M1811.20 826V830.9M1849.60 826V830.9M1888.00 826V830.9M1926.40 826V830.9M1964.80 826V830.9" fill="none" stroke="#222" stroke-width="1.8"/>
<g font-size="16.1" text-anchor="middle" style="fill:#111;font-kerning:none">
<text x="1619.2" y="847">107</text>
<text x="1657.6" y="847">108</text>
<text x="1696.0" y="847">109</text>
<text x="1734.4" y="847">110</text>
<text x="1772.8" y="847">111</text>
<text x="1811.2" y="847">112</text>
<text x="1849.6" y="847">113</text>
<text x="1888.0" y="847">114</text>
<text x="1926.4" y="847">115</text>
<text x="1964.8" y="847">116</text>
</g>
<text x="1791.5" y="868.8" font-size="18.4" text-anchor="middle" style="fill:#111;stroke:#111">CDR3 amino acid position (IMGT)</text>
<text x="1549.1" y="452.5" font-size="18.3" text-anchor="middle" style="fill:#111;stroke:#111" transform="rotate(-90 1549.1 452.5)">HLA amino acid position</text>
<text x="1886.8" y="246" font-size="34" text-anchor="middle" font-weight="bold">*</text>
</g>
<g id="leg-trb">
<text x="1335" y="348" font-size="23.8">Variance</text>
<text x="1335" y="376.5" font-size="23.8">explained</text>
<rect x="1351.2" y="386.9" width="37.7" height="37.7" fill="#fff"/>
<rect x="1351.2" y="424.6" width="37.7" height="37.7" fill="#fdfd82"/>
<rect x="1351.2" y="462.3" width="37.7" height="37.7" fill="#2c57a4"/>
<rect x="1351.2" y="500.0" width="37.7" height="37.7" fill="#ea3069"/>
<rect x="1351.7" y="387.4" width="36.7" height="36.7" fill="none" stroke="#cfcfcf" stroke-width="1"/>
<text x="1393" y="411.6" font-size="16.4" style="fill:#111;stroke:#111">&lt; 0.02</text>
<text x="1393" y="449.2" font-size="16.4" style="fill:#111;stroke:#111">&lt; 0.04</text>
<text x="1393" y="486.9" font-size="16.4" style="fill:#111;stroke:#111">&lt; 0.06</text>
<text x="1393" y="524.6" font-size="16.4" style="fill:#111;stroke:#111">&gt;= 0.06</text>
</g>
<g id="leg-tra">
<text x="1993.8" y="344" font-size="23.8">Variance</text>
<text x="1993.8" y="372.5" font-size="23.8">explained</text>
<rect x="2013.2" y="386.9" width="37.7" height="37.7" fill="#fff"/>
<rect x="2013.2" y="424.6" width="37.7" height="37.7" fill="#fdfd82"/>
<rect x="2013.2" y="462.3" width="37.7" height="37.7" fill="#2c57a4"/>
<rect x="2013.2" y="500.0" width="37.7" height="37.7" fill="#ea3069"/>
<rect x="2013.7" y="387.4" width="36.7" height="36.7" fill="none" stroke="#cfcfcf" stroke-width="1"/>
<text x="2055.2" y="411.6" font-size="16.4" style="fill:#111;stroke:#111">&lt; 0.02</text>
<text x="2055.2" y="449.2" font-size="16.4" style="fill:#111;stroke:#111">&lt; 0.04</text>
<text x="2055.2" y="486.9" font-size="16.4" style="fill:#111;stroke:#111">&lt; 0.05</text>
<text x="2055.2" y="524.6" font-size="16.4" style="fill:#111;stroke:#111">&gt;= 0.05</text>
</g>
<g id="panel-c">
<g id="scatter-c">
<path d="M305.3 927.0H317.4M311.4 890.0V963.9M379.6 938.4H382.2M380.9 932.5V944.2M336.9 927.6H342.9M339.9 918.0V937.2M314.5 928.6H324.1M319.3 915.2V941.9M372.8 936.4H376.8M374.8 928.9V943.8M374.8 936.2H379.2M377.0 922.4V950.1M350.5 927.2H353.2M351.9 911.7V942.6M380.2 940.1H383.4M381.8 927.5V952.6M407.5 942.8H410.1M408.8 932.8V952.8M369.9 943.3H373.6M371.8 930.0V956.6M384.7 942.3H387.2M386.0 932.5V952.1M354.3 924.6H357.8M356.1 889.0V960.2M377.4 937.9H380.0M378.7 929.1V946.8M307.1 921.0H313.0M310.1 911.7V930.4M289.0 931.7H305.4M297.2 913.5V949.9M298.7 929.1H301.9M300.3 901.3V956.9M371.6 935.9H374.0M372.8 927.9V943.9M405.9 941.8H413.3M409.6 930.8V952.8M397.9 942.8H408.4M403.2 931.1V954.6M380.9 939.1H385.3M383.1 934.1V944.0M349.3 930.2H352.3M350.8 916.4V944.1M341.2 926.0H343.7M342.5 900.6V951.4M406.2 941.4H414.4M410.3 932.9V949.8M353.4 932.8H356.3M354.9 908.3V957.2M355.7 924.3H358.5M357.1 902.2V946.5M411.5 938.1H418.6M415.1 932.6V943.7M324.2 922.0H329.6M326.9 897.4V946.5M338.3 932.9H341.2M339.8 913.7V952.2M368.3 938.2H370.8M369.5 914.2V962.2M298.8 928.0H312.6M305.7 907.4V948.6M301.1 931.9H315.4M308.2 918.4V945.4M316.5 926.6H321.5M319.0 909.6V943.7M367.1 940.1H369.8M368.5 931.8V948.3M385.3 943.4H387.7M386.5 934.1V952.7M294.3 929.5H297.5M295.9 903.0V956.1M307.3 927.4H310.5M308.9 907.2V947.5M315.8 931.3H319.7M317.7 914.9V947.8M367.3 935.9H369.8M368.6 922.3V949.5M293.9 929.3H301.2M297.5 893.1V965.6M384.1 938.2H387.9M386.0 929.0V947.5M333.1 926.3H335.5M334.3 881.3V971.3M297.1 928.9H301.3M299.2 904.5V953.2M296.7 924.7H304.9M300.8 904.7V944.8M406.4 936.9H415.9M411.1 931.3V942.6M384.0 939.5H389.9M387.0 927.5V951.5M355.0 926.7H357.4M356.2 919.4V934.0M405.5 939.9H413.3M409.4 926.7V953.2M335.4 921.8H342.6M339.0 896.8V946.8M342.8 922.6H348.2M345.5 912.7V932.6M371.8 940.4H376.8M374.3 928.1V952.7M300.9 932.7H315.2M308.1 914.3V951.1M323.6 927.8H330.7M327.1 893.2V962.4M321.6 932.8H324.8M323.2 911.1V954.5M334.9 929.1H337.8M336.3 913.9V944.2M307.5 928.4H310.9M309.2 903.7V953.0M256.5 928.7H270.9M263.7 893.4V964.0M341.7 927.9H348.3M345.0 911.8V944.0M281.0 926.8H292.2M286.6 914.1V939.4M264.3 926.4H279.8M272.0 911.1V941.8M306.1 929.1H308.6M307.3 917.7V940.4M336.6 929.2H339.0M337.8 921.1V937.3M297.9 926.2H311.3M304.6 904.4V947.9M314.4 922.6H318.2M316.3 899.0V946.3M376.7 935.1H380.4M378.5 917.7V952.6M267.2 931.3H278.0M272.6 911.1V951.6M366.8 943.4H370.1M368.4 929.6V957.1M297.3 925.5H312.1M304.7 904.3V946.6M274.1 927.1H284.6M279.3 919.4V934.9M318.0 928.7H321.8M319.9 909.6V947.9M298.9 930.4H303.0M300.9 908.0V952.8M320.1 923.7H323.1M321.6 898.3V949.1M396.3 942.3H399.0M397.7 933.0V951.6M297.9 926.9H303.8M300.8 917.4V936.4M321.3 926.3H329.2M325.2 912.3V940.3M298.6 923.3H310.3M304.5 907.2V939.3M352.4 927.7H355.7M354.0 889.6V965.7M409.7 942.1H415.5M412.6 934.0V950.2M414.3 943.6H416.9M415.6 935.6V951.7M354.1 931.4H356.6M355.3 906.3V956.6M292.3 932.7H306.3M299.3 925.2V940.3M376.8 934.5H382.5M379.6 923.1V946.0M318.1 923.3H326.2M322.1 898.9V947.7M325.1 926.5H329.0M327.1 887.8V965.3M368.3 934.5H371.0M369.6 928.8V940.3M391.1 942.9H395.0M393.0 924.4V961.4M342.8 929.8H346.1M344.4 906.0V953.6M291.4 928.1H308.3M299.8 888.9V967.4M383.5 936.6H389.1M386.3 926.8V946.4M329.2 930.9H337.0M333.1 916.0V945.9M316.3 922.5H318.7M317.5 887.1V957.8M388.2 938.4H392.1M390.2 926.2V950.5M256.9 923.9H265.3M261.1 916.0V931.8M292.3 925.4H295.9M294.1 904.0V946.7M348.4 927.8H353.4M350.9 915.1V940.6M410.1 938.4H412.8M411.5 926.4V950.3M370.2 939.8H372.8M371.5 931.8V947.7M400.2 934.7H403.9M402.1 924.7V944.7M299.3 927.5H310.8M305.0 903.6V951.3M323.6 922.9H327.1M325.4 899.3V946.6M386.3 935.8H392.3M389.3 926.1V945.4M413.1 936.3H422.4M417.7 922.8V949.8M324.9 929.5H328.1M326.5 894.9V964.2M300.9 928.7H311.2M306.0 920.7V936.8M404.9 935.5H413.4M409.2 922.7V948.2M275.3 923.0H280.8M278.1 904.9V941.0" fill="none" stroke="#b3b3b3" stroke-width="1.9"/>
<path d="M311.4 927.0h0M380.9 938.4h0M339.9 927.6h0M319.3 928.6h0M374.8 936.4h0M377.0 936.2h0M351.9 927.2h0M381.8 940.1h0M408.8 942.8h0M371.8 943.3h0M386.0 942.3h0M356.1 924.6h0M378.7 937.9h0M310.1 921.0h0M297.2 931.7h0M300.3 929.1h0M372.8 935.9h0M409.6 941.8h0M403.2 942.8h0M383.1 939.1h0M350.8 930.2h0M342.5 926.0h0M410.3 941.4h0M354.9 932.8h0M357.1 924.3h0M415.1 938.1h0M326.9 922.0h0M339.8 932.9h0M369.5 938.2h0M305.7 928.0h0M308.2 931.9h0M319.0 926.6h0M368.5 940.1h0M386.5 943.4h0M295.9 929.5h0M308.9 927.4h0M317.7 931.3h0M368.6 935.9h0M297.5 929.3h0M386.0 938.2h0M334.3 926.3h0M299.2 928.9h0M300.8 924.7h0M411.1 936.9h0M387.0 939.5h0M356.2 926.7h0M409.4 939.9h0M339.0 921.8h0M345.5 922.6h0M374.3 940.4h0M308.1 932.7h0M327.1 927.8h0M323.2 932.8h0M336.3 929.1h0M309.2 928.4h0M263.7 928.7h0M345.0 927.9h0M286.6 926.8h0M272.0 926.4h0M307.3 929.1h0M337.8 929.2h0M304.6 926.2h0M316.3 922.6h0M378.5 935.1h0M272.6 931.3h0M368.4 943.4h0M304.7 925.5h0M279.3 927.1h0M319.9 928.7h0M300.9 930.4h0M321.6 923.7h0M397.7 942.3h0M300.8 926.9h0M325.2 926.3h0M304.5 923.3h0M354.0 927.7h0M412.6 942.1h0M415.6 943.6h0M355.3 931.4h0M299.3 932.7h0M379.6 934.5h0M322.1 923.3h0M327.1 926.5h0M369.6 934.5h0M393.0 942.9h0M344.4 929.8h0M299.8 928.1h0M386.3 936.6h0M333.1 930.9h0M317.5 922.5h0M390.2 938.4h0M261.1 923.9h0M294.1 925.4h0M350.9 927.8h0M411.5 938.4h0M371.5 939.8h0M402.1 934.7h0M305.0 927.5h0M325.4 922.9h0M389.3 935.8h0M417.7 936.3h0M326.5 929.5h0M306.0 928.7h0M409.2 935.5h0M278.1 923.0h0" fill="none" stroke="#b3b3b3" stroke-width="4.6" stroke-linecap="round"/>
<path d="M402.5 886.3H438.8M420.0 833.8V910.0M435.0 892.5H500.0M460.0 870.0V915.0M445.0 891.3H500.0M473.3 845.5V960.0M480.0 891.3H573.8M528.3 841.8V942.5M441.3 917.5H495.0M468.8 873.8V962.5M440.0 923.8H479.3M458.8 907.5V952.5M448.0 937.5H530.0M487.5 896.0V977.0M416.3 957.0H464.5M440.8 932.5V1016.0M456.3 966.3H518.0M487.5 905.0V1037.5M191.5 928.7H248.6M213.0 869.0V986.0M204.4 986.3H248.6M226.7 896.0V1076.0M206.8 1018.0H272.0M240.0 792.5V1114.0M242.5 1013.3H292.8M266.4 920.0V1118.8M285.4 997.6H326.0M300.8 972.8V1083.8M321.0 977.5H343.8M330.9 960.5V1045.3M250.0 925.0H298.0M274.4 835.4V1036.7M262.0 922.0H300.0M282.3 822.5V1029.3M276.0 960.0H296.0M286.0 900.0V1038.5M270.0 930.0H305.0M291.0 885.7V1006.0M298.0 922.0H322.0M311.6 840.3V1039.0M314.0 950.0H331.0M322.3 900.0V1014.6M292.0 918.0H318.0M306.0 877.6V960.0M244.0 921.0H280.0M261.0 908.4V1030.0M252.0 927.0H284.0M265.8 908.4V1005.0M258.0 920.0H296.0M276.3 858.8V990.0M220.0 940.0H248.0M233.9 923.8V975.0M405.0 888.0H437.0M420.5 833.8V925.0M404.0 896.0H428.0M415.0 870.0V940.0M386.0 880.0H401.0M393.0 860.0V905.0M338.0 912.0H350.0M344.0 906.0V932.0M346.0 915.0H357.0M352.0 908.0V934.0M328.0 913.0H340.0M334.0 905.0V930.0M372.0 960.0H384.0M378.0 938.0V985.0M392.0 955.0H406.0M399.0 935.0V980.0M400.0 958.0H414.0M407.0 936.0V984.0M406.0 962.0H423.0M414.0 938.0V990.0M424.0 945.0H441.0M432.0 925.0V975.0" fill="none" stroke="#b3b3b3" stroke-width="2.2"/>
<path d="M420.0 886.3h0M460.0 892.5h0M473.3 891.3h0M528.3 891.3h0M468.8 917.5h0M458.8 923.8h0M487.5 937.5h0M440.8 957.0h0M487.5 966.3h0M213.0 928.7h0M226.7 986.3h0M240.0 1018.0h0M266.4 1013.3h0M300.8 997.6h0M330.9 977.5h0M274.4 925.0h0M282.3 922.0h0M286.0 960.0h0M291.0 930.0h0M311.6 922.0h0M322.3 950.0h0M306.0 918.0h0M261.0 921.0h0M265.8 927.0h0M276.3 920.0h0M233.9 940.0h0M420.5 888.0h0M415.0 896.0h0M393.0 880.0h0M344.0 912.0h0M352.0 915.0h0M334.0 913.0h0M378.0 960.0h0M399.0 955.0h0M407.0 958.0h0M414.0 962.0h0M432.0 945.0h0" fill="none" stroke="#b3b3b3" stroke-width="7.0" stroke-linecap="round"/>
<path d="M364.9 928.6H367.6M366.2 924.1V933.1M399.3 906.2H402.5M400.9 890.4V922.0M349.8 941.8H352.6M351.2 929.4V954.2M338.3 946.0H343.3M340.8 928.1V963.9M396.8 911.1H403.8M400.3 897.7V924.5M302.0 966.0H305.2M303.6 952.0V980.0M368.2 925.7H371.7M370.0 921.6V929.9M325.5 956.1H330.9M328.2 944.4V967.7M358.2 936.7H361.0M359.6 932.4V941.0M337.0 950.1H343.1M340.0 938.3V962.0M338.9 948.7H343.9M341.4 936.5V960.8M396.1 914.2H401.8M399.0 907.9V920.6M333.1 948.7H339.9M336.5 940.9V956.6M320.7 960.2H325.7M323.2 948.6V971.9M386.4 913.8H390.4M388.4 903.0V924.5M425.6 907.7H429.1M427.3 889.9V925.6M412.5 902.1H422.1M417.3 886.6V917.5M326.9 958.2H332.8M329.8 945.3V971.2M329.3 952.4H335.0M332.2 940.1V964.7M306.2 957.9H317.9M312.0 943.9V972.0M428.3 907.9H439.1M433.7 896.7V919.1M346.2 944.5H349.0M347.6 936.5V952.4M432.1 900.2H435.1M433.6 880.1V920.3M321.8 951.8H324.6M323.2 942.6V961.1M293.7 962.9H302.0M297.8 942.2V983.7M429.2 906.7H435.9M432.5 898.5V915.0M338.5 946.0H341.3M339.9 939.5V952.5M301.5 972.3H314.4M307.9 956.8V987.7M420.6 909.5H426.0M423.3 899.8V919.2M340.9 945.2H343.6M342.2 939.0V951.3M324.8 956.1H330.9M327.8 942.5V969.8M350.7 939.5H354.6M352.6 933.1V945.9M351.1 940.9H353.9M352.5 934.9V947.0M396.8 910.2H404.2M400.5 901.7V918.8M368.0 926.1H370.4M369.2 921.2V931.0M430.8 900.9H439.5M435.1 881.3V920.4M324.0 956.8H328.8M326.4 944.2V969.5M338.3 946.4H343.1M340.7 938.5V954.2M416.7 906.5H422.6M419.7 891.5V921.5M342.5 945.0H346.8M344.7 928.0V962.0M314.4 962.2H319.6M317.0 946.6V977.7M292.9 965.6H305.7M299.3 946.8V984.4M377.5 920.5H383.0M380.3 913.9V927.2M370.2 923.6H372.7M371.4 917.0V930.2M411.0 909.7H414.6M412.8 900.6V918.8M355.6 938.2H358.4M357.0 932.5V944.0M342.1 947.5H347.3M344.7 932.0V963.0M416.5 904.9H426.0M421.2 892.3V917.4M395.8 907.2H402.8M399.3 892.5V921.9M336.3 950.1H339.6M337.9 937.9V962.3M394.9 914.4H399.7M397.3 904.2V924.7M326.0 959.1H333.4M329.7 943.1V975.0M414.1 909.5H422.3M418.2 901.7V917.4M372.0 920.9H375.0M373.5 915.5V926.3M431.9 900.1H436.8M434.4 882.9V917.2M341.2 946.3H346.1M343.7 939.5V953.1M379.3 918.9H382.8M381.1 911.3V926.6M315.2 960.5H319.0M317.1 946.7V974.3M324.6 959.4H333.6M329.1 948.5V970.3M320.6 962.5H328.4M324.5 945.7V979.3M388.3 910.5H392.4M390.4 899.8V921.2M412.6 908.3H416.0M414.3 882.3V934.4M313.8 960.1H322.0M317.9 948.8V971.3M404.9 911.0H413.0M408.9 901.0V921.0M376.9 919.1H381.2M379.0 911.3V926.9M347.9 941.1H351.9M349.9 936.0V946.2M316.2 963.2H323.6M319.9 945.3V981.0M401.8 913.7H407.3M404.5 907.3V920.1M387.6 912.1H394.4M391.0 901.6V922.6M422.8 903.5H437.9M430.4 890.7V916.2M318.8 965.4H321.4M320.1 944.2V986.5M390.0 914.9H393.5M391.7 905.8V923.9M420.3 909.6H432.5M426.4 899.6V919.7M301.9 966.8H309.3M305.6 953.8V979.7M346.9 944.5H349.5M348.2 935.3V953.7M356.7 937.4H359.2M357.9 933.1V941.7M400.2 905.0H409.4M404.8 891.0V919.0M382.7 916.2H387.2M384.9 905.4V927.1M398.6 910.3H404.9M401.8 896.9V923.8M426.7 906.3H431.8M429.3 889.1V923.5M320.9 960.7H326.6M323.8 949.8V971.7M385.8 916.0H390.5M388.2 907.9V924.0M380.3 918.5H386.4M383.3 911.8V925.2M392.8 911.4H395.5M394.1 900.5V922.4M334.5 951.3H340.9M337.7 939.3V963.3M304.2 966.1H314.8M309.5 950.3V981.8M402.2 910.2H407.5M404.8 899.2V921.2M333.1 954.3H337.1M335.1 940.5V968.1M297.6 965.2H309.5M303.5 943.8V986.6M332.5 952.7H337.6M335.1 930.2V975.1M367.3 926.4H369.9M368.6 921.8V930.9M424.7 906.1H439.3M432.0 890.2V922.0M341.7 943.2H347.5M344.6 934.3V952.2M303.8 973.0H316.4M310.1 951.5V994.5M379.0 916.9H382.7M380.8 910.9V923.0M339.9 945.3H344.3M342.1 936.4V954.2M328.6 950.9H334.7M331.7 942.2V959.6M399.8 910.0H409.5M404.7 902.6V917.4M332.9 947.3H340.0M336.5 939.9V954.8M302.2 959.9H311.8M307.0 944.1V975.8M401.8 905.3H411.5M406.7 894.5V916.1M431.6 906.8H435.1M433.3 898.7V914.8M356.1 937.7H359.3M357.7 933.2V942.2M416.9 908.9H420.7M418.8 889.7V928.0M374.4 920.4H378.5M376.4 912.4V928.5M413.0 905.4H426.8M419.9 895.7V915.2M412.9 910.5H417.0M414.9 898.1V922.8M338.3 948.7H343.2M340.7 936.7V960.7M397.8 909.1H403.7M400.8 894.8V923.4M356.5 937.8H359.7M358.1 933.4V942.2M338.3 946.7H342.8M340.5 935.9V957.6M434.5 900.0H442.3M438.4 880.2V919.8M303.5 970.9H312.2M307.8 947.4V994.5M335.8 951.2H341.2M338.5 943.0V959.3M368.5 926.0H371.8M370.2 920.5V931.5M342.4 948.1H345.1M343.8 938.5V957.6M426.9 900.3H443.1M435.0 886.4V914.1M433.7 910.0H436.2M434.9 898.2V921.9M427.5 905.4H442.5M435.0 895.4V915.5M314.3 966.4H317.0M315.7 949.7V983.1M389.7 908.9H397.2M393.5 895.8V922.1M305.4 970.6H312.7M309.1 955.4V985.8M417.2 907.6H431.1M424.2 894.5V920.8M358.9 935.7H361.6M360.2 931.3V940.0M417.8 909.1H429.3M423.5 895.3V922.8M432.8 904.9H439.6M436.2 892.8V917.0M350.6 942.6H353.2M351.9 936.5V948.7M336.9 946.6H342.8M339.9 930.5V962.8M323.3 958.2H331.4M327.3 945.1V971.4M373.2 919.9H376.1M374.6 914.1V925.6M299.8 969.6H312.3M306.1 946.7V992.6M425.9 903.5H441.1M433.5 878.7V928.3M402.2 909.8H407.8M405.0 894.7V925.0M349.4 939.6H353.8M351.6 934.0V945.2M320.3 959.8H329.3M324.8 949.6V970.0" fill="none" stroke="#c42fc8" stroke-width="2.0"/>
<path d="M366.2 928.6h0M400.9 906.2h0M351.2 941.8h0M340.8 946.0h0M400.3 911.1h0M303.6 966.0h0M370.0 925.7h0M328.2 956.1h0M359.6 936.7h0M340.0 950.1h0M341.4 948.7h0M399.0 914.2h0M336.5 948.7h0M323.2 960.2h0M388.4 913.8h0M427.3 907.7h0M417.3 902.1h0M329.8 958.2h0M332.2 952.4h0M312.0 957.9h0M433.7 907.9h0M347.6 944.5h0M433.6 900.2h0M323.2 951.8h0M297.8 962.9h0M432.5 906.7h0M339.9 946.0h0M307.9 972.3h0M423.3 909.5h0M342.2 945.2h0M327.8 956.1h0M352.6 939.5h0M352.5 940.9h0M400.5 910.2h0M369.2 926.1h0M435.1 900.9h0M326.4 956.8h0M340.7 946.4h0M419.7 906.5h0M344.7 945.0h0M317.0 962.2h0M299.3 965.6h0M380.3 920.5h0M371.4 923.6h0M412.8 909.7h0M357.0 938.2h0M344.7 947.5h0M421.2 904.9h0M399.3 907.2h0M337.9 950.1h0M397.3 914.4h0M329.7 959.1h0M418.2 909.5h0M373.5 920.9h0M434.4 900.1h0M343.7 946.3h0M381.1 918.9h0M317.1 960.5h0M329.1 959.4h0M324.5 962.5h0M390.4 910.5h0M414.3 908.3h0M317.9 960.1h0M408.9 911.0h0M379.0 919.1h0M349.9 941.1h0M319.9 963.2h0M404.5 913.7h0M391.0 912.1h0M430.4 903.5h0M320.1 965.4h0M391.7 914.9h0M426.4 909.6h0M305.6 966.8h0M348.2 944.5h0M357.9 937.4h0M404.8 905.0h0M384.9 916.2h0M401.8 910.3h0M429.3 906.3h0M323.8 960.7h0M388.2 916.0h0M383.3 918.5h0M394.1 911.4h0M337.7 951.3h0M309.5 966.1h0M404.8 910.2h0M335.1 954.3h0M303.5 965.2h0M335.1 952.7h0M368.6 926.4h0M432.0 906.1h0M344.6 943.2h0M310.1 973.0h0M380.8 916.9h0M342.1 945.3h0M331.7 950.9h0M404.7 910.0h0M336.5 947.3h0M307.0 959.9h0M406.7 905.3h0M433.3 906.8h0M357.7 937.7h0M418.8 908.9h0M376.4 920.4h0M419.9 905.4h0M414.9 910.5h0M340.7 948.7h0M400.8 909.1h0M358.1 937.8h0M340.5 946.7h0M438.4 900.0h0M307.8 970.9h0M338.5 951.2h0M370.2 926.0h0M343.8 948.1h0M435.0 900.3h0M434.9 910.0h0M435.0 905.4h0M315.7 966.4h0M393.5 908.9h0M309.1 970.6h0M424.2 907.6h0M360.2 935.7h0M423.5 909.1h0M436.2 904.9h0M351.9 942.6h0M339.9 946.6h0M327.3 958.2h0M374.6 919.9h0M306.1 969.6h0M433.5 903.5h0M405.0 909.8h0M351.6 939.6h0M324.8 959.8h0" fill="none" stroke="#c42fc8" stroke-width="4.8" stroke-linecap="round"/>
<path d="M431.3 840.5H483.8M458.0 768.0V912.5M429.3 860.0H495.5M462.5 797.0V922.5M462.5 836.0H527.5M494.5 773.0V898.8M465.0 884.0H544.5M503.3 846.3V922.5M507.5 846.3H567.0M537.0 785.5V907.5M502.0 809.5H607.0M554.3 711.3V908.3M580.8 852.8H666.3M623.8 781.3V925.0M412.5 902.5H452.5M433.8 873.8V931.3M214.8 990.6H250.4M233.3 938.4V1075.0M210.5 1038.2H262.0M236.8 940.0V1137.5M225.0 1038.2H272.0M247.4 969.7V1106.0M248.6 997.6H285.4M267.0 944.6V1052.0M262.0 969.1H284.0M273.2 950.0V990.0M272.0 956.8H290.0M281.2 941.0V975.0M280.0 990.0H301.0M290.5 962.0V1018.0M296.0 975.0H316.0M306.0 950.0V1003.0M303.0 985.0H321.0M312.0 958.0V1012.0M343.0 919.5H351.0M346.9 908.5V925.5M381.0 905.0H393.0M387.0 893.0V917.0M395.0 898.0H409.0M402.0 880.0V916.0M403.0 906.0H420.0M411.0 888.0V924.0M412.0 902.0H431.0M421.0 885.0V920.0" fill="none" stroke="#c42fc8" stroke-width="2.5"/>
<path d="M458.0 840.5h0M462.5 860.0h0M494.5 836.0h0M503.3 884.0h0M537.0 846.3h0M554.3 809.5h0M623.8 852.8h0M433.8 902.5h0M233.3 990.6h0M236.8 1038.2h0M247.4 1038.2h0M267.0 997.6h0M273.2 969.1h0M281.2 956.8h0M290.5 990.0h0M306.0 975.0h0M312.0 985.0h0M346.9 919.5h0M387.0 905.0h0M402.0 898.0h0M411.0 906.0h0M421.0 902.0h0" fill="none" stroke="#c42fc8" stroke-width="7.0" stroke-linecap="round"/>
</g>
<line x1="166.8" y1="979.4" x2="689.6" y2="856.8" stroke="#3a8fc6" stroke-width="2.4"/>
<line x1="166.8" y1="933" x2="689.6" y2="933" stroke="#000" stroke-width="2.5" stroke-dasharray="8.6 8.6" stroke-dashoffset="-0.7"/>
<line x1="362.8" y1="690.8" x2="362.8" y2="1158.4" stroke="#000" stroke-width="2.5" stroke-dasharray="8.6 8.6" stroke-dashoffset="3.5"/>
<line x1="166.8" y1="690.5" x2="166.8" y2="1161" stroke="#000" stroke-width="2"/>
<line x1="165.8" y1="1160" x2="690.2" y2="1160" stroke="#000" stroke-width="2"/>
<line x1="161.2" y1="691.8" x2="166" y2="691.8" stroke="#222" stroke-width="1.5"/>
<text x="155.6" y="697.7" font-size="17" text-anchor="end" style="fill:#333;stroke:#333">0.08</text>
<line x1="161.2" y1="812.4" x2="166" y2="812.4" stroke="#222" stroke-width="1.5"/>
<text x="155.6" y="818.3" font-size="17" text-anchor="end" style="fill:#333;stroke:#333">0.04</text>
<line x1="161.2" y1="933" x2="166" y2="933" stroke="#222" stroke-width="1.5"/>
<text x="155.6" y="938.9" font-size="17" text-anchor="end" style="fill:#333;stroke:#333">0.00</text>
<line x1="161.2" y1="1053.6" x2="166" y2="1053.6" stroke="#222" stroke-width="1.5"/>
<text x="155.6" y="1059.5" font-size="17" text-anchor="end" style="fill:#333;stroke:#333">-0.04</text>
<line x1="233.3" y1="1160.8" x2="233.3" y2="1165.4" stroke="#222" stroke-width="1.5"/>
<text x="232.6" y="1183.2" font-size="17" text-anchor="middle" style="fill:#333;stroke:#333">-0.01</text>
<line x1="363.1" y1="1160.8" x2="363.1" y2="1165.4" stroke="#222" stroke-width="1.5"/>
<text x="362.8" y="1183.2" font-size="17" text-anchor="middle" style="fill:#333;stroke:#333">0.00</text>
<line x1="492.9" y1="1160.8" x2="492.9" y2="1165.4" stroke="#222" stroke-width="1.5"/>
<text x="492.6" y="1183.2" font-size="17" text-anchor="middle" style="fill:#333;stroke:#333">0.01</text>
<line x1="622.7" y1="1160.8" x2="622.7" y2="1165.4" stroke="#222" stroke-width="1.5"/>
<text x="622.4" y="1183.2" font-size="17" text-anchor="middle" style="fill:#333;stroke:#333">0.02</text>
<text x="367.5" y="1218.8" font-size="27.9" text-anchor="middle">Effect size</text>
<text x="367.8" y="1253.8" font-size="27.9" text-anchor="middle">(discovery dataset)</text>
<text x="60.5" y="906" font-size="27.9" text-anchor="middle" transform="rotate(-90 60.5 906)">Effect size</text>
<text x="95.2" y="906.6" font-size="27.9" text-anchor="middle" transform="rotate(-90 95.2 906.6)">(replication dataset)</text>
<text x="182" y="703.4" font-size="27.9"><tspan font-style="italic">r</tspan> = 0.76</text>
<text x="182" y="737.6" font-size="27.9"><tspan font-style="italic">P</tspan> = 5.4 x 10<tspan font-size="18.4" dy="-8.4">-70</tspan></text>
<line x1="513.8" y1="1070" x2="556.3" y2="1070" stroke="#c834cc" stroke-width="4.6"/>
<circle cx="534.6" cy="1070" r="6" fill="#c834cc"/>
<text x="567.4" y="1075.2" font-size="23.7"><tspan font-style="italic">P</tspan> &lt; 0.05</text>
<line x1="513.8" y1="1122.4" x2="556.3" y2="1122.4" stroke="#b8b8b8" stroke-width="4.6"/>
<circle cx="534.6" cy="1122.4" r="6" fill="#b8b8b8"/>
<text x="567.4" y="1132.6" font-size="23.7">Others</text>
</g>
</svg>
</body>
</html>
